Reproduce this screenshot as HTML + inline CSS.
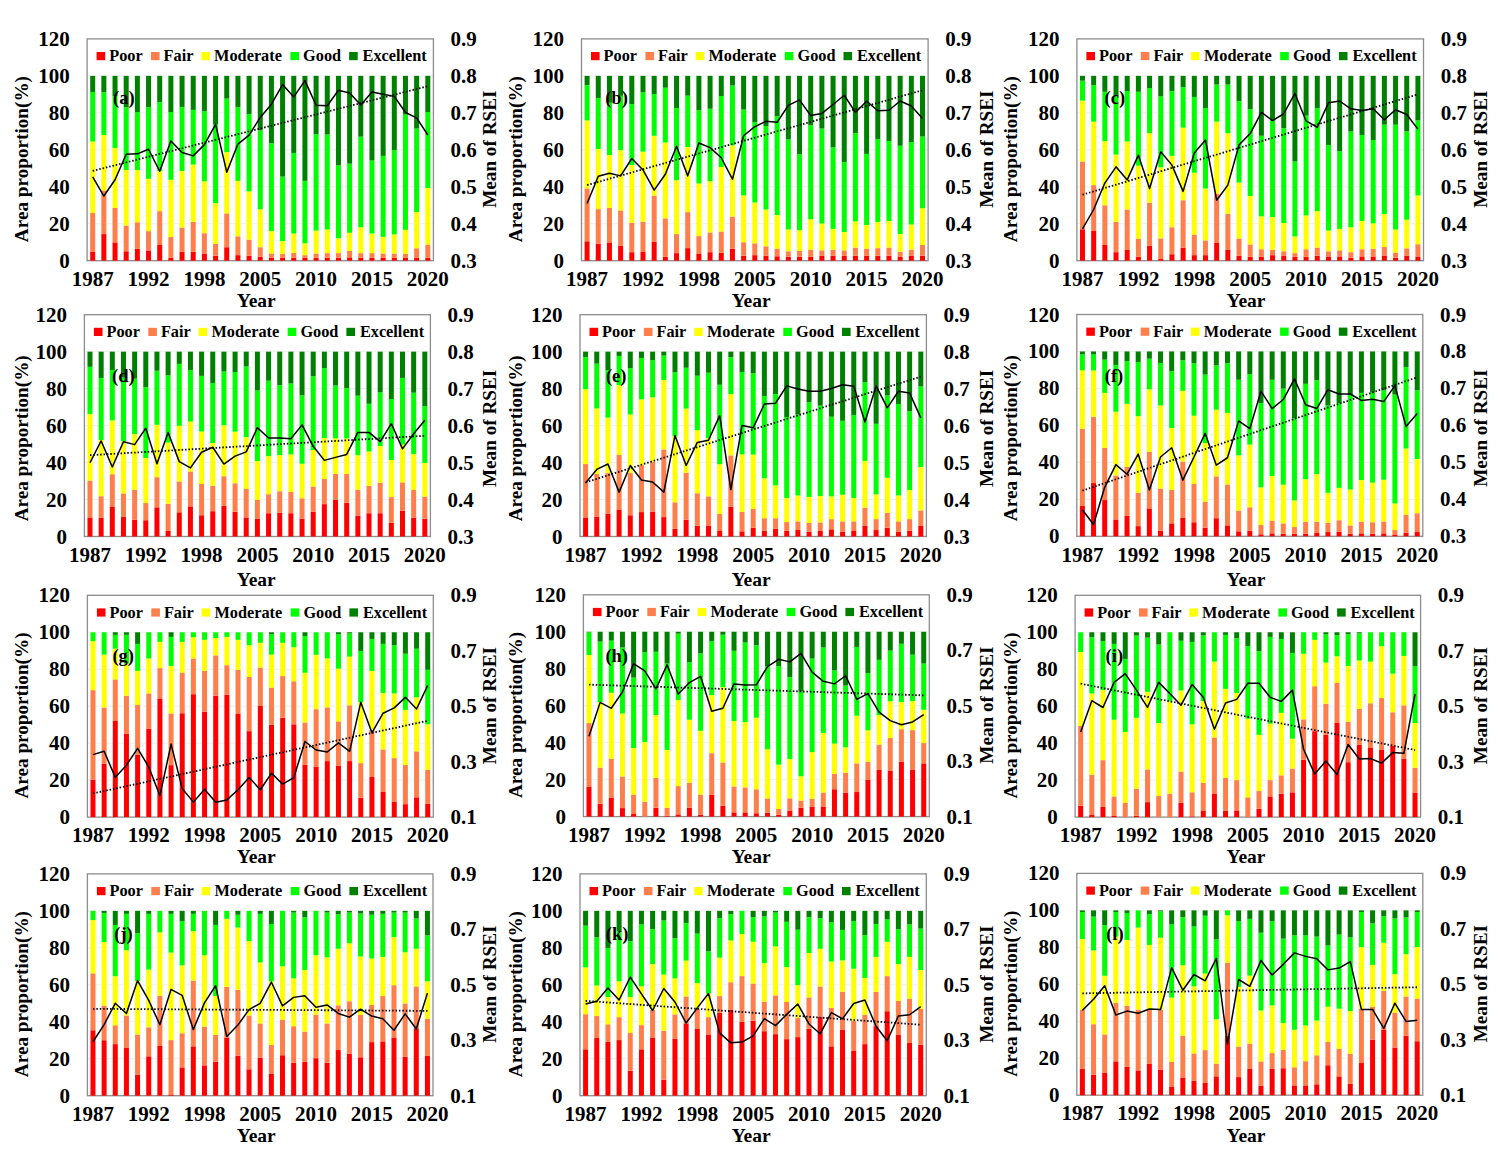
<!DOCTYPE html><html><head><meta charset="utf-8"><style>html,body{margin:0;padding:0;background:#fff;}svg{display:block}text{font-family:'Liberation Serif', serif;font-weight:bold;fill:#000}</style></head><body>
<svg width="1500" height="1154" viewBox="0 0 1500 1154">
<rect x="0" y="0" width="1500" height="1154" fill="#fff"/>
<g><line x1="87.1" y1="223.73" x2="433.4" y2="223.73" stroke="#efefef" stroke-width="1"/><line x1="87.1" y1="186.77" x2="433.4" y2="186.77" stroke="#efefef" stroke-width="1"/><line x1="87.1" y1="149.8" x2="433.4" y2="149.8" stroke="#efefef" stroke-width="1"/><line x1="87.1" y1="112.83" x2="433.4" y2="112.83" stroke="#efefef" stroke-width="1"/><line x1="87.1" y1="75.87" x2="433.4" y2="75.87" stroke="#efefef" stroke-width="1"/><rect x="87.1" y="38.9" width="346.3" height="221.8" fill="none" stroke="#8c8c8c" stroke-width="1.3"/><rect x="90.19" y="251.83" width="5" height="8.87" fill="#ff0000"/><rect x="90.19" y="213.01" width="5" height="38.81" fill="#ff7f4c"/><rect x="90.19" y="141.48" width="5" height="71.53" fill="#ffff00"/><rect x="90.19" y="91.95" width="5" height="49.54" fill="#00ff00"/><rect x="90.19" y="75.87" width="5" height="16.08" fill="#008000"/><rect x="101.36" y="234.08" width="5" height="26.62" fill="#ff0000"/><rect x="101.36" y="190.46" width="5" height="43.62" fill="#ff7f4c"/><rect x="101.36" y="135.01" width="5" height="55.45" fill="#ffff00"/><rect x="101.36" y="92.32" width="5" height="42.7" fill="#00ff00"/><rect x="101.36" y="75.87" width="5" height="16.45" fill="#008000"/><rect x="112.53" y="242.4" width="5" height="18.3" fill="#ff0000"/><rect x="112.53" y="207.84" width="5" height="34.56" fill="#ff7f4c"/><rect x="112.53" y="147.95" width="5" height="59.89" fill="#ffff00"/><rect x="112.53" y="96.01" width="5" height="51.94" fill="#00ff00"/><rect x="112.53" y="75.87" width="5" height="20.15" fill="#008000"/><rect x="123.7" y="251.27" width="5" height="9.43" fill="#ff0000"/><rect x="123.7" y="225.58" width="5" height="25.69" fill="#ff7f4c"/><rect x="123.7" y="169.95" width="5" height="55.63" fill="#ffff00"/><rect x="123.7" y="107.29" width="5" height="62.66" fill="#00ff00"/><rect x="123.7" y="75.87" width="5" height="31.42" fill="#008000"/><rect x="134.87" y="248.87" width="5" height="11.83" fill="#ff0000"/><rect x="134.87" y="222.25" width="5" height="26.62" fill="#ff7f4c"/><rect x="134.87" y="170.13" width="5" height="52.12" fill="#ffff00"/><rect x="134.87" y="112.09" width="5" height="58.04" fill="#00ff00"/><rect x="134.87" y="75.87" width="5" height="36.23" fill="#008000"/><rect x="146.04" y="250.53" width="5" height="10.17" fill="#ff0000"/><rect x="146.04" y="231.13" width="5" height="19.41" fill="#ff7f4c"/><rect x="146.04" y="178.82" width="5" height="52.31" fill="#ffff00"/><rect x="146.04" y="107.1" width="5" height="71.72" fill="#00ff00"/><rect x="146.04" y="75.87" width="5" height="31.24" fill="#008000"/><rect x="157.21" y="244.99" width="5" height="15.71" fill="#ff0000"/><rect x="157.21" y="211.16" width="5" height="33.82" fill="#ff7f4c"/><rect x="157.21" y="171.06" width="5" height="40.11" fill="#ffff00"/><rect x="157.21" y="102.11" width="5" height="68.94" fill="#00ff00"/><rect x="157.21" y="75.87" width="5" height="26.25" fill="#008000"/><rect x="168.38" y="257.74" width="5" height="2.96" fill="#ff0000"/><rect x="168.38" y="237.04" width="5" height="20.7" fill="#ff7f4c"/><rect x="168.38" y="179.74" width="5" height="57.3" fill="#ffff00"/><rect x="168.38" y="112.09" width="5" height="67.65" fill="#00ff00"/><rect x="168.38" y="75.87" width="5" height="36.23" fill="#008000"/><rect x="179.55" y="251.83" width="5" height="8.87" fill="#ff0000"/><rect x="179.55" y="227.61" width="5" height="24.21" fill="#ff7f4c"/><rect x="179.55" y="171.06" width="5" height="56.56" fill="#ffff00"/><rect x="179.55" y="107.1" width="5" height="63.95" fill="#00ff00"/><rect x="179.55" y="75.87" width="5" height="31.24" fill="#008000"/><rect x="190.72" y="251.83" width="5" height="8.87" fill="#ff0000"/><rect x="190.72" y="221.88" width="5" height="29.94" fill="#ff7f4c"/><rect x="190.72" y="164.59" width="5" height="57.3" fill="#ffff00"/><rect x="190.72" y="109.88" width="5" height="54.71" fill="#00ff00"/><rect x="190.72" y="75.87" width="5" height="34.01" fill="#008000"/><rect x="201.9" y="253.49" width="5" height="7.21" fill="#ff0000"/><rect x="201.9" y="233.16" width="5" height="20.33" fill="#ff7f4c"/><rect x="201.9" y="181.22" width="5" height="51.94" fill="#ffff00"/><rect x="201.9" y="111.17" width="5" height="70.05" fill="#00ff00"/><rect x="201.9" y="75.87" width="5" height="35.3" fill="#008000"/><rect x="213.07" y="255.71" width="5" height="4.99" fill="#ff0000"/><rect x="213.07" y="243.88" width="5" height="11.83" fill="#ff7f4c"/><rect x="213.07" y="203.22" width="5" height="40.66" fill="#ffff00"/><rect x="213.07" y="124.29" width="5" height="78.92" fill="#00ff00"/><rect x="213.07" y="75.87" width="5" height="48.43" fill="#008000"/><rect x="224.24" y="247.21" width="5" height="13.49" fill="#ff0000"/><rect x="224.24" y="213.38" width="5" height="33.82" fill="#ff7f4c"/><rect x="224.24" y="152.2" width="5" height="61.18" fill="#ffff00"/><rect x="224.24" y="98.6" width="5" height="53.6" fill="#00ff00"/><rect x="224.24" y="75.87" width="5" height="22.73" fill="#008000"/><rect x="235.41" y="255.16" width="5" height="5.54" fill="#ff0000"/><rect x="235.41" y="236.3" width="5" height="18.85" fill="#ff7f4c"/><rect x="235.41" y="180.85" width="5" height="55.45" fill="#ffff00"/><rect x="235.41" y="107.1" width="5" height="73.75" fill="#00ff00"/><rect x="235.41" y="75.87" width="5" height="31.24" fill="#008000"/><rect x="246.58" y="255.89" width="5" height="4.81" fill="#ff0000"/><rect x="246.58" y="239.63" width="5" height="16.27" fill="#ff7f4c"/><rect x="246.58" y="191.39" width="5" height="48.24" fill="#ffff00"/><rect x="246.58" y="114.13" width="5" height="77.26" fill="#00ff00"/><rect x="246.58" y="75.87" width="5" height="38.26" fill="#008000"/><rect x="257.75" y="256.82" width="5" height="3.88" fill="#ff0000"/><rect x="257.75" y="247.21" width="5" height="9.61" fill="#ff7f4c"/><rect x="257.75" y="209.32" width="5" height="37.89" fill="#ffff00"/><rect x="257.75" y="130.39" width="5" height="78.92" fill="#00ff00"/><rect x="257.75" y="75.87" width="5" height="54.53" fill="#008000"/><rect x="268.92" y="257.74" width="5" height="2.96" fill="#ff0000"/><rect x="268.92" y="253.49" width="5" height="4.25" fill="#ff7f4c"/><rect x="268.92" y="231.13" width="5" height="22.36" fill="#ffff00"/><rect x="268.92" y="143.15" width="5" height="87.98" fill="#00ff00"/><rect x="268.92" y="75.87" width="5" height="67.28" fill="#008000"/><rect x="280.09" y="257.74" width="5" height="2.96" fill="#ff0000"/><rect x="280.09" y="253.86" width="5" height="3.88" fill="#ff7f4c"/><rect x="280.09" y="241.11" width="5" height="12.75" fill="#ffff00"/><rect x="280.09" y="176.6" width="5" height="64.51" fill="#00ff00"/><rect x="280.09" y="75.87" width="5" height="100.73" fill="#008000"/><rect x="291.26" y="257.74" width="5" height="2.96" fill="#ff0000"/><rect x="291.26" y="252.94" width="5" height="4.81" fill="#ff7f4c"/><rect x="291.26" y="233.53" width="5" height="19.41" fill="#ffff00"/><rect x="291.26" y="152.94" width="5" height="80.59" fill="#00ff00"/><rect x="291.26" y="75.87" width="5" height="77.08" fill="#008000"/><rect x="302.43" y="257.93" width="5" height="2.77" fill="#ff0000"/><rect x="302.43" y="255.16" width="5" height="2.77" fill="#ff7f4c"/><rect x="302.43" y="243.33" width="5" height="11.83" fill="#ffff00"/><rect x="302.43" y="180.85" width="5" height="62.47" fill="#00ff00"/><rect x="302.43" y="75.87" width="5" height="104.99" fill="#008000"/><rect x="313.6" y="257.74" width="5" height="2.96" fill="#ff0000"/><rect x="313.6" y="253.49" width="5" height="4.25" fill="#ff7f4c"/><rect x="313.6" y="230.57" width="5" height="22.92" fill="#ffff00"/><rect x="313.6" y="134.09" width="5" height="96.48" fill="#00ff00"/><rect x="313.6" y="75.87" width="5" height="58.22" fill="#008000"/><rect x="324.78" y="257.74" width="5" height="2.96" fill="#ff0000"/><rect x="324.78" y="253.12" width="5" height="4.62" fill="#ff7f4c"/><rect x="324.78" y="229.46" width="5" height="23.66" fill="#ffff00"/><rect x="324.78" y="134.46" width="5" height="95" fill="#00ff00"/><rect x="324.78" y="75.87" width="5" height="58.59" fill="#008000"/><rect x="335.95" y="257.74" width="5" height="2.96" fill="#ff0000"/><rect x="335.95" y="253.12" width="5" height="4.62" fill="#ff7f4c"/><rect x="335.95" y="238.34" width="5" height="14.79" fill="#ffff00"/><rect x="335.95" y="165.33" width="5" height="73.01" fill="#00ff00"/><rect x="335.95" y="75.87" width="5" height="89.46" fill="#008000"/><rect x="347.12" y="257.37" width="5" height="3.33" fill="#ff0000"/><rect x="347.12" y="250.9" width="5" height="6.47" fill="#ff7f4c"/><rect x="347.12" y="232.79" width="5" height="18.11" fill="#ffff00"/><rect x="347.12" y="163.66" width="5" height="69.13" fill="#00ff00"/><rect x="347.12" y="75.87" width="5" height="87.8" fill="#008000"/><rect x="358.29" y="257.74" width="5" height="2.96" fill="#ff0000"/><rect x="358.29" y="253.12" width="5" height="4.62" fill="#ff7f4c"/><rect x="358.29" y="227.25" width="5" height="25.88" fill="#ffff00"/><rect x="358.29" y="136.68" width="5" height="90.57" fill="#00ff00"/><rect x="358.29" y="75.87" width="5" height="60.81" fill="#008000"/><rect x="369.46" y="257.74" width="5" height="2.96" fill="#ff0000"/><rect x="369.46" y="253.12" width="5" height="4.62" fill="#ff7f4c"/><rect x="369.46" y="233.53" width="5" height="19.59" fill="#ffff00"/><rect x="369.46" y="160.52" width="5" height="73.01" fill="#00ff00"/><rect x="369.46" y="75.87" width="5" height="84.65" fill="#008000"/><rect x="380.63" y="257.93" width="5" height="2.77" fill="#ff0000"/><rect x="380.63" y="253.49" width="5" height="4.44" fill="#ff7f4c"/><rect x="380.63" y="236.86" width="5" height="16.64" fill="#ffff00"/><rect x="380.63" y="155.9" width="5" height="80.96" fill="#00ff00"/><rect x="380.63" y="75.87" width="5" height="80.03" fill="#008000"/><rect x="391.8" y="257.93" width="5" height="2.77" fill="#ff0000"/><rect x="391.8" y="253.49" width="5" height="4.44" fill="#ff7f4c"/><rect x="391.8" y="234.45" width="5" height="19.04" fill="#ffff00"/><rect x="391.8" y="150.17" width="5" height="84.28" fill="#00ff00"/><rect x="391.8" y="75.87" width="5" height="74.3" fill="#008000"/><rect x="402.97" y="257.93" width="5" height="2.77" fill="#ff0000"/><rect x="402.97" y="253.86" width="5" height="4.07" fill="#ff7f4c"/><rect x="402.97" y="229.83" width="5" height="24.03" fill="#ffff00"/><rect x="402.97" y="114.5" width="5" height="115.34" fill="#00ff00"/><rect x="402.97" y="75.87" width="5" height="38.63" fill="#008000"/><rect x="414.14" y="257.93" width="5" height="2.77" fill="#ff0000"/><rect x="414.14" y="248.32" width="5" height="9.61" fill="#ff7f4c"/><rect x="414.14" y="212.09" width="5" height="36.23" fill="#ffff00"/><rect x="414.14" y="128.54" width="5" height="83.54" fill="#00ff00"/><rect x="414.14" y="75.87" width="5" height="52.68" fill="#008000"/><rect x="425.31" y="257.74" width="5" height="2.96" fill="#ff0000"/><rect x="425.31" y="244.62" width="5" height="13.12" fill="#ff7f4c"/><rect x="425.31" y="188.06" width="5" height="56.56" fill="#ffff00"/><rect x="425.31" y="112.09" width="5" height="75.97" fill="#00ff00"/><rect x="425.31" y="75.87" width="5" height="36.23" fill="#008000"/><line x1="92.69" y1="170.87" x2="427.81" y2="86.22" stroke="#000" stroke-width="1.8" stroke-dasharray="1.5 1.9"/><polyline points="92.69,176.97 103.86,196.01 115.03,179.74 126.2,154.24 137.37,153.87 148.54,149.25 159.71,171.24 170.88,140.93 182.05,152.57 193.22,155.9 204.4,144.62 215.57,124.29 226.74,172.16 237.91,144.07 249.08,135.2 260.25,117.45 271.42,104.15 282.59,84.55 293.76,96.94 304.93,80.67 316.1,105.26 327.28,105.81 338.45,90.28 349.62,93.06 360.79,104.89 371.96,91.95 383.13,94.35 394.3,96.38 405.47,112.46 416.64,117.82 427.81,135.01" fill="none" stroke="#000" stroke-width="1.5" stroke-linejoin="round"/><rect x="96.6" y="52" width="8.6" height="8.2" fill="#ff0000"/><text x="109.2" y="61.4" font-size="16.3">Poor</text><rect x="151" y="52" width="8.6" height="8.2" fill="#ff7f4c"/><text x="163.6" y="61.4" font-size="16.3">Fair</text><rect x="201.3" y="52" width="8.6" height="8.2" fill="#ffff00"/><text x="214.1" y="61.4" font-size="16.3">Moderate</text><rect x="290.4" y="52" width="8.6" height="8.2" fill="#00ff00"/><text x="303.1" y="61.4" font-size="16.3">Good</text><rect x="349.1" y="52" width="8.6" height="8.2" fill="#008000"/><text x="362.6" y="61.4" font-size="16.3">Excellent</text><text x="113.1" y="104.2" font-size="18.5">(a)</text><text x="69.7" y="267.7" font-size="21" text-anchor="end">0</text><text x="69.7" y="230.73" font-size="21" text-anchor="end">20</text><text x="69.7" y="193.77" font-size="21" text-anchor="end">40</text><text x="69.7" y="156.8" font-size="21" text-anchor="end">60</text><text x="69.7" y="119.83" font-size="21" text-anchor="end">80</text><text x="69.7" y="82.87" font-size="21" text-anchor="end">100</text><text x="69.7" y="45.9" font-size="21" text-anchor="end">120</text><text x="450.6" y="267.7" font-size="21">0.3</text><text x="450.6" y="230.73" font-size="21">0.4</text><text x="450.6" y="193.77" font-size="21">0.5</text><text x="450.6" y="156.8" font-size="21">0.6</text><text x="450.6" y="119.83" font-size="21">0.7</text><text x="450.6" y="82.87" font-size="21">0.8</text><text x="450.6" y="45.9" font-size="21">0.9</text><text x="92.69" y="285.9" font-size="21" text-anchor="middle">1987</text><text x="148.54" y="285.9" font-size="21" text-anchor="middle">1992</text><text x="204.4" y="285.9" font-size="21" text-anchor="middle">1998</text><text x="260.25" y="285.9" font-size="21" text-anchor="middle">2005</text><text x="316.1" y="285.9" font-size="21" text-anchor="middle">2010</text><text x="371.96" y="285.9" font-size="21" text-anchor="middle">2015</text><text x="427.81" y="285.9" font-size="21" text-anchor="middle">2020</text><text x="256.3" y="307" font-size="19.5" text-anchor="middle">Year</text><text transform="translate(21.6,159.1) rotate(-90)" x="0" y="0" font-size="19.2" text-anchor="middle" dy="6.5">Area proportion(%)</text><text transform="translate(489,149.2) rotate(-90)" x="0" y="0" font-size="19.2" text-anchor="middle" dy="6.5">Mean of RSEI</text></g>
<g><line x1="581.5" y1="223.73" x2="928.1" y2="223.73" stroke="#efefef" stroke-width="1"/><line x1="581.5" y1="186.77" x2="928.1" y2="186.77" stroke="#efefef" stroke-width="1"/><line x1="581.5" y1="149.8" x2="928.1" y2="149.8" stroke="#efefef" stroke-width="1"/><line x1="581.5" y1="112.83" x2="928.1" y2="112.83" stroke="#efefef" stroke-width="1"/><line x1="581.5" y1="75.87" x2="928.1" y2="75.87" stroke="#efefef" stroke-width="1"/><rect x="581.5" y="38.9" width="346.6" height="221.8" fill="none" stroke="#8c8c8c" stroke-width="1.3"/><rect x="584.59" y="241.29" width="5" height="19.41" fill="#ff0000"/><rect x="584.59" y="188.43" width="5" height="52.86" fill="#ff7f4c"/><rect x="584.59" y="120.41" width="5" height="68.02" fill="#ffff00"/><rect x="584.59" y="85.11" width="5" height="35.3" fill="#00ff00"/><rect x="584.59" y="75.87" width="5" height="9.24" fill="#008000"/><rect x="595.77" y="243.88" width="5" height="16.82" fill="#ff0000"/><rect x="595.77" y="209.13" width="5" height="34.75" fill="#ff7f4c"/><rect x="595.77" y="149.06" width="5" height="60.07" fill="#ffff00"/><rect x="595.77" y="98.05" width="5" height="51.01" fill="#00ff00"/><rect x="595.77" y="75.87" width="5" height="22.18" fill="#008000"/><rect x="606.95" y="242.4" width="5" height="18.3" fill="#ff0000"/><rect x="606.95" y="207.84" width="5" height="34.56" fill="#ff7f4c"/><rect x="606.95" y="154.98" width="5" height="52.86" fill="#ffff00"/><rect x="606.95" y="102.67" width="5" height="52.31" fill="#00ff00"/><rect x="606.95" y="75.87" width="5" height="26.8" fill="#008000"/><rect x="618.13" y="245.91" width="5" height="14.79" fill="#ff0000"/><rect x="618.13" y="210.43" width="5" height="35.49" fill="#ff7f4c"/><rect x="618.13" y="150.17" width="5" height="60.26" fill="#ffff00"/><rect x="618.13" y="95.83" width="5" height="54.34" fill="#00ff00"/><rect x="618.13" y="75.87" width="5" height="19.96" fill="#008000"/><rect x="629.31" y="252.2" width="5" height="8.5" fill="#ff0000"/><rect x="629.31" y="222.81" width="5" height="29.39" fill="#ff7f4c"/><rect x="629.31" y="165.14" width="5" height="57.67" fill="#ffff00"/><rect x="629.31" y="104.15" width="5" height="61" fill="#00ff00"/><rect x="629.31" y="75.87" width="5" height="28.28" fill="#008000"/><rect x="640.49" y="252.01" width="5" height="8.69" fill="#ff0000"/><rect x="640.49" y="221.7" width="5" height="30.31" fill="#ff7f4c"/><rect x="640.49" y="151.65" width="5" height="70.05" fill="#ffff00"/><rect x="640.49" y="92.32" width="5" height="59.33" fill="#00ff00"/><rect x="640.49" y="75.87" width="5" height="16.45" fill="#008000"/><rect x="651.67" y="241.66" width="5" height="19.04" fill="#ff0000"/><rect x="651.67" y="195.64" width="5" height="46.02" fill="#ff7f4c"/><rect x="651.67" y="135.75" width="5" height="59.89" fill="#ffff00"/><rect x="651.67" y="93.98" width="5" height="41.77" fill="#00ff00"/><rect x="651.67" y="75.87" width="5" height="18.11" fill="#008000"/><rect x="662.85" y="256.82" width="5" height="3.88" fill="#ff0000"/><rect x="662.85" y="218.37" width="5" height="38.45" fill="#ff7f4c"/><rect x="662.85" y="142.41" width="5" height="75.97" fill="#ffff00"/><rect x="662.85" y="87.7" width="5" height="54.71" fill="#00ff00"/><rect x="662.85" y="75.87" width="5" height="11.83" fill="#008000"/><rect x="674.04" y="253.12" width="5" height="7.58" fill="#ff0000"/><rect x="674.04" y="234.08" width="5" height="19.04" fill="#ff7f4c"/><rect x="674.04" y="180.3" width="5" height="53.79" fill="#ffff00"/><rect x="674.04" y="108.03" width="5" height="72.27" fill="#00ff00"/><rect x="674.04" y="75.87" width="5" height="32.16" fill="#008000"/><rect x="685.22" y="248.13" width="5" height="12.57" fill="#ff0000"/><rect x="685.22" y="212.09" width="5" height="36.04" fill="#ff7f4c"/><rect x="685.22" y="147.03" width="5" height="65.06" fill="#ffff00"/><rect x="685.22" y="95.64" width="5" height="51.38" fill="#00ff00"/><rect x="685.22" y="75.87" width="5" height="19.78" fill="#008000"/><rect x="696.4" y="253.49" width="5" height="7.21" fill="#ff0000"/><rect x="696.4" y="236.12" width="5" height="17.37" fill="#ff7f4c"/><rect x="696.4" y="183.44" width="5" height="52.68" fill="#ffff00"/><rect x="696.4" y="110.25" width="5" height="73.19" fill="#00ff00"/><rect x="696.4" y="75.87" width="5" height="34.38" fill="#008000"/><rect x="707.58" y="252.2" width="5" height="8.5" fill="#ff0000"/><rect x="707.58" y="232.42" width="5" height="19.78" fill="#ff7f4c"/><rect x="707.58" y="181.22" width="5" height="51.2" fill="#ffff00"/><rect x="707.58" y="108.77" width="5" height="72.45" fill="#00ff00"/><rect x="707.58" y="75.87" width="5" height="32.9" fill="#008000"/><rect x="718.76" y="252.94" width="5" height="7.76" fill="#ff0000"/><rect x="718.76" y="231.5" width="5" height="21.44" fill="#ff7f4c"/><rect x="718.76" y="166.99" width="5" height="64.51" fill="#ffff00"/><rect x="718.76" y="96.01" width="5" height="70.98" fill="#00ff00"/><rect x="718.76" y="75.87" width="5" height="20.15" fill="#008000"/><rect x="729.94" y="248.87" width="5" height="11.83" fill="#ff0000"/><rect x="729.94" y="216.71" width="5" height="32.16" fill="#ff7f4c"/><rect x="729.94" y="145.36" width="5" height="71.35" fill="#ffff00"/><rect x="729.94" y="85.48" width="5" height="59.89" fill="#00ff00"/><rect x="729.94" y="75.87" width="5" height="9.61" fill="#008000"/><rect x="741.12" y="255.71" width="5" height="4.99" fill="#ff0000"/><rect x="741.12" y="242.22" width="5" height="13.49" fill="#ff7f4c"/><rect x="741.12" y="195.45" width="5" height="46.76" fill="#ffff00"/><rect x="741.12" y="109.51" width="5" height="85.95" fill="#00ff00"/><rect x="741.12" y="75.87" width="5" height="33.64" fill="#008000"/><rect x="752.3" y="255.16" width="5" height="5.54" fill="#ff0000"/><rect x="752.3" y="243.33" width="5" height="11.83" fill="#ff7f4c"/><rect x="752.3" y="202.48" width="5" height="40.85" fill="#ffff00"/><rect x="752.3" y="122.26" width="5" height="80.22" fill="#00ff00"/><rect x="752.3" y="75.87" width="5" height="46.39" fill="#008000"/><rect x="763.48" y="255.89" width="5" height="4.81" fill="#ff0000"/><rect x="763.48" y="246.28" width="5" height="9.61" fill="#ff7f4c"/><rect x="763.48" y="209.5" width="5" height="36.78" fill="#ffff00"/><rect x="763.48" y="125.96" width="5" height="83.54" fill="#00ff00"/><rect x="763.48" y="75.87" width="5" height="50.09" fill="#008000"/><rect x="774.66" y="256.26" width="5" height="4.44" fill="#ff0000"/><rect x="774.66" y="248.69" width="5" height="7.58" fill="#ff7f4c"/><rect x="774.66" y="215.05" width="5" height="33.64" fill="#ffff00"/><rect x="774.66" y="116.16" width="5" height="98.89" fill="#00ff00"/><rect x="774.66" y="75.87" width="5" height="40.29" fill="#008000"/><rect x="785.84" y="256.82" width="5" height="3.88" fill="#ff0000"/><rect x="785.84" y="251.27" width="5" height="5.54" fill="#ff7f4c"/><rect x="785.84" y="229.46" width="5" height="21.81" fill="#ffff00"/><rect x="785.84" y="139.45" width="5" height="90.01" fill="#00ff00"/><rect x="785.84" y="75.87" width="5" height="63.58" fill="#008000"/><rect x="797.02" y="256.82" width="5" height="3.88" fill="#ff0000"/><rect x="797.02" y="250.9" width="5" height="5.91" fill="#ff7f4c"/><rect x="797.02" y="230.2" width="5" height="20.7" fill="#ffff00"/><rect x="797.02" y="154.24" width="5" height="75.97" fill="#00ff00"/><rect x="797.02" y="75.87" width="5" height="78.37" fill="#008000"/><rect x="808.2" y="256.82" width="5" height="3.88" fill="#ff0000"/><rect x="808.2" y="249.79" width="5" height="7.02" fill="#ff7f4c"/><rect x="808.2" y="219.3" width="5" height="30.5" fill="#ffff00"/><rect x="808.2" y="125.22" width="5" height="94.08" fill="#00ff00"/><rect x="808.2" y="75.87" width="5" height="49.35" fill="#008000"/><rect x="819.38" y="255.89" width="5" height="4.81" fill="#ff0000"/><rect x="819.38" y="250.35" width="5" height="5.54" fill="#ff7f4c"/><rect x="819.38" y="223.55" width="5" height="26.8" fill="#ffff00"/><rect x="819.38" y="128.54" width="5" height="95" fill="#00ff00"/><rect x="819.38" y="75.87" width="5" height="52.68" fill="#008000"/><rect x="830.56" y="255.89" width="5" height="4.81" fill="#ff0000"/><rect x="830.56" y="249.79" width="5" height="6.1" fill="#ff7f4c"/><rect x="830.56" y="228.91" width="5" height="20.89" fill="#ffff00"/><rect x="830.56" y="147.4" width="5" height="81.51" fill="#00ff00"/><rect x="830.56" y="75.87" width="5" height="71.53" fill="#008000"/><rect x="841.75" y="255.89" width="5" height="4.81" fill="#ff0000"/><rect x="841.75" y="250.35" width="5" height="5.54" fill="#ff7f4c"/><rect x="841.75" y="232.05" width="5" height="18.3" fill="#ffff00"/><rect x="841.75" y="162" width="5" height="70.05" fill="#00ff00"/><rect x="841.75" y="75.87" width="5" height="86.13" fill="#008000"/><rect x="852.93" y="255.71" width="5" height="4.99" fill="#ff0000"/><rect x="852.93" y="247.58" width="5" height="8.13" fill="#ff7f4c"/><rect x="852.93" y="221.33" width="5" height="26.25" fill="#ffff00"/><rect x="852.93" y="133.16" width="5" height="88.17" fill="#00ff00"/><rect x="852.93" y="75.87" width="5" height="57.3" fill="#008000"/><rect x="864.11" y="255.89" width="5" height="4.81" fill="#ff0000"/><rect x="864.11" y="248.69" width="5" height="7.21" fill="#ff7f4c"/><rect x="864.11" y="225.03" width="5" height="23.66" fill="#ffff00"/><rect x="864.11" y="153.87" width="5" height="71.16" fill="#00ff00"/><rect x="864.11" y="75.87" width="5" height="78" fill="#008000"/><rect x="875.29" y="255.71" width="5" height="4.99" fill="#ff0000"/><rect x="875.29" y="248.13" width="5" height="7.58" fill="#ff7f4c"/><rect x="875.29" y="221.88" width="5" height="26.25" fill="#ffff00"/><rect x="875.29" y="139.08" width="5" height="82.81" fill="#00ff00"/><rect x="875.29" y="75.87" width="5" height="63.21" fill="#008000"/><rect x="886.47" y="255.71" width="5" height="4.99" fill="#ff0000"/><rect x="886.47" y="247.58" width="5" height="8.13" fill="#ff7f4c"/><rect x="886.47" y="220.96" width="5" height="26.62" fill="#ffff00"/><rect x="886.47" y="140.93" width="5" height="80.03" fill="#00ff00"/><rect x="886.47" y="75.87" width="5" height="65.06" fill="#008000"/><rect x="897.65" y="256.82" width="5" height="3.88" fill="#ff0000"/><rect x="897.65" y="251.83" width="5" height="4.99" fill="#ff7f4c"/><rect x="897.65" y="234.08" width="5" height="17.74" fill="#ffff00"/><rect x="897.65" y="145.73" width="5" height="88.35" fill="#00ff00"/><rect x="897.65" y="75.87" width="5" height="69.87" fill="#008000"/><rect x="908.83" y="255.89" width="5" height="4.81" fill="#ff0000"/><rect x="908.83" y="249.61" width="5" height="6.28" fill="#ff7f4c"/><rect x="908.83" y="224.47" width="5" height="25.14" fill="#ffff00"/><rect x="908.83" y="142.04" width="5" height="82.44" fill="#00ff00"/><rect x="908.83" y="75.87" width="5" height="66.17" fill="#008000"/><rect x="920.01" y="255.71" width="5" height="4.99" fill="#ff0000"/><rect x="920.01" y="244.99" width="5" height="10.72" fill="#ff7f4c"/><rect x="920.01" y="208.21" width="5" height="36.78" fill="#ffff00"/><rect x="920.01" y="136.49" width="5" height="71.72" fill="#00ff00"/><rect x="920.01" y="75.87" width="5" height="60.63" fill="#008000"/><line x1="587.09" y1="185.1" x2="922.51" y2="90.28" stroke="#000" stroke-width="1.8" stroke-dasharray="1.5 1.9"/><polyline points="587.09,203.59 598.27,176.23 609.45,173.27 620.63,175.86 631.81,158.49 642.99,169.95 654.17,190.09 665.35,174.2 676.54,146.29 687.72,175.86 698.9,142.96 710.08,147.58 721.26,157.75 732.44,179.19 743.62,135.75 754.8,126.7 765.98,121.34 777.16,122.26 788.34,105.44 799.52,99.89 810.7,115.61 821.88,113.39 833.06,104.52 844.25,95.27 855.43,112.46 866.61,101.19 877.79,110.8 888.97,110.25 900.15,101 911.33,105.99 922.51,118.38" fill="none" stroke="#000" stroke-width="1.5" stroke-linejoin="round"/><rect x="591" y="52" width="8.6" height="8.2" fill="#ff0000"/><text x="603.6" y="61.4" font-size="16.3">Poor</text><rect x="645.4" y="52" width="8.6" height="8.2" fill="#ff7f4c"/><text x="658" y="61.4" font-size="16.3">Fair</text><rect x="695.7" y="52" width="8.6" height="8.2" fill="#ffff00"/><text x="708.5" y="61.4" font-size="16.3">Moderate</text><rect x="784.8" y="52" width="8.6" height="8.2" fill="#00ff00"/><text x="797.5" y="61.4" font-size="16.3">Good</text><rect x="843.5" y="52" width="8.6" height="8.2" fill="#008000"/><text x="857" y="61.4" font-size="16.3">Excellent</text><text x="605.2" y="104.1" font-size="18.5">(b)</text><text x="564.1" y="267.7" font-size="21" text-anchor="end">0</text><text x="564.1" y="230.73" font-size="21" text-anchor="end">20</text><text x="564.1" y="193.77" font-size="21" text-anchor="end">40</text><text x="564.1" y="156.8" font-size="21" text-anchor="end">60</text><text x="564.1" y="119.83" font-size="21" text-anchor="end">80</text><text x="564.1" y="82.87" font-size="21" text-anchor="end">100</text><text x="564.1" y="45.9" font-size="21" text-anchor="end">120</text><text x="945.3" y="267.7" font-size="21">0.3</text><text x="945.3" y="230.73" font-size="21">0.4</text><text x="945.3" y="193.77" font-size="21">0.5</text><text x="945.3" y="156.8" font-size="21">0.6</text><text x="945.3" y="119.83" font-size="21">0.7</text><text x="945.3" y="82.87" font-size="21">0.8</text><text x="945.3" y="45.9" font-size="21">0.9</text><text x="587.09" y="285.9" font-size="21" text-anchor="middle">1987</text><text x="642.99" y="285.9" font-size="21" text-anchor="middle">1992</text><text x="698.9" y="285.9" font-size="21" text-anchor="middle">1998</text><text x="754.8" y="285.9" font-size="21" text-anchor="middle">2005</text><text x="810.7" y="285.9" font-size="21" text-anchor="middle">2010</text><text x="866.61" y="285.9" font-size="21" text-anchor="middle">2015</text><text x="922.51" y="285.9" font-size="21" text-anchor="middle">2020</text><text x="751.2" y="307" font-size="19.5" text-anchor="middle">Year</text><text transform="translate(515.6,159.1) rotate(-90)" x="0" y="0" font-size="19.2" text-anchor="middle" dy="6.5">Area proportion(%)</text><text transform="translate(986.7,149.2) rotate(-90)" x="0" y="0" font-size="19.2" text-anchor="middle" dy="6.5">Mean of RSEI</text></g>
<g><line x1="1076.9" y1="223.73" x2="1423.5" y2="223.73" stroke="#efefef" stroke-width="1"/><line x1="1076.9" y1="186.77" x2="1423.5" y2="186.77" stroke="#efefef" stroke-width="1"/><line x1="1076.9" y1="149.8" x2="1423.5" y2="149.8" stroke="#efefef" stroke-width="1"/><line x1="1076.9" y1="112.83" x2="1423.5" y2="112.83" stroke="#efefef" stroke-width="1"/><line x1="1076.9" y1="75.87" x2="1423.5" y2="75.87" stroke="#efefef" stroke-width="1"/><rect x="1076.9" y="38.9" width="346.6" height="221.8" fill="none" stroke="#8c8c8c" stroke-width="1.3"/><rect x="1079.99" y="229.28" width="5" height="31.42" fill="#ff0000"/><rect x="1079.99" y="161.44" width="5" height="67.83" fill="#ff7f4c"/><rect x="1079.99" y="100.63" width="5" height="60.81" fill="#ffff00"/><rect x="1079.99" y="80.67" width="5" height="19.96" fill="#00ff00"/><rect x="1079.99" y="75.87" width="5" height="4.81" fill="#008000"/><rect x="1091.17" y="230.94" width="5" height="29.76" fill="#ff0000"/><rect x="1091.17" y="185.1" width="5" height="45.84" fill="#ff7f4c"/><rect x="1091.17" y="121.71" width="5" height="63.4" fill="#ffff00"/><rect x="1091.17" y="85.11" width="5" height="36.6" fill="#00ff00"/><rect x="1091.17" y="75.87" width="5" height="9.24" fill="#008000"/><rect x="1102.35" y="244.99" width="5" height="15.71" fill="#ff0000"/><rect x="1102.35" y="205.25" width="5" height="39.74" fill="#ff7f4c"/><rect x="1102.35" y="141.11" width="5" height="64.14" fill="#ffff00"/><rect x="1102.35" y="91.76" width="5" height="49.35" fill="#00ff00"/><rect x="1102.35" y="75.87" width="5" height="15.9" fill="#008000"/><rect x="1113.53" y="252.2" width="5" height="8.5" fill="#ff0000"/><rect x="1113.53" y="221.88" width="5" height="30.31" fill="#ff7f4c"/><rect x="1113.53" y="154.61" width="5" height="67.28" fill="#ffff00"/><rect x="1113.53" y="95.46" width="5" height="59.15" fill="#00ff00"/><rect x="1113.53" y="75.87" width="5" height="19.59" fill="#008000"/><rect x="1124.71" y="249.98" width="5" height="10.72" fill="#ff0000"/><rect x="1124.71" y="209.5" width="5" height="40.48" fill="#ff7f4c"/><rect x="1124.71" y="141.48" width="5" height="68.02" fill="#ffff00"/><rect x="1124.71" y="91.02" width="5" height="50.46" fill="#00ff00"/><rect x="1124.71" y="75.87" width="5" height="15.16" fill="#008000"/><rect x="1135.89" y="256.82" width="5" height="3.88" fill="#ff0000"/><rect x="1135.89" y="238.7" width="5" height="18.11" fill="#ff7f4c"/><rect x="1135.89" y="165.7" width="5" height="73.01" fill="#ffff00"/><rect x="1135.89" y="91.76" width="5" height="73.93" fill="#00ff00"/><rect x="1135.89" y="75.87" width="5" height="15.9" fill="#008000"/><rect x="1147.07" y="245.91" width="5" height="14.79" fill="#ff0000"/><rect x="1147.07" y="202.85" width="5" height="43.07" fill="#ff7f4c"/><rect x="1147.07" y="133.16" width="5" height="69.68" fill="#ffff00"/><rect x="1147.07" y="88.07" width="5" height="45.1" fill="#00ff00"/><rect x="1147.07" y="75.87" width="5" height="12.2" fill="#008000"/><rect x="1158.25" y="259.04" width="5" height="1.66" fill="#ff0000"/><rect x="1158.25" y="238.34" width="5" height="20.7" fill="#ff7f4c"/><rect x="1158.25" y="167.36" width="5" height="70.98" fill="#ffff00"/><rect x="1158.25" y="96.38" width="5" height="70.98" fill="#00ff00"/><rect x="1158.25" y="75.87" width="5" height="20.52" fill="#008000"/><rect x="1169.44" y="254.23" width="5" height="6.47" fill="#ff0000"/><rect x="1169.44" y="227.25" width="5" height="26.99" fill="#ff7f4c"/><rect x="1169.44" y="155.9" width="5" height="71.35" fill="#ffff00"/><rect x="1169.44" y="91.02" width="5" height="64.88" fill="#00ff00"/><rect x="1169.44" y="75.87" width="5" height="15.16" fill="#008000"/><rect x="1180.62" y="247.58" width="5" height="13.12" fill="#ff0000"/><rect x="1180.62" y="200.26" width="5" height="47.32" fill="#ff7f4c"/><rect x="1180.62" y="127.62" width="5" height="72.64" fill="#ffff00"/><rect x="1180.62" y="87.14" width="5" height="40.48" fill="#00ff00"/><rect x="1180.62" y="75.87" width="5" height="11.27" fill="#008000"/><rect x="1191.8" y="255.16" width="5" height="5.54" fill="#ff0000"/><rect x="1191.8" y="234.82" width="5" height="20.33" fill="#ff7f4c"/><rect x="1191.8" y="172.72" width="5" height="62.1" fill="#ffff00"/><rect x="1191.8" y="96.94" width="5" height="75.78" fill="#00ff00"/><rect x="1191.8" y="75.87" width="5" height="21.07" fill="#008000"/><rect x="1202.98" y="255.16" width="5" height="5.54" fill="#ff0000"/><rect x="1202.98" y="240.37" width="5" height="14.79" fill="#ff7f4c"/><rect x="1202.98" y="188.43" width="5" height="51.94" fill="#ffff00"/><rect x="1202.98" y="108.03" width="5" height="80.4" fill="#00ff00"/><rect x="1202.98" y="75.87" width="5" height="32.16" fill="#008000"/><rect x="1214.16" y="242.96" width="5" height="17.74" fill="#ff0000"/><rect x="1214.16" y="193.61" width="5" height="49.35" fill="#ff7f4c"/><rect x="1214.16" y="121.71" width="5" height="71.9" fill="#ffff00"/><rect x="1214.16" y="84.55" width="5" height="37.15" fill="#00ff00"/><rect x="1214.16" y="75.87" width="5" height="8.69" fill="#008000"/><rect x="1225.34" y="249.61" width="5" height="11.09" fill="#ff0000"/><rect x="1225.34" y="213.75" width="5" height="35.86" fill="#ff7f4c"/><rect x="1225.34" y="133.16" width="5" height="80.59" fill="#ffff00"/><rect x="1225.34" y="84.55" width="5" height="48.61" fill="#00ff00"/><rect x="1225.34" y="75.87" width="5" height="8.69" fill="#008000"/><rect x="1236.52" y="255.89" width="5" height="4.81" fill="#ff0000"/><rect x="1236.52" y="238.52" width="5" height="17.37" fill="#ff7f4c"/><rect x="1236.52" y="182.52" width="5" height="56" fill="#ffff00"/><rect x="1236.52" y="101.19" width="5" height="81.33" fill="#00ff00"/><rect x="1236.52" y="75.87" width="5" height="25.32" fill="#008000"/><rect x="1247.7" y="256.82" width="5" height="3.88" fill="#ff0000"/><rect x="1247.7" y="244.43" width="5" height="12.38" fill="#ff7f4c"/><rect x="1247.7" y="196.01" width="5" height="48.43" fill="#ffff00"/><rect x="1247.7" y="109.14" width="5" height="86.87" fill="#00ff00"/><rect x="1247.7" y="75.87" width="5" height="33.27" fill="#008000"/><rect x="1258.88" y="256.82" width="5" height="3.88" fill="#ff0000"/><rect x="1258.88" y="249.24" width="5" height="7.58" fill="#ff7f4c"/><rect x="1258.88" y="216.34" width="5" height="32.9" fill="#ffff00"/><rect x="1258.88" y="135.75" width="5" height="80.59" fill="#00ff00"/><rect x="1258.88" y="75.87" width="5" height="59.89" fill="#008000"/><rect x="1270.06" y="255.16" width="5" height="5.54" fill="#ff0000"/><rect x="1270.06" y="249.79" width="5" height="5.36" fill="#ff7f4c"/><rect x="1270.06" y="217.08" width="5" height="32.72" fill="#ffff00"/><rect x="1270.06" y="120.6" width="5" height="96.48" fill="#00ff00"/><rect x="1270.06" y="75.87" width="5" height="44.73" fill="#008000"/><rect x="1281.24" y="255.89" width="5" height="4.81" fill="#ff0000"/><rect x="1281.24" y="251.27" width="5" height="4.62" fill="#ff7f4c"/><rect x="1281.24" y="222.99" width="5" height="28.28" fill="#ffff00"/><rect x="1281.24" y="128.17" width="5" height="94.82" fill="#00ff00"/><rect x="1281.24" y="75.87" width="5" height="52.31" fill="#008000"/><rect x="1292.42" y="256.82" width="5" height="3.88" fill="#ff0000"/><rect x="1292.42" y="253.12" width="5" height="3.7" fill="#ff7f4c"/><rect x="1292.42" y="236.49" width="5" height="16.64" fill="#ffff00"/><rect x="1292.42" y="161.44" width="5" height="75.04" fill="#00ff00"/><rect x="1292.42" y="75.87" width="5" height="85.58" fill="#008000"/><rect x="1303.6" y="256.82" width="5" height="3.88" fill="#ff0000"/><rect x="1303.6" y="249.24" width="5" height="7.58" fill="#ff7f4c"/><rect x="1303.6" y="215.42" width="5" height="33.82" fill="#ffff00"/><rect x="1303.6" y="115.61" width="5" height="99.81" fill="#00ff00"/><rect x="1303.6" y="75.87" width="5" height="39.74" fill="#008000"/><rect x="1314.78" y="255.71" width="5" height="4.99" fill="#ff0000"/><rect x="1314.78" y="247.58" width="5" height="8.13" fill="#ff7f4c"/><rect x="1314.78" y="211.16" width="5" height="36.41" fill="#ffff00"/><rect x="1314.78" y="108.21" width="5" height="102.95" fill="#00ff00"/><rect x="1314.78" y="75.87" width="5" height="32.35" fill="#008000"/><rect x="1325.96" y="256.45" width="5" height="4.25" fill="#ff0000"/><rect x="1325.96" y="251.27" width="5" height="5.18" fill="#ff7f4c"/><rect x="1325.96" y="230.57" width="5" height="20.7" fill="#ffff00"/><rect x="1325.96" y="144.99" width="5" height="85.58" fill="#00ff00"/><rect x="1325.96" y="75.87" width="5" height="69.13" fill="#008000"/><rect x="1337.15" y="256.45" width="5" height="4.25" fill="#ff0000"/><rect x="1337.15" y="250.35" width="5" height="6.1" fill="#ff7f4c"/><rect x="1337.15" y="228.91" width="5" height="21.44" fill="#ffff00"/><rect x="1337.15" y="151.28" width="5" height="77.63" fill="#00ff00"/><rect x="1337.15" y="75.87" width="5" height="75.41" fill="#008000"/><rect x="1348.33" y="257.74" width="5" height="2.96" fill="#ff0000"/><rect x="1348.33" y="252.2" width="5" height="5.54" fill="#ff7f4c"/><rect x="1348.33" y="227.25" width="5" height="24.95" fill="#ffff00"/><rect x="1348.33" y="131.5" width="5" height="95.74" fill="#00ff00"/><rect x="1348.33" y="75.87" width="5" height="55.63" fill="#008000"/><rect x="1359.51" y="256.45" width="5" height="4.25" fill="#ff0000"/><rect x="1359.51" y="249.24" width="5" height="7.21" fill="#ff7f4c"/><rect x="1359.51" y="220.96" width="5" height="28.28" fill="#ffff00"/><rect x="1359.51" y="135.01" width="5" height="85.95" fill="#00ff00"/><rect x="1359.51" y="75.87" width="5" height="59.15" fill="#008000"/><rect x="1370.69" y="256.45" width="5" height="4.25" fill="#ff0000"/><rect x="1370.69" y="248.87" width="5" height="7.58" fill="#ff7f4c"/><rect x="1370.69" y="223.36" width="5" height="25.51" fill="#ffff00"/><rect x="1370.69" y="140" width="5" height="83.36" fill="#00ff00"/><rect x="1370.69" y="75.87" width="5" height="64.14" fill="#008000"/><rect x="1381.87" y="255.52" width="5" height="5.18" fill="#ff0000"/><rect x="1381.87" y="247.02" width="5" height="8.5" fill="#ff7f4c"/><rect x="1381.87" y="214.12" width="5" height="32.9" fill="#ffff00"/><rect x="1381.87" y="124.66" width="5" height="89.46" fill="#00ff00"/><rect x="1381.87" y="75.87" width="5" height="48.8" fill="#008000"/><rect x="1393.05" y="257.74" width="5" height="2.96" fill="#ff0000"/><rect x="1393.05" y="252.57" width="5" height="5.18" fill="#ff7f4c"/><rect x="1393.05" y="229.46" width="5" height="23.1" fill="#ffff00"/><rect x="1393.05" y="124.66" width="5" height="104.8" fill="#00ff00"/><rect x="1393.05" y="75.87" width="5" height="48.8" fill="#008000"/><rect x="1404.23" y="255.89" width="5" height="4.81" fill="#ff0000"/><rect x="1404.23" y="248.32" width="5" height="7.58" fill="#ff7f4c"/><rect x="1404.23" y="219.67" width="5" height="28.65" fill="#ffff00"/><rect x="1404.23" y="131.32" width="5" height="88.35" fill="#00ff00"/><rect x="1404.23" y="75.87" width="5" height="55.45" fill="#008000"/><rect x="1415.41" y="256.45" width="5" height="4.25" fill="#ff0000"/><rect x="1415.41" y="244.25" width="5" height="12.2" fill="#ff7f4c"/><rect x="1415.41" y="195.45" width="5" height="48.8" fill="#ffff00"/><rect x="1415.41" y="120.41" width="5" height="75.04" fill="#00ff00"/><rect x="1415.41" y="75.87" width="5" height="44.54" fill="#008000"/><line x1="1082.49" y1="194.71" x2="1417.91" y2="94.35" stroke="#000" stroke-width="1.8" stroke-dasharray="1.5 1.9"/><polyline points="1082.49,228.91 1093.67,209.5 1104.85,183.07 1116.03,166.8 1127.21,179.93 1138.39,155.16 1149.57,188.43 1160.75,151.83 1171.94,165.14 1183.12,191.39 1194.3,152.94 1205.48,140 1216.66,200.26 1227.84,185.1 1239.02,144.99 1250.2,133.53 1261.38,112.46 1272.56,120.6 1283.74,113.76 1294.92,93.43 1306.1,120.97 1317.28,127.25 1328.46,102.85 1339.65,101 1350.83,108.77 1362.01,110.43 1373.19,108.77 1384.37,119.67 1395.55,109.69 1406.73,114.5 1417.91,129.1" fill="none" stroke="#000" stroke-width="1.5" stroke-linejoin="round"/><rect x="1086.4" y="52" width="8.6" height="8.2" fill="#ff0000"/><text x="1099" y="61.4" font-size="16.3">Poor</text><rect x="1140.8" y="52" width="8.6" height="8.2" fill="#ff7f4c"/><text x="1153.4" y="61.4" font-size="16.3">Fair</text><rect x="1191.1" y="52" width="8.6" height="8.2" fill="#ffff00"/><text x="1203.9" y="61.4" font-size="16.3">Moderate</text><rect x="1280.2" y="52" width="8.6" height="8.2" fill="#00ff00"/><text x="1292.9" y="61.4" font-size="16.3">Good</text><rect x="1338.9" y="52" width="8.6" height="8.2" fill="#008000"/><text x="1352.4" y="61.4" font-size="16.3">Excellent</text><text x="1104.6" y="104.3" font-size="18.5">(c)</text><text x="1059.5" y="267.7" font-size="21" text-anchor="end">0</text><text x="1059.5" y="230.73" font-size="21" text-anchor="end">20</text><text x="1059.5" y="193.77" font-size="21" text-anchor="end">40</text><text x="1059.5" y="156.8" font-size="21" text-anchor="end">60</text><text x="1059.5" y="119.83" font-size="21" text-anchor="end">80</text><text x="1059.5" y="82.87" font-size="21" text-anchor="end">100</text><text x="1059.5" y="45.9" font-size="21" text-anchor="end">120</text><text x="1440.7" y="267.7" font-size="21">0.3</text><text x="1440.7" y="230.73" font-size="21">0.4</text><text x="1440.7" y="193.77" font-size="21">0.5</text><text x="1440.7" y="156.8" font-size="21">0.6</text><text x="1440.7" y="119.83" font-size="21">0.7</text><text x="1440.7" y="82.87" font-size="21">0.8</text><text x="1440.7" y="45.9" font-size="21">0.9</text><text x="1082.49" y="285.9" font-size="21" text-anchor="middle">1987</text><text x="1138.39" y="285.9" font-size="21" text-anchor="middle">1992</text><text x="1194.3" y="285.9" font-size="21" text-anchor="middle">1998</text><text x="1250.2" y="285.9" font-size="21" text-anchor="middle">2005</text><text x="1306.1" y="285.9" font-size="21" text-anchor="middle">2010</text><text x="1362.01" y="285.9" font-size="21" text-anchor="middle">2015</text><text x="1417.91" y="285.9" font-size="21" text-anchor="middle">2020</text><text x="1246" y="307" font-size="19.5" text-anchor="middle">Year</text><text transform="translate(1010.8,159.1) rotate(-90)" x="0" y="0" font-size="19.2" text-anchor="middle" dy="6.5">Area proportion(%)</text><text transform="translate(1480.5,149.2) rotate(-90)" x="0" y="0" font-size="19.2" text-anchor="middle" dy="6.5">Mean of RSEI</text></g>
<g><line x1="84.4" y1="499.53" x2="430.4" y2="499.53" stroke="#efefef" stroke-width="1"/><line x1="84.4" y1="462.57" x2="430.4" y2="462.57" stroke="#efefef" stroke-width="1"/><line x1="84.4" y1="425.6" x2="430.4" y2="425.6" stroke="#efefef" stroke-width="1"/><line x1="84.4" y1="388.63" x2="430.4" y2="388.63" stroke="#efefef" stroke-width="1"/><line x1="84.4" y1="351.67" x2="430.4" y2="351.67" stroke="#efefef" stroke-width="1"/><rect x="84.4" y="314.7" width="346" height="221.8" fill="none" stroke="#8c8c8c" stroke-width="1.3"/><rect x="87.48" y="517.46" width="5" height="19.04" fill="#ff0000"/><rect x="87.48" y="480.68" width="5" height="36.78" fill="#ff7f4c"/><rect x="87.48" y="413.96" width="5" height="66.72" fill="#ffff00"/><rect x="87.48" y="366.82" width="5" height="47.13" fill="#00ff00"/><rect x="87.48" y="351.67" width="5" height="15.16" fill="#008000"/><rect x="98.64" y="517.83" width="5" height="18.67" fill="#ff0000"/><rect x="98.64" y="496.21" width="5" height="21.63" fill="#ff7f4c"/><rect x="98.64" y="440.02" width="5" height="56.19" fill="#ffff00"/><rect x="98.64" y="377.91" width="5" height="62.1" fill="#00ff00"/><rect x="98.64" y="351.67" width="5" height="26.25" fill="#008000"/><rect x="109.8" y="506.93" width="5" height="29.57" fill="#ff0000"/><rect x="109.8" y="474.21" width="5" height="32.72" fill="#ff7f4c"/><rect x="109.8" y="420.42" width="5" height="53.79" fill="#ffff00"/><rect x="109.8" y="369.97" width="5" height="50.46" fill="#00ff00"/><rect x="109.8" y="351.67" width="5" height="18.3" fill="#008000"/><rect x="120.96" y="516.54" width="5" height="19.96" fill="#ff0000"/><rect x="120.96" y="493.43" width="5" height="23.1" fill="#ff7f4c"/><rect x="120.96" y="441.31" width="5" height="52.12" fill="#ffff00"/><rect x="120.96" y="377.54" width="5" height="63.77" fill="#00ff00"/><rect x="120.96" y="351.67" width="5" height="25.88" fill="#008000"/><rect x="132.13" y="519.87" width="5" height="16.64" fill="#ff0000"/><rect x="132.13" y="489.92" width="5" height="29.94" fill="#ff7f4c"/><rect x="132.13" y="434.1" width="5" height="55.82" fill="#ffff00"/><rect x="132.13" y="378.65" width="5" height="55.45" fill="#00ff00"/><rect x="132.13" y="351.67" width="5" height="26.99" fill="#008000"/><rect x="143.29" y="520.23" width="5" height="16.27" fill="#ff0000"/><rect x="143.29" y="503.05" width="5" height="17.19" fill="#ff7f4c"/><rect x="143.29" y="457.95" width="5" height="45.1" fill="#ffff00"/><rect x="143.29" y="387.15" width="5" height="70.79" fill="#00ff00"/><rect x="143.29" y="351.67" width="5" height="35.49" fill="#008000"/><rect x="154.45" y="507.3" width="5" height="29.2" fill="#ff0000"/><rect x="154.45" y="477.17" width="5" height="30.13" fill="#ff7f4c"/><rect x="154.45" y="424.86" width="5" height="52.31" fill="#ffff00"/><rect x="154.45" y="370.7" width="5" height="54.16" fill="#00ff00"/><rect x="154.45" y="351.67" width="5" height="19.04" fill="#008000"/><rect x="165.61" y="530.96" width="5" height="5.54" fill="#ff0000"/><rect x="165.61" y="503.78" width="5" height="27.17" fill="#ff7f4c"/><rect x="165.61" y="442.6" width="5" height="61.18" fill="#ffff00"/><rect x="165.61" y="375.33" width="5" height="67.28" fill="#00ff00"/><rect x="165.61" y="351.67" width="5" height="23.66" fill="#008000"/><rect x="176.77" y="512.29" width="5" height="24.21" fill="#ff0000"/><rect x="176.77" y="481.42" width="5" height="30.87" fill="#ff7f4c"/><rect x="176.77" y="425.78" width="5" height="55.63" fill="#ffff00"/><rect x="176.77" y="363.87" width="5" height="61.92" fill="#00ff00"/><rect x="176.77" y="351.67" width="5" height="12.2" fill="#008000"/><rect x="187.93" y="506.37" width="5" height="30.13" fill="#ff0000"/><rect x="187.93" y="471.44" width="5" height="34.93" fill="#ff7f4c"/><rect x="187.93" y="421.53" width="5" height="49.91" fill="#ffff00"/><rect x="187.93" y="369.97" width="5" height="51.57" fill="#00ff00"/><rect x="187.93" y="351.67" width="5" height="18.3" fill="#008000"/><rect x="199.09" y="515.24" width="5" height="21.26" fill="#ff0000"/><rect x="199.09" y="484.01" width="5" height="31.24" fill="#ff7f4c"/><rect x="199.09" y="431.51" width="5" height="52.49" fill="#ffff00"/><rect x="199.09" y="375.88" width="5" height="55.63" fill="#00ff00"/><rect x="199.09" y="351.67" width="5" height="24.21" fill="#008000"/><rect x="210.25" y="511.18" width="5" height="25.32" fill="#ff0000"/><rect x="210.25" y="485.86" width="5" height="25.32" fill="#ff7f4c"/><rect x="210.25" y="442.97" width="5" height="42.88" fill="#ffff00"/><rect x="210.25" y="382.9" width="5" height="60.07" fill="#00ff00"/><rect x="210.25" y="351.67" width="5" height="31.24" fill="#008000"/><rect x="221.42" y="505.82" width="5" height="30.68" fill="#ff0000"/><rect x="221.42" y="476.24" width="5" height="29.57" fill="#ff7f4c"/><rect x="221.42" y="425.23" width="5" height="51.01" fill="#ffff00"/><rect x="221.42" y="371.44" width="5" height="53.79" fill="#00ff00"/><rect x="221.42" y="351.67" width="5" height="19.78" fill="#008000"/><rect x="232.58" y="511.73" width="5" height="24.77" fill="#ff0000"/><rect x="232.58" y="483.27" width="5" height="28.46" fill="#ff7f4c"/><rect x="232.58" y="431.7" width="5" height="51.57" fill="#ffff00"/><rect x="232.58" y="372" width="5" height="59.7" fill="#00ff00"/><rect x="232.58" y="351.67" width="5" height="20.33" fill="#008000"/><rect x="243.74" y="517.46" width="5" height="19.04" fill="#ff0000"/><rect x="243.74" y="489" width="5" height="28.46" fill="#ff7f4c"/><rect x="243.74" y="437.06" width="5" height="51.94" fill="#ffff00"/><rect x="243.74" y="366.45" width="5" height="70.61" fill="#00ff00"/><rect x="243.74" y="351.67" width="5" height="14.79" fill="#008000"/><rect x="254.9" y="518.57" width="5" height="17.93" fill="#ff0000"/><rect x="254.9" y="499.9" width="5" height="18.67" fill="#ff7f4c"/><rect x="254.9" y="461.09" width="5" height="38.81" fill="#ffff00"/><rect x="254.9" y="390.48" width="5" height="70.61" fill="#00ff00"/><rect x="254.9" y="351.67" width="5" height="38.81" fill="#008000"/><rect x="266.06" y="513.21" width="5" height="23.29" fill="#ff0000"/><rect x="266.06" y="494.17" width="5" height="19.04" fill="#ff7f4c"/><rect x="266.06" y="456.1" width="5" height="38.08" fill="#ffff00"/><rect x="266.06" y="380.69" width="5" height="75.41" fill="#00ff00"/><rect x="266.06" y="351.67" width="5" height="29.02" fill="#008000"/><rect x="277.22" y="512.84" width="5" height="23.66" fill="#ff0000"/><rect x="277.22" y="491.22" width="5" height="21.63" fill="#ff7f4c"/><rect x="277.22" y="455.17" width="5" height="36.04" fill="#ffff00"/><rect x="277.22" y="385.12" width="5" height="70.05" fill="#00ff00"/><rect x="277.22" y="351.67" width="5" height="33.45" fill="#008000"/><rect x="288.38" y="513.21" width="5" height="23.29" fill="#ff0000"/><rect x="288.38" y="491.96" width="5" height="21.26" fill="#ff7f4c"/><rect x="288.38" y="454.43" width="5" height="37.52" fill="#ffff00"/><rect x="288.38" y="383.46" width="5" height="70.98" fill="#00ff00"/><rect x="288.38" y="351.67" width="5" height="31.79" fill="#008000"/><rect x="299.55" y="518.57" width="5" height="17.93" fill="#ff0000"/><rect x="299.55" y="498.24" width="5" height="20.33" fill="#ff7f4c"/><rect x="299.55" y="463.68" width="5" height="34.56" fill="#ffff00"/><rect x="299.55" y="395.29" width="5" height="68.39" fill="#00ff00"/><rect x="299.55" y="351.67" width="5" height="43.62" fill="#008000"/><rect x="310.71" y="511.73" width="5" height="24.77" fill="#ff0000"/><rect x="310.71" y="486.6" width="5" height="25.14" fill="#ff7f4c"/><rect x="310.71" y="450" width="5" height="36.6" fill="#ffff00"/><rect x="310.71" y="376.25" width="5" height="73.75" fill="#00ff00"/><rect x="310.71" y="351.67" width="5" height="24.58" fill="#008000"/><rect x="321.87" y="504.15" width="5" height="32.35" fill="#ff0000"/><rect x="321.87" y="479.02" width="5" height="25.14" fill="#ff7f4c"/><rect x="321.87" y="437.98" width="5" height="41.03" fill="#ffff00"/><rect x="321.87" y="368.12" width="5" height="69.87" fill="#00ff00"/><rect x="321.87" y="351.67" width="5" height="16.45" fill="#008000"/><rect x="333.03" y="499.72" width="5" height="36.78" fill="#ff0000"/><rect x="333.03" y="473.84" width="5" height="25.88" fill="#ff7f4c"/><rect x="333.03" y="438.35" width="5" height="35.49" fill="#ffff00"/><rect x="333.03" y="385.49" width="5" height="52.86" fill="#00ff00"/><rect x="333.03" y="351.67" width="5" height="33.82" fill="#008000"/><rect x="344.19" y="502.68" width="5" height="33.82" fill="#ff0000"/><rect x="344.19" y="473.84" width="5" height="28.83" fill="#ff7f4c"/><rect x="344.19" y="438.35" width="5" height="35.49" fill="#ffff00"/><rect x="344.19" y="388.08" width="5" height="50.27" fill="#00ff00"/><rect x="344.19" y="351.67" width="5" height="36.41" fill="#008000"/><rect x="355.35" y="515.61" width="5" height="20.89" fill="#ff0000"/><rect x="355.35" y="489.74" width="5" height="25.88" fill="#ff7f4c"/><rect x="355.35" y="455.17" width="5" height="34.56" fill="#ffff00"/><rect x="355.35" y="395.66" width="5" height="59.52" fill="#00ff00"/><rect x="355.35" y="351.67" width="5" height="43.99" fill="#008000"/><rect x="366.51" y="513.21" width="5" height="23.29" fill="#ff0000"/><rect x="366.51" y="485.86" width="5" height="27.36" fill="#ff7f4c"/><rect x="366.51" y="451.48" width="5" height="34.38" fill="#ffff00"/><rect x="366.51" y="403.79" width="5" height="47.69" fill="#00ff00"/><rect x="366.51" y="351.67" width="5" height="52.12" fill="#008000"/><rect x="377.67" y="513.21" width="5" height="23.29" fill="#ff0000"/><rect x="377.67" y="482.71" width="5" height="30.5" fill="#ff7f4c"/><rect x="377.67" y="446.12" width="5" height="36.6" fill="#ffff00"/><rect x="377.67" y="392.33" width="5" height="53.79" fill="#00ff00"/><rect x="377.67" y="351.67" width="5" height="40.66" fill="#008000"/><rect x="388.84" y="522.82" width="5" height="13.68" fill="#ff0000"/><rect x="388.84" y="497.13" width="5" height="25.69" fill="#ff7f4c"/><rect x="388.84" y="459.98" width="5" height="37.15" fill="#ffff00"/><rect x="388.84" y="398.98" width="5" height="61" fill="#00ff00"/><rect x="388.84" y="351.67" width="5" height="47.32" fill="#008000"/><rect x="400" y="510.62" width="5" height="25.88" fill="#ff0000"/><rect x="400" y="482.34" width="5" height="28.28" fill="#ff7f4c"/><rect x="400" y="444.64" width="5" height="37.71" fill="#ffff00"/><rect x="400" y="377.91" width="5" height="66.72" fill="#00ff00"/><rect x="400" y="351.67" width="5" height="26.25" fill="#008000"/><rect x="411.16" y="517.83" width="5" height="18.67" fill="#ff0000"/><rect x="411.16" y="489.92" width="5" height="27.91" fill="#ff7f4c"/><rect x="411.16" y="454.06" width="5" height="35.86" fill="#ffff00"/><rect x="411.16" y="392.7" width="5" height="61.36" fill="#00ff00"/><rect x="411.16" y="351.67" width="5" height="41.03" fill="#008000"/><rect x="422.32" y="518.76" width="5" height="17.74" fill="#ff0000"/><rect x="422.32" y="496.58" width="5" height="22.18" fill="#ff7f4c"/><rect x="422.32" y="462.94" width="5" height="33.64" fill="#ffff00"/><rect x="422.32" y="406.19" width="5" height="56.74" fill="#00ff00"/><rect x="422.32" y="351.67" width="5" height="54.53" fill="#008000"/><line x1="89.98" y1="455.17" x2="424.82" y2="435.77" stroke="#000" stroke-width="1.8" stroke-dasharray="1.5 1.9"/><polyline points="89.98,462.75 101.14,440.94 112.3,467 123.46,441.68 134.63,444.64 145.79,428.19 156.95,463.68 168.11,432.44 179.27,461.64 190.43,467.93 201.59,452.22 212.75,447.23 223.92,464.05 235.08,456.1 246.24,451.85 257.4,427.63 268.56,437.98 279.72,437.98 290.88,438.72 302.05,424.86 313.21,446.3 324.37,460.35 335.53,457.39 346.69,454.43 357.85,432.44 369.01,432.44 380.17,441.68 391.34,423.57 402.5,448.89 413.66,433.73 424.82,420.24" fill="none" stroke="#000" stroke-width="1.5" stroke-linejoin="round"/><rect x="93.9" y="327.8" width="8.6" height="8.2" fill="#ff0000"/><text x="106.5" y="337.2" font-size="16.3">Poor</text><rect x="148.3" y="327.8" width="8.6" height="8.2" fill="#ff7f4c"/><text x="160.9" y="337.2" font-size="16.3">Fair</text><rect x="198.6" y="327.8" width="8.6" height="8.2" fill="#ffff00"/><text x="211.4" y="337.2" font-size="16.3">Moderate</text><rect x="287.7" y="327.8" width="8.6" height="8.2" fill="#00ff00"/><text x="300.4" y="337.2" font-size="16.3">Good</text><rect x="346.4" y="327.8" width="8.6" height="8.2" fill="#008000"/><text x="359.9" y="337.2" font-size="16.3">Excellent</text><text x="112.1" y="382.1" font-size="18.5">(d)</text><text x="67" y="543.5" font-size="21" text-anchor="end">0</text><text x="67" y="506.53" font-size="21" text-anchor="end">20</text><text x="67" y="469.57" font-size="21" text-anchor="end">40</text><text x="67" y="432.6" font-size="21" text-anchor="end">60</text><text x="67" y="395.63" font-size="21" text-anchor="end">80</text><text x="67" y="358.67" font-size="21" text-anchor="end">100</text><text x="67" y="321.7" font-size="21" text-anchor="end">120</text><text x="447.6" y="543.5" font-size="21">0.3</text><text x="447.6" y="506.53" font-size="21">0.4</text><text x="447.6" y="469.57" font-size="21">0.5</text><text x="447.6" y="432.6" font-size="21">0.6</text><text x="447.6" y="395.63" font-size="21">0.7</text><text x="447.6" y="358.67" font-size="21">0.8</text><text x="447.6" y="321.7" font-size="21">0.9</text><text x="89.98" y="561.7" font-size="21" text-anchor="middle">1987</text><text x="145.79" y="561.7" font-size="21" text-anchor="middle">1992</text><text x="201.59" y="561.7" font-size="21" text-anchor="middle">1998</text><text x="257.4" y="561.7" font-size="21" text-anchor="middle">2005</text><text x="313.21" y="561.7" font-size="21" text-anchor="middle">2010</text><text x="369.01" y="561.7" font-size="21" text-anchor="middle">2015</text><text x="424.82" y="561.7" font-size="21" text-anchor="middle">2020</text><text x="256.3" y="586.2" font-size="19.5" text-anchor="middle">Year</text><text transform="translate(21.6,438.3) rotate(-90)" x="0" y="0" font-size="19.2" text-anchor="middle" dy="6.5">Area proportion(%)</text><text transform="translate(489,428.4) rotate(-90)" x="0" y="0" font-size="19.2" text-anchor="middle" dy="6.5">Mean of RSEI</text></g>
<g><line x1="580" y1="499.53" x2="926.4" y2="499.53" stroke="#efefef" stroke-width="1"/><line x1="580" y1="462.57" x2="926.4" y2="462.57" stroke="#efefef" stroke-width="1"/><line x1="580" y1="425.6" x2="926.4" y2="425.6" stroke="#efefef" stroke-width="1"/><line x1="580" y1="388.63" x2="926.4" y2="388.63" stroke="#efefef" stroke-width="1"/><line x1="580" y1="351.67" x2="926.4" y2="351.67" stroke="#efefef" stroke-width="1"/><rect x="580" y="314.7" width="346.4" height="221.8" fill="none" stroke="#8c8c8c" stroke-width="1.3"/><rect x="583.09" y="517.46" width="5" height="19.04" fill="#ff0000"/><rect x="583.09" y="464.05" width="5" height="53.42" fill="#ff7f4c"/><rect x="583.09" y="389.19" width="5" height="74.86" fill="#ffff00"/><rect x="583.09" y="357.21" width="5" height="31.98" fill="#00ff00"/><rect x="583.09" y="351.67" width="5" height="5.54" fill="#008000"/><rect x="594.26" y="516.54" width="5" height="19.96" fill="#ff0000"/><rect x="594.26" y="474.03" width="5" height="42.51" fill="#ff7f4c"/><rect x="594.26" y="408.41" width="5" height="65.62" fill="#ffff00"/><rect x="594.26" y="363.68" width="5" height="44.73" fill="#00ff00"/><rect x="594.26" y="351.67" width="5" height="12.01" fill="#008000"/><rect x="605.44" y="513.58" width="5" height="22.92" fill="#ff0000"/><rect x="605.44" y="473.1" width="5" height="40.48" fill="#ff7f4c"/><rect x="605.44" y="417.65" width="5" height="55.45" fill="#ffff00"/><rect x="605.44" y="370.33" width="5" height="47.32" fill="#00ff00"/><rect x="605.44" y="351.67" width="5" height="18.67" fill="#008000"/><rect x="616.61" y="509.51" width="5" height="26.99" fill="#ff0000"/><rect x="616.61" y="454.99" width="5" height="54.53" fill="#ff7f4c"/><rect x="616.61" y="385.12" width="5" height="69.87" fill="#ffff00"/><rect x="616.61" y="355.92" width="5" height="29.2" fill="#00ff00"/><rect x="616.61" y="351.67" width="5" height="4.25" fill="#008000"/><rect x="627.78" y="515.24" width="5" height="21.26" fill="#ff0000"/><rect x="627.78" y="473.1" width="5" height="42.14" fill="#ff7f4c"/><rect x="627.78" y="414.51" width="5" height="58.59" fill="#ffff00"/><rect x="627.78" y="368.12" width="5" height="46.39" fill="#00ff00"/><rect x="627.78" y="351.67" width="5" height="16.45" fill="#008000"/><rect x="638.96" y="512.1" width="5" height="24.4" fill="#ff0000"/><rect x="638.96" y="465.15" width="5" height="46.95" fill="#ff7f4c"/><rect x="638.96" y="399.35" width="5" height="65.8" fill="#ffff00"/><rect x="638.96" y="357.95" width="5" height="41.4" fill="#00ff00"/><rect x="638.96" y="351.67" width="5" height="6.28" fill="#008000"/><rect x="650.13" y="511.55" width="5" height="24.95" fill="#ff0000"/><rect x="650.13" y="461.83" width="5" height="49.72" fill="#ff7f4c"/><rect x="650.13" y="397.32" width="5" height="64.51" fill="#ffff00"/><rect x="650.13" y="360.17" width="5" height="37.15" fill="#00ff00"/><rect x="650.13" y="351.67" width="5" height="8.5" fill="#008000"/><rect x="661.31" y="517.09" width="5" height="19.41" fill="#ff0000"/><rect x="661.31" y="449.44" width="5" height="67.65" fill="#ff7f4c"/><rect x="661.31" y="379.95" width="5" height="69.5" fill="#ffff00"/><rect x="661.31" y="355.55" width="5" height="24.4" fill="#00ff00"/><rect x="661.31" y="351.67" width="5" height="3.88" fill="#008000"/><rect x="672.48" y="528.74" width="5" height="7.76" fill="#ff0000"/><rect x="672.48" y="502.31" width="5" height="26.43" fill="#ff7f4c"/><rect x="672.48" y="436.32" width="5" height="65.99" fill="#ffff00"/><rect x="672.48" y="372.37" width="5" height="63.95" fill="#00ff00"/><rect x="672.48" y="351.67" width="5" height="20.7" fill="#008000"/><rect x="683.65" y="519.68" width="5" height="16.82" fill="#ff0000"/><rect x="683.65" y="472.73" width="5" height="46.95" fill="#ff7f4c"/><rect x="683.65" y="408.6" width="5" height="64.14" fill="#ffff00"/><rect x="683.65" y="367.75" width="5" height="40.85" fill="#00ff00"/><rect x="683.65" y="351.67" width="5" height="16.08" fill="#008000"/><rect x="694.83" y="525.78" width="5" height="10.72" fill="#ff0000"/><rect x="694.83" y="493.25" width="5" height="32.53" fill="#ff7f4c"/><rect x="694.83" y="430.22" width="5" height="63.03" fill="#ffff00"/><rect x="694.83" y="375.69" width="5" height="54.53" fill="#00ff00"/><rect x="694.83" y="351.67" width="5" height="24.03" fill="#008000"/><rect x="706" y="525.59" width="5" height="10.91" fill="#ff0000"/><rect x="706" y="496.39" width="5" height="29.2" fill="#ff7f4c"/><rect x="706" y="438.17" width="5" height="58.22" fill="#ffff00"/><rect x="706" y="372.74" width="5" height="65.43" fill="#00ff00"/><rect x="706" y="351.67" width="5" height="21.07" fill="#008000"/><rect x="717.18" y="530.96" width="5" height="5.54" fill="#ff0000"/><rect x="717.18" y="513.77" width="5" height="17.19" fill="#ff7f4c"/><rect x="717.18" y="464.23" width="5" height="49.54" fill="#ffff00"/><rect x="717.18" y="384.75" width="5" height="79.48" fill="#00ff00"/><rect x="717.18" y="351.67" width="5" height="33.09" fill="#008000"/><rect x="728.35" y="506.74" width="5" height="29.76" fill="#ff0000"/><rect x="728.35" y="455.36" width="5" height="51.38" fill="#ff7f4c"/><rect x="728.35" y="394.18" width="5" height="61.18" fill="#ffff00"/><rect x="728.35" y="357.21" width="5" height="36.97" fill="#00ff00"/><rect x="728.35" y="351.67" width="5" height="5.54" fill="#008000"/><rect x="739.53" y="531.32" width="5" height="5.18" fill="#ff0000"/><rect x="739.53" y="511.92" width="5" height="19.41" fill="#ff7f4c"/><rect x="739.53" y="454.25" width="5" height="57.67" fill="#ffff00"/><rect x="739.53" y="372" width="5" height="82.25" fill="#00ff00"/><rect x="739.53" y="351.67" width="5" height="20.33" fill="#008000"/><rect x="750.7" y="527.81" width="5" height="8.69" fill="#ff0000"/><rect x="750.7" y="508.96" width="5" height="18.85" fill="#ff7f4c"/><rect x="750.7" y="454.62" width="5" height="54.34" fill="#ffff00"/><rect x="750.7" y="373.29" width="5" height="81.33" fill="#00ff00"/><rect x="750.7" y="351.67" width="5" height="21.63" fill="#008000"/><rect x="761.87" y="530.59" width="5" height="5.91" fill="#ff0000"/><rect x="761.87" y="518.2" width="5" height="12.38" fill="#ff7f4c"/><rect x="761.87" y="478.28" width="5" height="39.92" fill="#ffff00"/><rect x="761.87" y="396.03" width="5" height="82.25" fill="#00ff00"/><rect x="761.87" y="351.67" width="5" height="44.36" fill="#008000"/><rect x="773.05" y="528.92" width="5" height="7.58" fill="#ff0000"/><rect x="773.05" y="518.2" width="5" height="10.72" fill="#ff7f4c"/><rect x="773.05" y="485.3" width="5" height="32.9" fill="#ffff00"/><rect x="773.05" y="393.99" width="5" height="91.31" fill="#00ff00"/><rect x="773.05" y="351.67" width="5" height="42.33" fill="#008000"/><rect x="784.22" y="530.96" width="5" height="5.54" fill="#ff0000"/><rect x="784.22" y="522.08" width="5" height="8.87" fill="#ff7f4c"/><rect x="784.22" y="498.05" width="5" height="24.03" fill="#ffff00"/><rect x="784.22" y="417.1" width="5" height="80.96" fill="#00ff00"/><rect x="784.22" y="351.67" width="5" height="65.43" fill="#008000"/><rect x="795.4" y="530.03" width="5" height="6.47" fill="#ff0000"/><rect x="795.4" y="521.34" width="5" height="8.69" fill="#ff7f4c"/><rect x="795.4" y="495.47" width="5" height="25.88" fill="#ffff00"/><rect x="795.4" y="414.51" width="5" height="80.96" fill="#00ff00"/><rect x="795.4" y="351.67" width="5" height="62.84" fill="#008000"/><rect x="806.57" y="531.69" width="5" height="4.81" fill="#ff0000"/><rect x="806.57" y="523.01" width="5" height="8.69" fill="#ff7f4c"/><rect x="806.57" y="496.95" width="5" height="26.06" fill="#ffff00"/><rect x="806.57" y="402.31" width="5" height="94.63" fill="#00ff00"/><rect x="806.57" y="351.67" width="5" height="50.64" fill="#008000"/><rect x="817.75" y="530.96" width="5" height="5.54" fill="#ff0000"/><rect x="817.75" y="522.45" width="5" height="8.5" fill="#ff7f4c"/><rect x="817.75" y="496.02" width="5" height="26.43" fill="#ffff00"/><rect x="817.75" y="405.64" width="5" height="90.38" fill="#00ff00"/><rect x="817.75" y="351.67" width="5" height="53.97" fill="#008000"/><rect x="828.92" y="529.29" width="5" height="7.21" fill="#ff0000"/><rect x="828.92" y="519.13" width="5" height="10.17" fill="#ff7f4c"/><rect x="828.92" y="496.39" width="5" height="22.73" fill="#ffff00"/><rect x="828.92" y="416.73" width="5" height="79.66" fill="#00ff00"/><rect x="828.92" y="351.67" width="5" height="65.06" fill="#008000"/><rect x="840.09" y="531.69" width="5" height="4.81" fill="#ff0000"/><rect x="840.09" y="521.34" width="5" height="10.35" fill="#ff7f4c"/><rect x="840.09" y="494.73" width="5" height="26.62" fill="#ffff00"/><rect x="840.09" y="420.79" width="5" height="73.93" fill="#00ff00"/><rect x="840.09" y="351.67" width="5" height="69.13" fill="#008000"/><rect x="851.27" y="530.96" width="5" height="5.54" fill="#ff0000"/><rect x="851.27" y="521.34" width="5" height="9.61" fill="#ff7f4c"/><rect x="851.27" y="498.05" width="5" height="23.29" fill="#ffff00"/><rect x="851.27" y="415.06" width="5" height="82.99" fill="#00ff00"/><rect x="851.27" y="351.67" width="5" height="63.4" fill="#008000"/><rect x="862.44" y="525.59" width="5" height="10.91" fill="#ff0000"/><rect x="862.44" y="507.67" width="5" height="17.93" fill="#ff7f4c"/><rect x="862.44" y="460.9" width="5" height="46.76" fill="#ffff00"/><rect x="862.44" y="382.16" width="5" height="78.74" fill="#00ff00"/><rect x="862.44" y="351.67" width="5" height="30.5" fill="#008000"/><rect x="873.62" y="530.03" width="5" height="6.47" fill="#ff0000"/><rect x="873.62" y="519.13" width="5" height="10.91" fill="#ff7f4c"/><rect x="873.62" y="494.36" width="5" height="24.77" fill="#ffff00"/><rect x="873.62" y="423.75" width="5" height="70.61" fill="#00ff00"/><rect x="873.62" y="351.67" width="5" height="72.09" fill="#008000"/><rect x="884.79" y="527.63" width="5" height="8.87" fill="#ff0000"/><rect x="884.79" y="512.84" width="5" height="14.79" fill="#ff7f4c"/><rect x="884.79" y="477.72" width="5" height="35.12" fill="#ffff00"/><rect x="884.79" y="395.47" width="5" height="82.25" fill="#00ff00"/><rect x="884.79" y="351.67" width="5" height="43.81" fill="#008000"/><rect x="895.96" y="531.69" width="5" height="4.81" fill="#ff0000"/><rect x="895.96" y="521.34" width="5" height="10.35" fill="#ff7f4c"/><rect x="895.96" y="495.47" width="5" height="25.88" fill="#ffff00"/><rect x="895.96" y="403.97" width="5" height="91.49" fill="#00ff00"/><rect x="895.96" y="351.67" width="5" height="52.31" fill="#008000"/><rect x="907.14" y="530.59" width="5" height="5.91" fill="#ff0000"/><rect x="907.14" y="519.13" width="5" height="11.46" fill="#ff7f4c"/><rect x="907.14" y="490.11" width="5" height="29.02" fill="#ffff00"/><rect x="907.14" y="411.18" width="5" height="78.92" fill="#00ff00"/><rect x="907.14" y="351.67" width="5" height="59.52" fill="#008000"/><rect x="918.31" y="525.96" width="5" height="10.54" fill="#ff0000"/><rect x="918.31" y="510.44" width="5" height="15.53" fill="#ff7f4c"/><rect x="918.31" y="467.19" width="5" height="43.25" fill="#ffff00"/><rect x="918.31" y="386.42" width="5" height="80.77" fill="#00ff00"/><rect x="918.31" y="351.67" width="5" height="34.75" fill="#008000"/><line x1="585.59" y1="482.34" x2="920.81" y2="376.62" stroke="#000" stroke-width="1.8" stroke-dasharray="1.5 1.9"/><polyline points="585.59,482.9 596.76,469.41 607.94,464.05 619.11,492.14 630.28,465.52 641.46,479.94 652.63,481.97 663.81,492.14 674.98,435.58 686.15,465.52 697.33,442.42 708.5,440.2 719.68,415.62 730.85,489.55 742.03,425.42 753.2,427.82 764.37,403.97 775.55,403.24 786.72,385.86 797.9,389 809.07,391.22 820.25,391.22 831.42,388.45 842.59,384.75 853.77,386.23 864.94,422.09 876.12,385.86 887.29,407.86 898.46,391.22 909.64,393.07 920.81,417.84" fill="none" stroke="#000" stroke-width="1.5" stroke-linejoin="round"/><rect x="589.5" y="327.8" width="8.6" height="8.2" fill="#ff0000"/><text x="602.1" y="337.2" font-size="16.3">Poor</text><rect x="643.9" y="327.8" width="8.6" height="8.2" fill="#ff7f4c"/><text x="656.5" y="337.2" font-size="16.3">Fair</text><rect x="694.2" y="327.8" width="8.6" height="8.2" fill="#ffff00"/><text x="707" y="337.2" font-size="16.3">Moderate</text><rect x="783.3" y="327.8" width="8.6" height="8.2" fill="#00ff00"/><text x="796" y="337.2" font-size="16.3">Good</text><rect x="842" y="327.8" width="8.6" height="8.2" fill="#008000"/><text x="855.5" y="337.2" font-size="16.3">Excellent</text><text x="605.9" y="381.9" font-size="18.5">(e)</text><text x="562.6" y="543.5" font-size="21" text-anchor="end">0</text><text x="562.6" y="506.53" font-size="21" text-anchor="end">20</text><text x="562.6" y="469.57" font-size="21" text-anchor="end">40</text><text x="562.6" y="432.6" font-size="21" text-anchor="end">60</text><text x="562.6" y="395.63" font-size="21" text-anchor="end">80</text><text x="562.6" y="358.67" font-size="21" text-anchor="end">100</text><text x="562.6" y="321.7" font-size="21" text-anchor="end">120</text><text x="943.6" y="543.5" font-size="21">0.3</text><text x="943.6" y="506.53" font-size="21">0.4</text><text x="943.6" y="469.57" font-size="21">0.5</text><text x="943.6" y="432.6" font-size="21">0.6</text><text x="943.6" y="395.63" font-size="21">0.7</text><text x="943.6" y="358.67" font-size="21">0.8</text><text x="943.6" y="321.7" font-size="21">0.9</text><text x="585.59" y="561.7" font-size="21" text-anchor="middle">1987</text><text x="641.46" y="561.7" font-size="21" text-anchor="middle">1992</text><text x="697.33" y="561.7" font-size="21" text-anchor="middle">1998</text><text x="753.2" y="561.7" font-size="21" text-anchor="middle">2005</text><text x="809.07" y="561.7" font-size="21" text-anchor="middle">2010</text><text x="864.94" y="561.7" font-size="21" text-anchor="middle">2015</text><text x="920.81" y="561.7" font-size="21" text-anchor="middle">2020</text><text x="751.2" y="586.2" font-size="19.5" text-anchor="middle">Year</text><text transform="translate(515.6,438.3) rotate(-90)" x="0" y="0" font-size="19.2" text-anchor="middle" dy="6.5">Area proportion(%)</text><text transform="translate(986.7,428.4) rotate(-90)" x="0" y="0" font-size="19.2" text-anchor="middle" dy="6.5">Mean of RSEI</text></g>
<g><line x1="1076.8" y1="499.33" x2="1422.8" y2="499.33" stroke="#efefef" stroke-width="1"/><line x1="1076.8" y1="462.37" x2="1422.8" y2="462.37" stroke="#efefef" stroke-width="1"/><line x1="1076.8" y1="425.4" x2="1422.8" y2="425.4" stroke="#efefef" stroke-width="1"/><line x1="1076.8" y1="388.43" x2="1422.8" y2="388.43" stroke="#efefef" stroke-width="1"/><line x1="1076.8" y1="351.47" x2="1422.8" y2="351.47" stroke="#efefef" stroke-width="1"/><rect x="1076.8" y="314.5" width="346" height="221.8" fill="none" stroke="#8c8c8c" stroke-width="1.3"/><rect x="1079.88" y="505.99" width="5" height="30.31" fill="#ff0000"/><rect x="1079.88" y="428.73" width="5" height="77.26" fill="#ff7f4c"/><rect x="1079.88" y="370.32" width="5" height="58.41" fill="#ffff00"/><rect x="1079.88" y="354.42" width="5" height="15.9" fill="#00ff00"/><rect x="1079.88" y="351.47" width="5" height="2.96" fill="#008000"/><rect x="1091.04" y="483.07" width="5" height="53.23" fill="#ff0000"/><rect x="1091.04" y="416.71" width="5" height="66.36" fill="#ff7f4c"/><rect x="1091.04" y="370.5" width="5" height="46.21" fill="#ffff00"/><rect x="1091.04" y="354.42" width="5" height="16.08" fill="#00ff00"/><rect x="1091.04" y="351.47" width="5" height="2.96" fill="#008000"/><rect x="1102.2" y="500.07" width="5" height="36.23" fill="#ff0000"/><rect x="1102.2" y="447.76" width="5" height="52.31" fill="#ff7f4c"/><rect x="1102.2" y="392.87" width="5" height="54.9" fill="#ffff00"/><rect x="1102.2" y="359.6" width="5" height="33.27" fill="#00ff00"/><rect x="1102.2" y="351.47" width="5" height="8.13" fill="#008000"/><rect x="1113.36" y="519.48" width="5" height="16.82" fill="#ff0000"/><rect x="1113.36" y="475.49" width="5" height="43.99" fill="#ff7f4c"/><rect x="1113.36" y="411.72" width="5" height="63.77" fill="#ffff00"/><rect x="1113.36" y="364.96" width="5" height="46.76" fill="#00ff00"/><rect x="1113.36" y="351.47" width="5" height="13.49" fill="#008000"/><rect x="1124.53" y="515.97" width="5" height="20.33" fill="#ff0000"/><rect x="1124.53" y="466.8" width="5" height="49.17" fill="#ff7f4c"/><rect x="1124.53" y="403.77" width="5" height="63.03" fill="#ffff00"/><rect x="1124.53" y="361.26" width="5" height="42.51" fill="#00ff00"/><rect x="1124.53" y="351.47" width="5" height="9.8" fill="#008000"/><rect x="1135.69" y="526.13" width="5" height="10.17" fill="#ff0000"/><rect x="1135.69" y="492.68" width="5" height="33.45" fill="#ff7f4c"/><rect x="1135.69" y="416.16" width="5" height="76.52" fill="#ffff00"/><rect x="1135.69" y="362" width="5" height="54.16" fill="#00ff00"/><rect x="1135.69" y="351.47" width="5" height="10.54" fill="#008000"/><rect x="1146.85" y="508.39" width="5" height="27.91" fill="#ff0000"/><rect x="1146.85" y="451.83" width="5" height="56.56" fill="#ff7f4c"/><rect x="1146.85" y="389.36" width="5" height="62.47" fill="#ffff00"/><rect x="1146.85" y="358.68" width="5" height="30.68" fill="#00ff00"/><rect x="1146.85" y="351.47" width="5" height="7.21" fill="#008000"/><rect x="1158.01" y="530.75" width="5" height="5.54" fill="#ff0000"/><rect x="1158.01" y="488.61" width="5" height="42.14" fill="#ff7f4c"/><rect x="1158.01" y="405.44" width="5" height="83.17" fill="#ffff00"/><rect x="1158.01" y="362.93" width="5" height="42.51" fill="#00ff00"/><rect x="1158.01" y="351.47" width="5" height="11.46" fill="#008000"/><rect x="1169.17" y="523.36" width="5" height="12.94" fill="#ff0000"/><rect x="1169.17" y="489.91" width="5" height="33.45" fill="#ff7f4c"/><rect x="1169.17" y="427.99" width="5" height="61.92" fill="#ffff00"/><rect x="1169.17" y="371.24" width="5" height="56.74" fill="#00ff00"/><rect x="1169.17" y="351.47" width="5" height="19.78" fill="#008000"/><rect x="1180.33" y="518" width="5" height="18.3" fill="#ff0000"/><rect x="1180.33" y="461.63" width="5" height="56.37" fill="#ff7f4c"/><rect x="1180.33" y="390.84" width="5" height="70.79" fill="#ffff00"/><rect x="1180.33" y="360.34" width="5" height="30.5" fill="#00ff00"/><rect x="1180.33" y="351.47" width="5" height="8.87" fill="#008000"/><rect x="1191.49" y="522.25" width="5" height="14.05" fill="#ff0000"/><rect x="1191.49" y="483.99" width="5" height="38.26" fill="#ff7f4c"/><rect x="1191.49" y="415.6" width="5" height="68.39" fill="#ffff00"/><rect x="1191.49" y="363.3" width="5" height="52.31" fill="#00ff00"/><rect x="1191.49" y="351.47" width="5" height="11.83" fill="#008000"/><rect x="1202.65" y="527.61" width="5" height="8.69" fill="#ff0000"/><rect x="1202.65" y="501.74" width="5" height="25.88" fill="#ff7f4c"/><rect x="1202.65" y="443.14" width="5" height="58.59" fill="#ffff00"/><rect x="1202.65" y="374.57" width="5" height="68.57" fill="#00ff00"/><rect x="1202.65" y="351.47" width="5" height="23.1" fill="#008000"/><rect x="1213.82" y="518.19" width="5" height="18.11" fill="#ff0000"/><rect x="1213.82" y="476.41" width="5" height="41.77" fill="#ff7f4c"/><rect x="1213.82" y="409.69" width="5" height="66.72" fill="#ffff00"/><rect x="1213.82" y="365.33" width="5" height="44.36" fill="#00ff00"/><rect x="1213.82" y="351.47" width="5" height="13.86" fill="#008000"/><rect x="1224.98" y="525.39" width="5" height="10.91" fill="#ff0000"/><rect x="1224.98" y="484.55" width="5" height="40.85" fill="#ff7f4c"/><rect x="1224.98" y="412.83" width="5" height="71.72" fill="#ffff00"/><rect x="1224.98" y="363.3" width="5" height="49.54" fill="#00ff00"/><rect x="1224.98" y="351.47" width="5" height="11.83" fill="#008000"/><rect x="1236.14" y="531.31" width="5" height="4.99" fill="#ff0000"/><rect x="1236.14" y="510.61" width="5" height="20.7" fill="#ff7f4c"/><rect x="1236.14" y="455.34" width="5" height="55.27" fill="#ffff00"/><rect x="1236.14" y="379.75" width="5" height="75.6" fill="#00ff00"/><rect x="1236.14" y="351.47" width="5" height="28.28" fill="#008000"/><rect x="1247.3" y="530.75" width="5" height="5.54" fill="#ff0000"/><rect x="1247.3" y="507.28" width="5" height="23.47" fill="#ff7f4c"/><rect x="1247.3" y="444.62" width="5" height="62.66" fill="#ffff00"/><rect x="1247.3" y="374.2" width="5" height="70.42" fill="#00ff00"/><rect x="1247.3" y="351.47" width="5" height="22.73" fill="#008000"/><rect x="1258.46" y="534.27" width="5" height="2.03" fill="#ff0000"/><rect x="1258.46" y="525.03" width="5" height="9.24" fill="#ff7f4c"/><rect x="1258.46" y="487.32" width="5" height="37.71" fill="#ffff00"/><rect x="1258.46" y="403.04" width="5" height="84.28" fill="#00ff00"/><rect x="1258.46" y="351.47" width="5" height="51.57" fill="#008000"/><rect x="1269.62" y="533.34" width="5" height="2.96" fill="#ff0000"/><rect x="1269.62" y="520.77" width="5" height="12.57" fill="#ff7f4c"/><rect x="1269.62" y="476.04" width="5" height="44.73" fill="#ffff00"/><rect x="1269.62" y="379.75" width="5" height="96.3" fill="#00ff00"/><rect x="1269.62" y="351.47" width="5" height="28.28" fill="#008000"/><rect x="1280.78" y="533.71" width="5" height="2.59" fill="#ff0000"/><rect x="1280.78" y="523.36" width="5" height="10.35" fill="#ff7f4c"/><rect x="1280.78" y="484.73" width="5" height="38.63" fill="#ffff00"/><rect x="1280.78" y="388.62" width="5" height="96.11" fill="#00ff00"/><rect x="1280.78" y="351.47" width="5" height="37.15" fill="#008000"/><rect x="1291.95" y="533.71" width="5" height="2.59" fill="#ff0000"/><rect x="1291.95" y="527.06" width="5" height="6.65" fill="#ff7f4c"/><rect x="1291.95" y="500.44" width="5" height="26.62" fill="#ffff00"/><rect x="1291.95" y="418.19" width="5" height="82.25" fill="#00ff00"/><rect x="1291.95" y="351.47" width="5" height="66.72" fill="#008000"/><rect x="1303.11" y="533.71" width="5" height="2.59" fill="#ff0000"/><rect x="1303.11" y="521.7" width="5" height="12.01" fill="#ff7f4c"/><rect x="1303.11" y="479.19" width="5" height="42.51" fill="#ffff00"/><rect x="1303.11" y="383.81" width="5" height="95.37" fill="#00ff00"/><rect x="1303.11" y="351.47" width="5" height="32.35" fill="#008000"/><rect x="1314.27" y="532.97" width="5" height="3.33" fill="#ff0000"/><rect x="1314.27" y="521.7" width="5" height="11.27" fill="#ff7f4c"/><rect x="1314.27" y="474.2" width="5" height="47.5" fill="#ffff00"/><rect x="1314.27" y="380.12" width="5" height="94.08" fill="#00ff00"/><rect x="1314.27" y="351.47" width="5" height="28.65" fill="#008000"/><rect x="1325.43" y="532.05" width="5" height="4.25" fill="#ff0000"/><rect x="1325.43" y="522.81" width="5" height="9.24" fill="#ff7f4c"/><rect x="1325.43" y="492.86" width="5" height="29.94" fill="#ffff00"/><rect x="1325.43" y="405.44" width="5" height="87.43" fill="#00ff00"/><rect x="1325.43" y="351.47" width="5" height="53.97" fill="#008000"/><rect x="1336.59" y="531.68" width="5" height="4.62" fill="#ff0000"/><rect x="1336.59" y="520.22" width="5" height="11.46" fill="#ff7f4c"/><rect x="1336.59" y="487.87" width="5" height="32.35" fill="#ffff00"/><rect x="1336.59" y="403.04" width="5" height="84.84" fill="#00ff00"/><rect x="1336.59" y="351.47" width="5" height="51.57" fill="#008000"/><rect x="1347.75" y="533.71" width="5" height="2.59" fill="#ff0000"/><rect x="1347.75" y="525.39" width="5" height="8.32" fill="#ff7f4c"/><rect x="1347.75" y="489.54" width="5" height="35.86" fill="#ffff00"/><rect x="1347.75" y="395.09" width="5" height="94.45" fill="#00ff00"/><rect x="1347.75" y="351.47" width="5" height="43.62" fill="#008000"/><rect x="1358.91" y="533.34" width="5" height="2.96" fill="#ff0000"/><rect x="1358.91" y="521.7" width="5" height="11.64" fill="#ff7f4c"/><rect x="1358.91" y="480.11" width="5" height="41.59" fill="#ffff00"/><rect x="1358.91" y="392.87" width="5" height="87.24" fill="#00ff00"/><rect x="1358.91" y="351.47" width="5" height="41.4" fill="#008000"/><rect x="1370.07" y="533.71" width="5" height="2.59" fill="#ff0000"/><rect x="1370.07" y="522.25" width="5" height="11.46" fill="#ff7f4c"/><rect x="1370.07" y="482.7" width="5" height="39.55" fill="#ffff00"/><rect x="1370.07" y="392.31" width="5" height="90.38" fill="#00ff00"/><rect x="1370.07" y="351.47" width="5" height="40.85" fill="#008000"/><rect x="1381.24" y="533.34" width="5" height="2.96" fill="#ff0000"/><rect x="1381.24" y="521.51" width="5" height="11.83" fill="#ff7f4c"/><rect x="1381.24" y="479.74" width="5" height="41.77" fill="#ffff00"/><rect x="1381.24" y="390.28" width="5" height="89.46" fill="#00ff00"/><rect x="1381.24" y="351.47" width="5" height="38.81" fill="#008000"/><rect x="1392.4" y="535.01" width="5" height="1.29" fill="#ff0000"/><rect x="1392.4" y="530.02" width="5" height="4.99" fill="#ff7f4c"/><rect x="1392.4" y="503.4" width="5" height="26.62" fill="#ffff00"/><rect x="1392.4" y="394.53" width="5" height="108.87" fill="#00ff00"/><rect x="1392.4" y="351.47" width="5" height="43.07" fill="#008000"/><rect x="1403.56" y="532.6" width="5" height="3.7" fill="#ff0000"/><rect x="1403.56" y="514.86" width="5" height="17.74" fill="#ff7f4c"/><rect x="1403.56" y="448.5" width="5" height="66.36" fill="#ffff00"/><rect x="1403.56" y="366.99" width="5" height="81.51" fill="#00ff00"/><rect x="1403.56" y="351.47" width="5" height="15.53" fill="#008000"/><rect x="1414.72" y="532.05" width="5" height="4.25" fill="#ff0000"/><rect x="1414.72" y="513.2" width="5" height="18.85" fill="#ff7f4c"/><rect x="1414.72" y="459.04" width="5" height="54.16" fill="#ffff00"/><rect x="1414.72" y="390.28" width="5" height="68.76" fill="#00ff00"/><rect x="1414.72" y="351.47" width="5" height="38.81" fill="#008000"/><line x1="1082.38" y1="490.65" x2="1417.22" y2="377.34" stroke="#000" stroke-width="1.8" stroke-dasharray="1.5 1.9"/><polyline points="1082.38,509.68 1093.54,524.47 1104.7,487.32 1115.86,464.58 1127.03,474.2 1138.19,454.05 1149.35,489.91 1160.51,457.01 1171.67,447.76 1182.83,480.11 1193.99,457.01 1205.15,433.35 1216.32,465.14 1227.48,457.75 1238.64,420.96 1249.8,428.73 1260.96,391.21 1272.12,408.58 1283.28,399.52 1294.45,378.82 1305.61,404.7 1316.77,408.58 1327.93,389.73 1339.09,393.98 1350.25,393.98 1361.41,400.45 1372.57,399.15 1383.74,401.56 1394.9,385.66 1406.06,426.51 1417.22,413.57" fill="none" stroke="#000" stroke-width="1.5" stroke-linejoin="round"/><rect x="1086.3" y="327.6" width="8.6" height="8.2" fill="#ff0000"/><text x="1098.9" y="337" font-size="16.3">Poor</text><rect x="1140.7" y="327.6" width="8.6" height="8.2" fill="#ff7f4c"/><text x="1153.3" y="337" font-size="16.3">Fair</text><rect x="1191" y="327.6" width="8.6" height="8.2" fill="#ffff00"/><text x="1203.8" y="337" font-size="16.3">Moderate</text><rect x="1280.1" y="327.6" width="8.6" height="8.2" fill="#00ff00"/><text x="1292.8" y="337" font-size="16.3">Good</text><rect x="1338.8" y="327.6" width="8.6" height="8.2" fill="#008000"/><text x="1352.3" y="337" font-size="16.3">Excellent</text><text x="1104.8" y="381.9" font-size="18.5">(f)</text><text x="1059.4" y="543.3" font-size="21" text-anchor="end">0</text><text x="1059.4" y="506.33" font-size="21" text-anchor="end">20</text><text x="1059.4" y="469.37" font-size="21" text-anchor="end">40</text><text x="1059.4" y="432.4" font-size="21" text-anchor="end">60</text><text x="1059.4" y="395.43" font-size="21" text-anchor="end">80</text><text x="1059.4" y="358.47" font-size="21" text-anchor="end">100</text><text x="1059.4" y="321.5" font-size="21" text-anchor="end">120</text><text x="1440" y="543.3" font-size="21">0.3</text><text x="1440" y="506.33" font-size="21">0.4</text><text x="1440" y="469.37" font-size="21">0.5</text><text x="1440" y="432.4" font-size="21">0.6</text><text x="1440" y="395.43" font-size="21">0.7</text><text x="1440" y="358.47" font-size="21">0.8</text><text x="1440" y="321.5" font-size="21">0.9</text><text x="1082.38" y="561.5" font-size="21" text-anchor="middle">1987</text><text x="1138.19" y="561.5" font-size="21" text-anchor="middle">1992</text><text x="1193.99" y="561.5" font-size="21" text-anchor="middle">1998</text><text x="1249.8" y="561.5" font-size="21" text-anchor="middle">2005</text><text x="1305.61" y="561.5" font-size="21" text-anchor="middle">2010</text><text x="1361.41" y="561.5" font-size="21" text-anchor="middle">2015</text><text x="1417.22" y="561.5" font-size="21" text-anchor="middle">2020</text><text x="1246" y="586" font-size="19.5" text-anchor="middle">Year</text><text transform="translate(1010.8,438.1) rotate(-90)" x="0" y="0" font-size="19.2" text-anchor="middle" dy="6.5">Area proportion(%)</text><text transform="translate(1480.5,428.2) rotate(-90)" x="0" y="0" font-size="19.2" text-anchor="middle" dy="6.5">Mean of RSEI</text></g>
<g><line x1="87.4" y1="780.13" x2="433.3" y2="780.13" stroke="#efefef" stroke-width="1"/><line x1="87.4" y1="743.17" x2="433.3" y2="743.17" stroke="#efefef" stroke-width="1"/><line x1="87.4" y1="706.2" x2="433.3" y2="706.2" stroke="#efefef" stroke-width="1"/><line x1="87.4" y1="669.23" x2="433.3" y2="669.23" stroke="#efefef" stroke-width="1"/><line x1="87.4" y1="632.27" x2="433.3" y2="632.27" stroke="#efefef" stroke-width="1"/><rect x="87.4" y="595.3" width="345.9" height="221.8" fill="none" stroke="#8c8c8c" stroke-width="1.3"/><rect x="90.48" y="779.58" width="5" height="37.52" fill="#ff0000"/><rect x="90.48" y="690.12" width="5" height="89.46" fill="#ff7f4c"/><rect x="90.48" y="641.14" width="5" height="48.98" fill="#ffff00"/><rect x="90.48" y="632.27" width="5" height="8.87" fill="#00ff00"/><rect x="101.64" y="763.5" width="5" height="53.6" fill="#ff0000"/><rect x="101.64" y="707.49" width="5" height="56" fill="#ff7f4c"/><rect x="101.64" y="654.63" width="5" height="52.86" fill="#ffff00"/><rect x="101.64" y="632.27" width="5" height="22.36" fill="#00ff00"/><rect x="112.8" y="720.99" width="5" height="96.11" fill="#ff0000"/><rect x="112.8" y="679.4" width="5" height="41.59" fill="#ff7f4c"/><rect x="112.8" y="648.72" width="5" height="30.68" fill="#ffff00"/><rect x="112.8" y="634.85" width="5" height="13.86" fill="#00ff00"/><rect x="112.8" y="632.27" width="5" height="2.59" fill="#008000"/><rect x="123.95" y="733.93" width="5" height="83.17" fill="#ff0000"/><rect x="123.95" y="695.66" width="5" height="38.26" fill="#ff7f4c"/><rect x="123.95" y="663.69" width="5" height="31.98" fill="#ffff00"/><rect x="123.95" y="634.85" width="5" height="28.83" fill="#00ff00"/><rect x="123.95" y="632.27" width="5" height="2.59" fill="#008000"/><rect x="135.11" y="754.81" width="5" height="62.29" fill="#ff0000"/><rect x="135.11" y="704.91" width="5" height="49.91" fill="#ff7f4c"/><rect x="135.11" y="670.9" width="5" height="34.01" fill="#ffff00"/><rect x="135.11" y="643.91" width="5" height="26.99" fill="#00ff00"/><rect x="135.11" y="632.27" width="5" height="11.64" fill="#008000"/><rect x="146.27" y="728.93" width="5" height="88.17" fill="#ff0000"/><rect x="146.27" y="693.45" width="5" height="35.49" fill="#ff7f4c"/><rect x="146.27" y="658.51" width="5" height="34.93" fill="#ffff00"/><rect x="146.27" y="632.27" width="5" height="26.25" fill="#00ff00"/><rect x="157.43" y="698.99" width="5" height="118.11" fill="#ff0000"/><rect x="157.43" y="668.12" width="5" height="30.87" fill="#ff7f4c"/><rect x="157.43" y="641.88" width="5" height="26.25" fill="#ffff00"/><rect x="157.43" y="632.27" width="5" height="9.61" fill="#00ff00"/><rect x="168.59" y="765.16" width="5" height="51.94" fill="#ff0000"/><rect x="168.59" y="713.41" width="5" height="51.75" fill="#ff7f4c"/><rect x="168.59" y="665.91" width="5" height="47.5" fill="#ffff00"/><rect x="168.59" y="636.89" width="5" height="29.02" fill="#00ff00"/><rect x="168.59" y="632.27" width="5" height="4.62" fill="#008000"/><rect x="179.74" y="713.22" width="5" height="103.88" fill="#ff0000"/><rect x="179.74" y="672.75" width="5" height="40.48" fill="#ff7f4c"/><rect x="179.74" y="641.88" width="5" height="30.87" fill="#ffff00"/><rect x="179.74" y="632.27" width="5" height="9.61" fill="#00ff00"/><rect x="190.9" y="694.19" width="5" height="122.91" fill="#ff0000"/><rect x="190.9" y="658.51" width="5" height="35.67" fill="#ff7f4c"/><rect x="190.9" y="637.26" width="5" height="21.26" fill="#ffff00"/><rect x="190.9" y="632.27" width="5" height="4.99" fill="#00ff00"/><rect x="202.06" y="711.75" width="5" height="105.36" fill="#ff0000"/><rect x="202.06" y="670.9" width="5" height="40.85" fill="#ff7f4c"/><rect x="202.06" y="639.84" width="5" height="31.05" fill="#ffff00"/><rect x="202.06" y="632.27" width="5" height="7.58" fill="#00ff00"/><rect x="213.22" y="695.66" width="5" height="121.44" fill="#ff0000"/><rect x="213.22" y="655.37" width="5" height="40.29" fill="#ff7f4c"/><rect x="213.22" y="638" width="5" height="17.37" fill="#ffff00"/><rect x="213.22" y="632.27" width="5" height="5.73" fill="#00ff00"/><rect x="224.38" y="694.74" width="5" height="122.36" fill="#ff0000"/><rect x="224.38" y="665.17" width="5" height="29.57" fill="#ff7f4c"/><rect x="224.38" y="636.89" width="5" height="28.28" fill="#ffff00"/><rect x="224.38" y="632.27" width="5" height="4.62" fill="#00ff00"/><rect x="235.53" y="713.96" width="5" height="103.14" fill="#ff0000"/><rect x="235.53" y="669.79" width="5" height="44.18" fill="#ff7f4c"/><rect x="235.53" y="639.84" width="5" height="29.94" fill="#ffff00"/><rect x="235.53" y="632.27" width="5" height="7.58" fill="#00ff00"/><rect x="246.69" y="731.15" width="5" height="85.95" fill="#ff0000"/><rect x="246.69" y="677" width="5" height="54.16" fill="#ff7f4c"/><rect x="246.69" y="645.21" width="5" height="31.79" fill="#ffff00"/><rect x="246.69" y="632.27" width="5" height="12.94" fill="#00ff00"/><rect x="257.85" y="706.02" width="5" height="111.08" fill="#ff0000"/><rect x="257.85" y="667.57" width="5" height="38.45" fill="#ff7f4c"/><rect x="257.85" y="642.8" width="5" height="24.77" fill="#ffff00"/><rect x="257.85" y="632.27" width="5" height="10.54" fill="#00ff00"/><rect x="269.01" y="724.68" width="5" height="92.42" fill="#ff0000"/><rect x="269.01" y="687.53" width="5" height="37.15" fill="#ff7f4c"/><rect x="269.01" y="654.63" width="5" height="32.9" fill="#ffff00"/><rect x="269.01" y="634.3" width="5" height="20.33" fill="#00ff00"/><rect x="269.01" y="632.27" width="5" height="2.03" fill="#008000"/><rect x="280.17" y="717.84" width="5" height="99.26" fill="#ff0000"/><rect x="280.17" y="676.07" width="5" height="41.77" fill="#ff7f4c"/><rect x="280.17" y="642.8" width="5" height="33.27" fill="#ffff00"/><rect x="280.17" y="632.27" width="5" height="10.54" fill="#00ff00"/><rect x="291.32" y="724.31" width="5" height="92.79" fill="#ff0000"/><rect x="291.32" y="681.25" width="5" height="43.07" fill="#ff7f4c"/><rect x="291.32" y="647.24" width="5" height="34.01" fill="#ffff00"/><rect x="291.32" y="632.27" width="5" height="14.97" fill="#00ff00"/><rect x="302.48" y="764.98" width="5" height="52.12" fill="#ff0000"/><rect x="302.48" y="722.47" width="5" height="42.51" fill="#ff7f4c"/><rect x="302.48" y="672.75" width="5" height="49.72" fill="#ffff00"/><rect x="302.48" y="635.96" width="5" height="36.78" fill="#00ff00"/><rect x="302.48" y="632.27" width="5" height="3.7" fill="#008000"/><rect x="313.64" y="767.01" width="5" height="50.09" fill="#ff0000"/><rect x="313.64" y="709.16" width="5" height="57.85" fill="#ff7f4c"/><rect x="313.64" y="654.82" width="5" height="54.34" fill="#ffff00"/><rect x="313.64" y="632.27" width="5" height="22.55" fill="#00ff00"/><rect x="324.8" y="761.1" width="5" height="56" fill="#ff0000"/><rect x="324.8" y="707.31" width="5" height="53.79" fill="#ff7f4c"/><rect x="324.8" y="658.33" width="5" height="48.98" fill="#ffff00"/><rect x="324.8" y="632.27" width="5" height="26.06" fill="#00ff00"/><rect x="335.96" y="765.53" width="5" height="51.57" fill="#ff0000"/><rect x="335.96" y="721.36" width="5" height="44.18" fill="#ff7f4c"/><rect x="335.96" y="668.68" width="5" height="52.68" fill="#ffff00"/><rect x="335.96" y="634.3" width="5" height="34.38" fill="#00ff00"/><rect x="335.96" y="632.27" width="5" height="2.03" fill="#008000"/><rect x="347.11" y="761.1" width="5" height="56" fill="#ff0000"/><rect x="347.11" y="705.28" width="5" height="55.82" fill="#ff7f4c"/><rect x="347.11" y="656.66" width="5" height="48.61" fill="#ffff00"/><rect x="347.11" y="633.38" width="5" height="23.29" fill="#00ff00"/><rect x="347.11" y="632.27" width="5" height="1.11" fill="#008000"/><rect x="358.27" y="797.69" width="5" height="19.41" fill="#ff0000"/><rect x="358.27" y="763.13" width="5" height="34.56" fill="#ff7f4c"/><rect x="358.27" y="702.32" width="5" height="60.81" fill="#ffff00"/><rect x="358.27" y="650.93" width="5" height="51.38" fill="#00ff00"/><rect x="358.27" y="632.27" width="5" height="18.67" fill="#008000"/><rect x="369.43" y="776.99" width="5" height="40.11" fill="#ff0000"/><rect x="369.43" y="729.67" width="5" height="47.32" fill="#ff7f4c"/><rect x="369.43" y="670.9" width="5" height="58.78" fill="#ffff00"/><rect x="369.43" y="638.92" width="5" height="31.98" fill="#00ff00"/><rect x="369.43" y="632.27" width="5" height="6.65" fill="#008000"/><rect x="380.59" y="791.96" width="5" height="25.14" fill="#ff0000"/><rect x="380.59" y="749.45" width="5" height="42.51" fill="#ff7f4c"/><rect x="380.59" y="692.89" width="5" height="56.56" fill="#ffff00"/><rect x="380.59" y="643.91" width="5" height="48.98" fill="#00ff00"/><rect x="380.59" y="632.27" width="5" height="11.64" fill="#008000"/><rect x="391.75" y="801.57" width="5" height="15.53" fill="#ff0000"/><rect x="391.75" y="758.14" width="5" height="43.44" fill="#ff7f4c"/><rect x="391.75" y="693.45" width="5" height="64.69" fill="#ffff00"/><rect x="391.75" y="645.21" width="5" height="48.24" fill="#00ff00"/><rect x="391.75" y="632.27" width="5" height="12.94" fill="#008000"/><rect x="402.9" y="804.16" width="5" height="12.94" fill="#ff0000"/><rect x="402.9" y="764.98" width="5" height="39.18" fill="#ff7f4c"/><rect x="402.9" y="709.9" width="5" height="55.08" fill="#ffff00"/><rect x="402.9" y="653.71" width="5" height="56.19" fill="#00ff00"/><rect x="402.9" y="632.27" width="5" height="21.44" fill="#008000"/><rect x="414.06" y="797.32" width="5" height="19.78" fill="#ff0000"/><rect x="414.06" y="751.3" width="5" height="46.02" fill="#ff7f4c"/><rect x="414.06" y="697.33" width="5" height="53.97" fill="#ffff00"/><rect x="414.06" y="648.72" width="5" height="48.61" fill="#00ff00"/><rect x="414.06" y="632.27" width="5" height="16.45" fill="#008000"/><rect x="425.22" y="803.79" width="5" height="13.31" fill="#ff0000"/><rect x="425.22" y="769.97" width="5" height="33.82" fill="#ff7f4c"/><rect x="425.22" y="724.31" width="5" height="45.65" fill="#ffff00"/><rect x="425.22" y="669.79" width="5" height="54.53" fill="#00ff00"/><rect x="425.22" y="632.27" width="5" height="37.52" fill="#008000"/><line x1="92.98" y1="793.44" x2="427.72" y2="720.8" stroke="#000" stroke-width="1.8" stroke-dasharray="1.5 1.9"/><polyline points="92.98,754.63 104.14,751.3 115.3,777.36 126.45,765.16 137.61,748.34 148.77,767.01 159.93,795.66 171.09,744.09 182.24,788.64 193.4,802.13 204.56,789.19 215.72,802.31 226.88,799.91 238.03,789.74 249.19,777.55 260.35,789.74 271.51,773.11 282.67,784.2 293.82,777.55 304.98,741.5 316.14,750.01 327.3,752.04 338.46,742.8 349.61,751.3 360.77,702.32 371.93,732.82 383.09,713.22 394.25,707.86 405.4,697.33 416.56,708.97 427.72,685.31" fill="none" stroke="#000" stroke-width="1.5" stroke-linejoin="round"/><rect x="96.9" y="608.4" width="8.6" height="8.2" fill="#ff0000"/><text x="109.5" y="617.8" font-size="16.3">Poor</text><rect x="151.3" y="608.4" width="8.6" height="8.2" fill="#ff7f4c"/><text x="163.9" y="617.8" font-size="16.3">Fair</text><rect x="201.6" y="608.4" width="8.6" height="8.2" fill="#ffff00"/><text x="214.4" y="617.8" font-size="16.3">Moderate</text><rect x="290.7" y="608.4" width="8.6" height="8.2" fill="#00ff00"/><text x="303.4" y="617.8" font-size="16.3">Good</text><rect x="349.4" y="608.4" width="8.6" height="8.2" fill="#008000"/><text x="362.9" y="617.8" font-size="16.3">Excellent</text><text x="112.4" y="662.1" font-size="18.5">(g)</text><text x="70" y="824.1" font-size="21" text-anchor="end">0</text><text x="70" y="787.13" font-size="21" text-anchor="end">20</text><text x="70" y="750.17" font-size="21" text-anchor="end">40</text><text x="70" y="713.2" font-size="21" text-anchor="end">60</text><text x="70" y="676.23" font-size="21" text-anchor="end">80</text><text x="70" y="639.27" font-size="21" text-anchor="end">100</text><text x="70" y="602.3" font-size="21" text-anchor="end">120</text><text x="450.5" y="824.1" font-size="21">0.1</text><text x="450.5" y="768.65" font-size="21">0.3</text><text x="450.5" y="713.2" font-size="21">0.5</text><text x="450.5" y="657.75" font-size="21">0.7</text><text x="450.5" y="602.3" font-size="21">0.9</text><text x="92.98" y="842.3" font-size="21" text-anchor="middle">1987</text><text x="148.77" y="842.3" font-size="21" text-anchor="middle">1992</text><text x="204.56" y="842.3" font-size="21" text-anchor="middle">1998</text><text x="260.35" y="842.3" font-size="21" text-anchor="middle">2005</text><text x="316.14" y="842.3" font-size="21" text-anchor="middle">2010</text><text x="371.93" y="842.3" font-size="21" text-anchor="middle">2015</text><text x="427.72" y="842.3" font-size="21" text-anchor="middle">2020</text><text x="256.3" y="863.1" font-size="19.5" text-anchor="middle">Year</text><text transform="translate(21.6,715.5) rotate(-90)" x="0" y="0" font-size="19.2" text-anchor="middle" dy="6.5">Area proportion(%)</text><text transform="translate(489,705.6) rotate(-90)" x="0" y="0" font-size="19.2" text-anchor="middle" dy="6.5">Mean of RSEI</text></g>
<g><line x1="583.4" y1="779.63" x2="929.3" y2="779.63" stroke="#efefef" stroke-width="1"/><line x1="583.4" y1="742.67" x2="929.3" y2="742.67" stroke="#efefef" stroke-width="1"/><line x1="583.4" y1="705.7" x2="929.3" y2="705.7" stroke="#efefef" stroke-width="1"/><line x1="583.4" y1="668.73" x2="929.3" y2="668.73" stroke="#efefef" stroke-width="1"/><line x1="583.4" y1="631.77" x2="929.3" y2="631.77" stroke="#efefef" stroke-width="1"/><rect x="583.4" y="594.8" width="345.9" height="221.8" fill="none" stroke="#8c8c8c" stroke-width="1.3"/><rect x="586.48" y="786.47" width="5" height="30.13" fill="#ff0000"/><rect x="586.48" y="723.07" width="5" height="63.4" fill="#ff7f4c"/><rect x="586.48" y="655.06" width="5" height="68.02" fill="#ffff00"/><rect x="586.48" y="632.32" width="5" height="22.73" fill="#00ff00"/><rect x="586.48" y="631.77" width="5" height="0.55" fill="#008000"/><rect x="597.64" y="803.66" width="5" height="12.94" fill="#ff0000"/><rect x="597.64" y="767.62" width="5" height="36.04" fill="#ff7f4c"/><rect x="597.64" y="702" width="5" height="65.62" fill="#ffff00"/><rect x="597.64" y="641.56" width="5" height="60.44" fill="#00ff00"/><rect x="597.64" y="631.77" width="5" height="9.8" fill="#008000"/><rect x="608.8" y="797.93" width="5" height="18.67" fill="#ff0000"/><rect x="608.8" y="758.75" width="5" height="39.18" fill="#ff7f4c"/><rect x="608.8" y="692.76" width="5" height="65.99" fill="#ffff00"/><rect x="608.8" y="640.64" width="5" height="52.12" fill="#00ff00"/><rect x="608.8" y="631.77" width="5" height="8.87" fill="#008000"/><rect x="619.95" y="808.1" width="5" height="8.5" fill="#ff0000"/><rect x="619.95" y="776.49" width="5" height="31.61" fill="#ff7f4c"/><rect x="619.95" y="713.46" width="5" height="63.03" fill="#ffff00"/><rect x="619.95" y="647.48" width="5" height="65.99" fill="#00ff00"/><rect x="619.95" y="631.77" width="5" height="15.71" fill="#008000"/><rect x="631.11" y="814.01" width="5" height="2.59" fill="#ff0000"/><rect x="631.11" y="794.6" width="5" height="19.41" fill="#ff7f4c"/><rect x="631.11" y="748.03" width="5" height="46.58" fill="#ffff00"/><rect x="631.11" y="677.61" width="5" height="70.42" fill="#00ff00"/><rect x="631.11" y="631.77" width="5" height="45.84" fill="#008000"/><rect x="642.27" y="801.81" width="5" height="14.79" fill="#ff7f4c"/><rect x="642.27" y="742.11" width="5" height="59.7" fill="#ffff00"/><rect x="642.27" y="652.28" width="5" height="89.83" fill="#00ff00"/><rect x="642.27" y="631.77" width="5" height="20.52" fill="#008000"/><rect x="653.43" y="807.73" width="5" height="8.87" fill="#ff0000"/><rect x="653.43" y="777.79" width="5" height="29.94" fill="#ff7f4c"/><rect x="653.43" y="715.13" width="5" height="62.66" fill="#ffff00"/><rect x="653.43" y="651.73" width="5" height="63.4" fill="#00ff00"/><rect x="653.43" y="631.77" width="5" height="19.96" fill="#008000"/><rect x="664.59" y="815.68" width="5" height="0.92" fill="#ff0000"/><rect x="664.59" y="807.73" width="5" height="7.95" fill="#ff7f4c"/><rect x="664.59" y="749.88" width="5" height="57.85" fill="#ffff00"/><rect x="664.59" y="663.56" width="5" height="86.32" fill="#00ff00"/><rect x="664.59" y="631.77" width="5" height="31.79" fill="#008000"/><rect x="675.74" y="814.38" width="5" height="2.22" fill="#ff0000"/><rect x="675.74" y="786.1" width="5" height="28.28" fill="#ff7f4c"/><rect x="675.74" y="699.97" width="5" height="86.13" fill="#ffff00"/><rect x="675.74" y="633.62" width="5" height="66.36" fill="#00ff00"/><rect x="675.74" y="631.77" width="5" height="1.85" fill="#008000"/><rect x="686.9" y="807.73" width="5" height="8.87" fill="#ff0000"/><rect x="686.9" y="782.78" width="5" height="24.95" fill="#ff7f4c"/><rect x="686.9" y="719.75" width="5" height="63.03" fill="#ffff00"/><rect x="686.9" y="662.26" width="5" height="57.48" fill="#00ff00"/><rect x="686.9" y="631.77" width="5" height="30.5" fill="#008000"/><rect x="698.06" y="814.57" width="5" height="2.03" fill="#ff0000"/><rect x="698.06" y="794.6" width="5" height="19.96" fill="#ff7f4c"/><rect x="698.06" y="730.84" width="5" height="63.77" fill="#ffff00"/><rect x="698.06" y="653.39" width="5" height="77.45" fill="#00ff00"/><rect x="698.06" y="631.77" width="5" height="21.63" fill="#008000"/><rect x="709.22" y="794.6" width="5" height="22" fill="#ff0000"/><rect x="709.22" y="753.2" width="5" height="41.4" fill="#ff7f4c"/><rect x="709.22" y="695.16" width="5" height="58.04" fill="#ffff00"/><rect x="709.22" y="641.19" width="5" height="53.97" fill="#00ff00"/><rect x="709.22" y="631.77" width="5" height="9.43" fill="#008000"/><rect x="720.38" y="805.69" width="5" height="10.91" fill="#ff0000"/><rect x="720.38" y="762.44" width="5" height="43.25" fill="#ff7f4c"/><rect x="720.38" y="687.22" width="5" height="75.23" fill="#ffff00"/><rect x="720.38" y="634.72" width="5" height="52.49" fill="#00ff00"/><rect x="720.38" y="631.77" width="5" height="2.96" fill="#008000"/><rect x="731.53" y="812.35" width="5" height="4.25" fill="#ff0000"/><rect x="731.53" y="786.47" width="5" height="25.88" fill="#ff7f4c"/><rect x="731.53" y="721.04" width="5" height="65.43" fill="#ffff00"/><rect x="731.53" y="650.8" width="5" height="70.24" fill="#00ff00"/><rect x="731.53" y="631.77" width="5" height="19.04" fill="#008000"/><rect x="742.69" y="812.35" width="5" height="4.25" fill="#ff0000"/><rect x="742.69" y="787.4" width="5" height="24.95" fill="#ff7f4c"/><rect x="742.69" y="722.15" width="5" height="65.25" fill="#ffff00"/><rect x="742.69" y="642.49" width="5" height="79.66" fill="#00ff00"/><rect x="742.69" y="631.77" width="5" height="10.72" fill="#008000"/><rect x="753.85" y="813.27" width="5" height="3.33" fill="#ff0000"/><rect x="753.85" y="789.24" width="5" height="24.03" fill="#ff7f4c"/><rect x="753.85" y="717.71" width="5" height="71.53" fill="#ffff00"/><rect x="753.85" y="645.26" width="5" height="72.45" fill="#00ff00"/><rect x="753.85" y="631.77" width="5" height="13.49" fill="#008000"/><rect x="765.01" y="812.72" width="5" height="3.88" fill="#ff0000"/><rect x="765.01" y="798.49" width="5" height="14.23" fill="#ff7f4c"/><rect x="765.01" y="749.32" width="5" height="49.17" fill="#ffff00"/><rect x="765.01" y="666.15" width="5" height="83.18" fill="#00ff00"/><rect x="765.01" y="631.77" width="5" height="34.38" fill="#008000"/><rect x="776.17" y="814.94" width="5" height="1.66" fill="#ff0000"/><rect x="776.17" y="809.02" width="5" height="5.91" fill="#ff7f4c"/><rect x="776.17" y="764.66" width="5" height="44.36" fill="#ffff00"/><rect x="776.17" y="666.15" width="5" height="98.52" fill="#00ff00"/><rect x="776.17" y="631.77" width="5" height="34.38" fill="#008000"/><rect x="787.32" y="810.69" width="5" height="5.91" fill="#ff0000"/><rect x="787.32" y="798.3" width="5" height="12.38" fill="#ff7f4c"/><rect x="787.32" y="759.12" width="5" height="39.18" fill="#ffff00"/><rect x="787.32" y="677.05" width="5" height="82.07" fill="#00ff00"/><rect x="787.32" y="631.77" width="5" height="45.28" fill="#008000"/><rect x="798.48" y="807.73" width="5" height="8.87" fill="#ff0000"/><rect x="798.48" y="800.52" width="5" height="7.21" fill="#ff7f4c"/><rect x="798.48" y="776.31" width="5" height="24.21" fill="#ffff00"/><rect x="798.48" y="691.47" width="5" height="84.84" fill="#00ff00"/><rect x="798.48" y="631.77" width="5" height="59.7" fill="#008000"/><rect x="809.64" y="806.99" width="5" height="9.61" fill="#ff0000"/><rect x="809.64" y="798.86" width="5" height="8.13" fill="#ff7f4c"/><rect x="809.64" y="752.09" width="5" height="46.76" fill="#ffff00"/><rect x="809.64" y="658.57" width="5" height="93.53" fill="#00ff00"/><rect x="809.64" y="631.77" width="5" height="26.8" fill="#008000"/><rect x="820.8" y="806.43" width="5" height="10.17" fill="#ff0000"/><rect x="820.8" y="792.57" width="5" height="13.86" fill="#ff7f4c"/><rect x="820.8" y="732.87" width="5" height="59.7" fill="#ffff00"/><rect x="820.8" y="647.48" width="5" height="85.39" fill="#00ff00"/><rect x="820.8" y="631.77" width="5" height="15.71" fill="#008000"/><rect x="831.96" y="789.24" width="5" height="27.36" fill="#ff0000"/><rect x="831.96" y="773.9" width="5" height="15.34" fill="#ff7f4c"/><rect x="831.96" y="743.59" width="5" height="30.31" fill="#ffff00"/><rect x="831.96" y="670.4" width="5" height="73.19" fill="#00ff00"/><rect x="831.96" y="631.77" width="5" height="38.63" fill="#008000"/><rect x="843.11" y="792.57" width="5" height="24.03" fill="#ff0000"/><rect x="843.11" y="772.61" width="5" height="19.96" fill="#ff7f4c"/><rect x="843.11" y="747.29" width="5" height="25.32" fill="#ffff00"/><rect x="843.11" y="685.55" width="5" height="61.73" fill="#00ff00"/><rect x="843.11" y="631.77" width="5" height="53.79" fill="#008000"/><rect x="854.27" y="792.02" width="5" height="24.58" fill="#ff0000"/><rect x="854.27" y="763.37" width="5" height="28.65" fill="#ff7f4c"/><rect x="854.27" y="715.68" width="5" height="47.69" fill="#ffff00"/><rect x="854.27" y="646.92" width="5" height="68.76" fill="#00ff00"/><rect x="854.27" y="631.77" width="5" height="15.16" fill="#008000"/><rect x="865.43" y="779.82" width="5" height="36.78" fill="#ff0000"/><rect x="865.43" y="761.89" width="5" height="17.93" fill="#ff7f4c"/><rect x="865.43" y="730.28" width="5" height="31.61" fill="#ffff00"/><rect x="865.43" y="673.17" width="5" height="57.11" fill="#00ff00"/><rect x="865.43" y="631.77" width="5" height="41.4" fill="#008000"/><rect x="876.59" y="769.65" width="5" height="46.95" fill="#ff0000"/><rect x="876.59" y="744.7" width="5" height="24.95" fill="#ff7f4c"/><rect x="876.59" y="715.13" width="5" height="29.57" fill="#ffff00"/><rect x="876.59" y="659.86" width="5" height="55.27" fill="#00ff00"/><rect x="876.59" y="631.77" width="5" height="28.09" fill="#008000"/><rect x="887.75" y="770.58" width="5" height="46.02" fill="#ff0000"/><rect x="887.75" y="738.05" width="5" height="32.53" fill="#ff7f4c"/><rect x="887.75" y="701.26" width="5" height="36.78" fill="#ffff00"/><rect x="887.75" y="650.62" width="5" height="50.64" fill="#00ff00"/><rect x="887.75" y="631.77" width="5" height="18.85" fill="#008000"/><rect x="898.9" y="761.7" width="5" height="54.9" fill="#ff0000"/><rect x="898.9" y="729.17" width="5" height="32.53" fill="#ff7f4c"/><rect x="898.9" y="702" width="5" height="27.17" fill="#ffff00"/><rect x="898.9" y="643.78" width="5" height="58.22" fill="#00ff00"/><rect x="898.9" y="631.77" width="5" height="12.01" fill="#008000"/><rect x="910.06" y="770.02" width="5" height="46.58" fill="#ff0000"/><rect x="910.06" y="730.1" width="5" height="39.92" fill="#ff7f4c"/><rect x="910.06" y="701.08" width="5" height="29.02" fill="#ffff00"/><rect x="910.06" y="654.69" width="5" height="46.39" fill="#00ff00"/><rect x="910.06" y="631.77" width="5" height="22.92" fill="#008000"/><rect x="921.22" y="763.37" width="5" height="53.23" fill="#ff0000"/><rect x="921.22" y="743.04" width="5" height="20.33" fill="#ff7f4c"/><rect x="921.22" y="709.77" width="5" height="33.27" fill="#ffff00"/><rect x="921.22" y="663.56" width="5" height="46.21" fill="#00ff00"/><rect x="921.22" y="631.77" width="5" height="31.79" fill="#008000"/><line x1="588.98" y1="684.63" x2="923.72" y2="695.35" stroke="#000" stroke-width="1.8" stroke-dasharray="1.5 1.9"/><polyline points="588.98,736.2 600.14,702.37 611.3,708.29 622.45,692.02 633.61,663.56 644.77,670.77 655.93,688.88 667.09,664.85 678.24,694.06 689.4,682.6 700.56,676.31 711.72,711.25 722.88,708.29 734.03,683.89 745.19,685 756.35,684.81 767.51,666.52 778.67,659.31 789.82,661.89 800.98,653.39 812.14,672.06 823.3,681.3 834.46,683.89 845.61,675.76 856.77,699.42 867.93,693.69 879.09,712.17 890.25,720.67 901.4,724.74 912.56,721.97 923.72,714.57" fill="none" stroke="#000" stroke-width="1.5" stroke-linejoin="round"/><rect x="592.9" y="607.9" width="8.6" height="8.2" fill="#ff0000"/><text x="605.5" y="617.3" font-size="16.3">Poor</text><rect x="647.3" y="607.9" width="8.6" height="8.2" fill="#ff7f4c"/><text x="659.9" y="617.3" font-size="16.3">Fair</text><rect x="697.6" y="607.9" width="8.6" height="8.2" fill="#ffff00"/><text x="710.4" y="617.3" font-size="16.3">Moderate</text><rect x="786.7" y="607.9" width="8.6" height="8.2" fill="#00ff00"/><text x="799.4" y="617.3" font-size="16.3">Good</text><rect x="845.4" y="607.9" width="8.6" height="8.2" fill="#008000"/><text x="858.9" y="617.3" font-size="16.3">Excellent</text><text x="605.4" y="661.9" font-size="18.5">(h)</text><text x="566" y="823.6" font-size="21" text-anchor="end">0</text><text x="566" y="786.63" font-size="21" text-anchor="end">20</text><text x="566" y="749.67" font-size="21" text-anchor="end">40</text><text x="566" y="712.7" font-size="21" text-anchor="end">60</text><text x="566" y="675.73" font-size="21" text-anchor="end">80</text><text x="566" y="638.77" font-size="21" text-anchor="end">100</text><text x="566" y="601.8" font-size="21" text-anchor="end">120</text><text x="946.5" y="823.6" font-size="21">0.1</text><text x="946.5" y="768.15" font-size="21">0.3</text><text x="946.5" y="712.7" font-size="21">0.5</text><text x="946.5" y="657.25" font-size="21">0.7</text><text x="946.5" y="601.8" font-size="21">0.9</text><text x="588.98" y="841.8" font-size="21" text-anchor="middle">1987</text><text x="644.77" y="841.8" font-size="21" text-anchor="middle">1992</text><text x="700.56" y="841.8" font-size="21" text-anchor="middle">1998</text><text x="756.35" y="841.8" font-size="21" text-anchor="middle">2005</text><text x="812.14" y="841.8" font-size="21" text-anchor="middle">2010</text><text x="867.93" y="841.8" font-size="21" text-anchor="middle">2015</text><text x="923.72" y="841.8" font-size="21" text-anchor="middle">2020</text><text x="751.2" y="862.6" font-size="19.5" text-anchor="middle">Year</text><text transform="translate(515.6,715) rotate(-90)" x="0" y="0" font-size="19.2" text-anchor="middle" dy="6.5">Area proportion(%)</text><text transform="translate(986.7,705.1) rotate(-90)" x="0" y="0" font-size="19.2" text-anchor="middle" dy="6.5">Mean of RSEI</text></g>
<g><line x1="1075.1" y1="780.13" x2="1420.6" y2="780.13" stroke="#efefef" stroke-width="1"/><line x1="1075.1" y1="743.17" x2="1420.6" y2="743.17" stroke="#efefef" stroke-width="1"/><line x1="1075.1" y1="706.2" x2="1420.6" y2="706.2" stroke="#efefef" stroke-width="1"/><line x1="1075.1" y1="669.23" x2="1420.6" y2="669.23" stroke="#efefef" stroke-width="1"/><line x1="1075.1" y1="632.27" x2="1420.6" y2="632.27" stroke="#efefef" stroke-width="1"/><rect x="1075.1" y="595.3" width="345.5" height="221.8" fill="none" stroke="#8c8c8c" stroke-width="1.3"/><rect x="1078.17" y="805.83" width="5" height="11.27" fill="#ff0000"/><rect x="1078.17" y="725.98" width="5" height="79.85" fill="#ff7f4c"/><rect x="1078.17" y="652.04" width="5" height="73.93" fill="#ffff00"/><rect x="1078.17" y="632.27" width="5" height="19.78" fill="#00ff00"/><rect x="1089.32" y="814.51" width="5" height="2.59" fill="#ff0000"/><rect x="1089.32" y="774.77" width="5" height="39.74" fill="#ff7f4c"/><rect x="1089.32" y="693.45" width="5" height="81.33" fill="#ffff00"/><rect x="1089.32" y="637.26" width="5" height="56.19" fill="#00ff00"/><rect x="1089.32" y="632.27" width="5" height="4.99" fill="#008000"/><rect x="1100.46" y="806.93" width="5" height="10.17" fill="#ff0000"/><rect x="1100.46" y="760.17" width="5" height="46.76" fill="#ff7f4c"/><rect x="1100.46" y="690.12" width="5" height="70.05" fill="#ffff00"/><rect x="1100.46" y="641.14" width="5" height="48.98" fill="#00ff00"/><rect x="1100.46" y="632.27" width="5" height="8.87" fill="#008000"/><rect x="1111.61" y="815.99" width="5" height="1.11" fill="#ff0000"/><rect x="1111.61" y="796.4" width="5" height="19.59" fill="#ff7f4c"/><rect x="1111.61" y="719.69" width="5" height="76.71" fill="#ffff00"/><rect x="1111.61" y="643.91" width="5" height="75.78" fill="#00ff00"/><rect x="1111.61" y="632.27" width="5" height="11.64" fill="#008000"/><rect x="1122.75" y="802.87" width="5" height="14.23" fill="#ff7f4c"/><rect x="1122.75" y="731.89" width="5" height="70.98" fill="#ffff00"/><rect x="1122.75" y="658.88" width="5" height="73.01" fill="#00ff00"/><rect x="1122.75" y="632.27" width="5" height="26.62" fill="#008000"/><rect x="1133.9" y="815.62" width="5" height="1.48" fill="#ff0000"/><rect x="1133.9" y="788.64" width="5" height="26.99" fill="#ff7f4c"/><rect x="1133.9" y="717.84" width="5" height="70.79" fill="#ffff00"/><rect x="1133.9" y="635.59" width="5" height="82.25" fill="#00ff00"/><rect x="1133.9" y="632.27" width="5" height="3.33" fill="#008000"/><rect x="1145.04" y="802.13" width="5" height="14.97" fill="#ff0000"/><rect x="1145.04" y="769.41" width="5" height="32.72" fill="#ff7f4c"/><rect x="1145.04" y="691.78" width="5" height="77.63" fill="#ffff00"/><rect x="1145.04" y="637.63" width="5" height="54.16" fill="#00ff00"/><rect x="1145.04" y="632.27" width="5" height="5.36" fill="#008000"/><rect x="1156.19" y="796.03" width="5" height="21.07" fill="#ff7f4c"/><rect x="1156.19" y="723.02" width="5" height="73.01" fill="#ffff00"/><rect x="1156.19" y="644.47" width="5" height="78.55" fill="#00ff00"/><rect x="1156.19" y="632.27" width="5" height="12.2" fill="#008000"/><rect x="1167.33" y="793.63" width="5" height="23.47" fill="#ff7f4c"/><rect x="1167.33" y="701.39" width="5" height="92.23" fill="#ffff00"/><rect x="1167.33" y="632.27" width="5" height="69.13" fill="#00ff00"/><rect x="1178.48" y="802.87" width="5" height="14.23" fill="#ff0000"/><rect x="1178.48" y="771.63" width="5" height="31.24" fill="#ff7f4c"/><rect x="1178.48" y="690.49" width="5" height="81.14" fill="#ffff00"/><rect x="1178.48" y="640.77" width="5" height="49.72" fill="#00ff00"/><rect x="1178.48" y="632.27" width="5" height="8.5" fill="#008000"/><rect x="1189.62" y="816.36" width="5" height="0.74" fill="#ff0000"/><rect x="1189.62" y="792.33" width="5" height="24.03" fill="#ff7f4c"/><rect x="1189.62" y="724.31" width="5" height="68.02" fill="#ffff00"/><rect x="1189.62" y="641.88" width="5" height="82.44" fill="#00ff00"/><rect x="1189.62" y="632.27" width="5" height="9.61" fill="#008000"/><rect x="1200.77" y="810.45" width="5" height="6.65" fill="#ff0000"/><rect x="1200.77" y="782.91" width="5" height="27.54" fill="#ff7f4c"/><rect x="1200.77" y="701.02" width="5" height="81.88" fill="#ffff00"/><rect x="1200.77" y="635.41" width="5" height="65.62" fill="#00ff00"/><rect x="1200.77" y="632.27" width="5" height="3.14" fill="#008000"/><rect x="1211.91" y="794" width="5" height="23.1" fill="#ff0000"/><rect x="1211.91" y="737.44" width="5" height="56.56" fill="#ff7f4c"/><rect x="1211.91" y="661.66" width="5" height="75.78" fill="#ffff00"/><rect x="1211.91" y="632.27" width="5" height="29.39" fill="#00ff00"/><rect x="1223.06" y="810.82" width="5" height="6.28" fill="#ff0000"/><rect x="1223.06" y="777.92" width="5" height="32.9" fill="#ff7f4c"/><rect x="1223.06" y="688.83" width="5" height="89.09" fill="#ffff00"/><rect x="1223.06" y="634.85" width="5" height="53.97" fill="#00ff00"/><rect x="1223.06" y="632.27" width="5" height="2.59" fill="#008000"/><rect x="1234.2" y="810.45" width="5" height="6.65" fill="#ff0000"/><rect x="1234.2" y="780.13" width="5" height="30.31" fill="#ff7f4c"/><rect x="1234.2" y="692.89" width="5" height="87.24" fill="#ffff00"/><rect x="1234.2" y="638.18" width="5" height="54.71" fill="#00ff00"/><rect x="1234.2" y="632.27" width="5" height="5.91" fill="#008000"/><rect x="1245.35" y="816.73" width="5" height="0.37" fill="#ff0000"/><rect x="1245.35" y="797.32" width="5" height="19.41" fill="#ff7f4c"/><rect x="1245.35" y="718.77" width="5" height="78.55" fill="#ffff00"/><rect x="1245.35" y="646.13" width="5" height="72.64" fill="#00ff00"/><rect x="1245.35" y="632.27" width="5" height="13.86" fill="#008000"/><rect x="1256.5" y="808.78" width="5" height="8.32" fill="#ff0000"/><rect x="1256.5" y="791.04" width="5" height="17.74" fill="#ff7f4c"/><rect x="1256.5" y="734.85" width="5" height="56.19" fill="#ffff00"/><rect x="1256.5" y="651.12" width="5" height="83.73" fill="#00ff00"/><rect x="1256.5" y="632.27" width="5" height="18.85" fill="#008000"/><rect x="1267.64" y="796.4" width="5" height="20.7" fill="#ff0000"/><rect x="1267.64" y="780.13" width="5" height="16.27" fill="#ff7f4c"/><rect x="1267.64" y="723.76" width="5" height="56.37" fill="#ffff00"/><rect x="1267.64" y="636.89" width="5" height="86.87" fill="#00ff00"/><rect x="1267.64" y="632.27" width="5" height="4.62" fill="#008000"/><rect x="1278.79" y="793.63" width="5" height="23.47" fill="#ff0000"/><rect x="1278.79" y="775.33" width="5" height="18.3" fill="#ff7f4c"/><rect x="1278.79" y="712.85" width="5" height="62.47" fill="#ffff00"/><rect x="1278.79" y="638.92" width="5" height="73.93" fill="#00ff00"/><rect x="1278.79" y="632.27" width="5" height="6.65" fill="#008000"/><rect x="1289.93" y="792.33" width="5" height="24.77" fill="#ff0000"/><rect x="1289.93" y="768.67" width="5" height="23.66" fill="#ff7f4c"/><rect x="1289.93" y="738.73" width="5" height="29.94" fill="#ffff00"/><rect x="1289.93" y="652.97" width="5" height="85.76" fill="#00ff00"/><rect x="1289.93" y="632.27" width="5" height="20.7" fill="#008000"/><rect x="1301.08" y="759.8" width="5" height="57.3" fill="#ff0000"/><rect x="1301.08" y="719.32" width="5" height="40.48" fill="#ff7f4c"/><rect x="1301.08" y="653.71" width="5" height="65.62" fill="#ffff00"/><rect x="1301.08" y="632.27" width="5" height="21.44" fill="#00ff00"/><rect x="1312.22" y="731.15" width="5" height="85.95" fill="#ff0000"/><rect x="1312.22" y="686.24" width="5" height="44.91" fill="#ff7f4c"/><rect x="1312.22" y="639.84" width="5" height="46.39" fill="#ffff00"/><rect x="1312.22" y="632.27" width="5" height="7.58" fill="#00ff00"/><rect x="1323.37" y="734.85" width="5" height="82.25" fill="#ff0000"/><rect x="1323.37" y="703.61" width="5" height="31.24" fill="#ff7f4c"/><rect x="1323.37" y="662.58" width="5" height="41.03" fill="#ffff00"/><rect x="1323.37" y="634.3" width="5" height="28.28" fill="#00ff00"/><rect x="1323.37" y="632.27" width="5" height="2.03" fill="#008000"/><rect x="1334.51" y="723.02" width="5" height="94.08" fill="#ff0000"/><rect x="1334.51" y="682.91" width="5" height="40.11" fill="#ff7f4c"/><rect x="1334.51" y="656.3" width="5" height="26.62" fill="#ffff00"/><rect x="1334.51" y="635.22" width="5" height="21.07" fill="#00ff00"/><rect x="1334.51" y="632.27" width="5" height="2.96" fill="#008000"/><rect x="1345.66" y="762.2" width="5" height="54.9" fill="#ff0000"/><rect x="1345.66" y="721.73" width="5" height="40.48" fill="#ff7f4c"/><rect x="1345.66" y="665.91" width="5" height="55.82" fill="#ffff00"/><rect x="1345.66" y="634.3" width="5" height="31.61" fill="#00ff00"/><rect x="1345.66" y="632.27" width="5" height="2.03" fill="#008000"/><rect x="1356.8" y="744.65" width="5" height="72.45" fill="#ff0000"/><rect x="1356.8" y="708.97" width="5" height="35.67" fill="#ff7f4c"/><rect x="1356.8" y="660.55" width="5" height="48.43" fill="#ffff00"/><rect x="1356.8" y="633.38" width="5" height="27.17" fill="#00ff00"/><rect x="1356.8" y="632.27" width="5" height="1.11" fill="#008000"/><rect x="1367.95" y="747.42" width="5" height="69.68" fill="#ff0000"/><rect x="1367.95" y="703.24" width="5" height="44.18" fill="#ff7f4c"/><rect x="1367.95" y="661.66" width="5" height="41.59" fill="#ffff00"/><rect x="1367.95" y="632.27" width="5" height="29.39" fill="#00ff00"/><rect x="1379.09" y="750.01" width="5" height="67.09" fill="#ff0000"/><rect x="1379.09" y="698.07" width="5" height="51.94" fill="#ff7f4c"/><rect x="1379.09" y="646.13" width="5" height="51.94" fill="#ffff00"/><rect x="1379.09" y="632.27" width="5" height="13.86" fill="#00ff00"/><rect x="1390.24" y="745.75" width="5" height="71.35" fill="#ff0000"/><rect x="1390.24" y="712.3" width="5" height="33.45" fill="#ff7f4c"/><rect x="1390.24" y="673.67" width="5" height="38.63" fill="#ffff00"/><rect x="1390.24" y="632.27" width="5" height="41.4" fill="#00ff00"/><rect x="1401.38" y="758.88" width="5" height="58.22" fill="#ff0000"/><rect x="1401.38" y="705.28" width="5" height="53.6" fill="#ff7f4c"/><rect x="1401.38" y="655.93" width="5" height="49.35" fill="#ffff00"/><rect x="1401.38" y="632.27" width="5" height="23.66" fill="#00ff00"/><rect x="1412.53" y="792.52" width="5" height="24.58" fill="#ff0000"/><rect x="1412.53" y="767.75" width="5" height="24.77" fill="#ff7f4c"/><rect x="1412.53" y="723.02" width="5" height="44.73" fill="#ffff00"/><rect x="1412.53" y="666.09" width="5" height="56.93" fill="#00ff00"/><rect x="1412.53" y="632.27" width="5" height="33.82" fill="#008000"/><line x1="1080.67" y1="683.65" x2="1415.03" y2="750.01" stroke="#000" stroke-width="1.8" stroke-dasharray="1.5 1.9"/><polyline points="1080.67,731.89 1091.82,700.65 1102.96,707.49 1114.11,682.36 1125.25,673.67 1136.4,690.12 1147.54,707.31 1158.69,682.36 1169.83,693.45 1180.98,705.28 1192.12,684.39 1203.27,697.33 1214.41,729.3 1225.56,703.06 1236.7,699.36 1247.85,683.28 1259,683.28 1270.14,697.33 1281.29,701.39 1292.43,690.12 1303.58,749.27 1314.72,774.03 1325.87,761.1 1337.01,774.59 1348.16,744.46 1359.3,759.06 1370.45,758.51 1381.59,763.13 1392.74,752.59 1403.88,753.33 1415.03,694" fill="none" stroke="#000" stroke-width="1.5" stroke-linejoin="round"/><rect x="1084.6" y="608.4" width="8.6" height="8.2" fill="#ff0000"/><text x="1097.2" y="617.8" font-size="16.3">Poor</text><rect x="1139" y="608.4" width="8.6" height="8.2" fill="#ff7f4c"/><text x="1151.6" y="617.8" font-size="16.3">Fair</text><rect x="1189.3" y="608.4" width="8.6" height="8.2" fill="#ffff00"/><text x="1202.1" y="617.8" font-size="16.3">Moderate</text><rect x="1278.4" y="608.4" width="8.6" height="8.2" fill="#00ff00"/><text x="1291.1" y="617.8" font-size="16.3">Good</text><rect x="1337.1" y="608.4" width="8.6" height="8.2" fill="#008000"/><text x="1350.6" y="617.8" font-size="16.3">Excellent</text><text x="1105.6" y="661.9" font-size="18.5">(i)</text><text x="1057.7" y="824.1" font-size="21" text-anchor="end">0</text><text x="1057.7" y="787.13" font-size="21" text-anchor="end">20</text><text x="1057.7" y="750.17" font-size="21" text-anchor="end">40</text><text x="1057.7" y="713.2" font-size="21" text-anchor="end">60</text><text x="1057.7" y="676.23" font-size="21" text-anchor="end">80</text><text x="1057.7" y="639.27" font-size="21" text-anchor="end">100</text><text x="1057.7" y="602.3" font-size="21" text-anchor="end">120</text><text x="1437.8" y="824.1" font-size="21">0.1</text><text x="1437.8" y="768.65" font-size="21">0.3</text><text x="1437.8" y="713.2" font-size="21">0.5</text><text x="1437.8" y="657.75" font-size="21">0.7</text><text x="1437.8" y="602.3" font-size="21">0.9</text><text x="1080.67" y="842.3" font-size="21" text-anchor="middle">1987</text><text x="1136.4" y="842.3" font-size="21" text-anchor="middle">1992</text><text x="1192.12" y="842.3" font-size="21" text-anchor="middle">1998</text><text x="1247.85" y="842.3" font-size="21" text-anchor="middle">2005</text><text x="1303.58" y="842.3" font-size="21" text-anchor="middle">2010</text><text x="1359.3" y="842.3" font-size="21" text-anchor="middle">2015</text><text x="1415.03" y="842.3" font-size="21" text-anchor="middle">2020</text><text x="1246" y="863.1" font-size="19.5" text-anchor="middle">Year</text><text transform="translate(1010.8,715.5) rotate(-90)" x="0" y="0" font-size="19.2" text-anchor="middle" dy="6.5">Area proportion(%)</text><text transform="translate(1480.5,705.6) rotate(-90)" x="0" y="0" font-size="19.2" text-anchor="middle" dy="6.5">Mean of RSEI</text></g>
<g><line x1="87.4" y1="1058.73" x2="433" y2="1058.73" stroke="#efefef" stroke-width="1"/><line x1="87.4" y1="1021.77" x2="433" y2="1021.77" stroke="#efefef" stroke-width="1"/><line x1="87.4" y1="984.8" x2="433" y2="984.8" stroke="#efefef" stroke-width="1"/><line x1="87.4" y1="947.83" x2="433" y2="947.83" stroke="#efefef" stroke-width="1"/><line x1="87.4" y1="910.87" x2="433" y2="910.87" stroke="#efefef" stroke-width="1"/><rect x="87.4" y="873.9" width="345.6" height="221.8" fill="none" stroke="#8c8c8c" stroke-width="1.3"/><rect x="90.47" y="1030.27" width="5" height="65.43" fill="#ff0000"/><rect x="90.47" y="973.34" width="5" height="56.93" fill="#ff7f4c"/><rect x="90.47" y="920.11" width="5" height="53.23" fill="#ffff00"/><rect x="90.47" y="910.87" width="5" height="9.24" fill="#00ff00"/><rect x="101.62" y="1040.25" width="5" height="55.45" fill="#ff0000"/><rect x="101.62" y="1005.69" width="5" height="34.56" fill="#ff7f4c"/><rect x="101.62" y="942.1" width="5" height="63.58" fill="#ffff00"/><rect x="101.62" y="913.08" width="5" height="29.02" fill="#00ff00"/><rect x="101.62" y="910.87" width="5" height="2.22" fill="#008000"/><rect x="112.77" y="1044.13" width="5" height="51.57" fill="#ff0000"/><rect x="112.77" y="1025.28" width="5" height="18.85" fill="#ff7f4c"/><rect x="112.77" y="976.3" width="5" height="48.98" fill="#ffff00"/><rect x="112.77" y="924.91" width="5" height="51.38" fill="#00ff00"/><rect x="112.77" y="910.87" width="5" height="14.05" fill="#008000"/><rect x="123.92" y="1048.01" width="5" height="47.69" fill="#ff0000"/><rect x="123.92" y="1015.48" width="5" height="32.53" fill="#ff7f4c"/><rect x="123.92" y="950.24" width="5" height="65.25" fill="#ffff00"/><rect x="123.92" y="913.82" width="5" height="36.41" fill="#00ff00"/><rect x="123.92" y="910.87" width="5" height="2.96" fill="#008000"/><rect x="135.07" y="1074.63" width="5" height="21.07" fill="#ff0000"/><rect x="135.07" y="1034.52" width="5" height="40.11" fill="#ff7f4c"/><rect x="135.07" y="980.92" width="5" height="53.6" fill="#ffff00"/><rect x="135.07" y="933.23" width="5" height="47.69" fill="#00ff00"/><rect x="135.07" y="910.87" width="5" height="22.36" fill="#008000"/><rect x="146.22" y="1056.33" width="5" height="39.37" fill="#ff0000"/><rect x="146.22" y="1027.31" width="5" height="29.02" fill="#ff7f4c"/><rect x="146.22" y="969.64" width="5" height="57.67" fill="#ffff00"/><rect x="146.22" y="913.82" width="5" height="55.82" fill="#00ff00"/><rect x="146.22" y="910.87" width="5" height="2.96" fill="#008000"/><rect x="157.36" y="1045.98" width="5" height="49.72" fill="#ff0000"/><rect x="157.36" y="995.71" width="5" height="50.27" fill="#ff7f4c"/><rect x="157.36" y="932.31" width="5" height="63.4" fill="#ffff00"/><rect x="157.36" y="910.87" width="5" height="21.44" fill="#00ff00"/><rect x="168.51" y="1094.41" width="5" height="1.29" fill="#ff0000"/><rect x="168.51" y="1040.07" width="5" height="54.34" fill="#ff7f4c"/><rect x="168.51" y="952.64" width="5" height="87.43" fill="#ffff00"/><rect x="168.51" y="913.82" width="5" height="38.81" fill="#00ff00"/><rect x="168.51" y="910.87" width="5" height="2.96" fill="#008000"/><rect x="179.66" y="1067.42" width="5" height="28.28" fill="#ff0000"/><rect x="179.66" y="1033.23" width="5" height="34.19" fill="#ff7f4c"/><rect x="179.66" y="965.39" width="5" height="67.83" fill="#ffff00"/><rect x="179.66" y="921.03" width="5" height="44.36" fill="#00ff00"/><rect x="179.66" y="910.87" width="5" height="10.17" fill="#008000"/><rect x="190.81" y="1046.35" width="5" height="49.35" fill="#ff0000"/><rect x="190.81" y="980.55" width="5" height="65.8" fill="#ff7f4c"/><rect x="190.81" y="931.2" width="5" height="49.35" fill="#ffff00"/><rect x="190.81" y="913.82" width="5" height="17.37" fill="#00ff00"/><rect x="190.81" y="910.87" width="5" height="2.96" fill="#008000"/><rect x="201.96" y="1065.39" width="5" height="30.31" fill="#ff0000"/><rect x="201.96" y="1026.57" width="5" height="38.81" fill="#ff7f4c"/><rect x="201.96" y="955.23" width="5" height="71.35" fill="#ffff00"/><rect x="201.96" y="910.87" width="5" height="44.36" fill="#00ff00"/><rect x="213.11" y="1061.69" width="5" height="34.01" fill="#ff0000"/><rect x="213.11" y="1034.89" width="5" height="26.8" fill="#ff7f4c"/><rect x="213.11" y="996.07" width="5" height="38.81" fill="#ffff00"/><rect x="213.11" y="924.91" width="5" height="71.16" fill="#00ff00"/><rect x="213.11" y="910.87" width="5" height="14.05" fill="#008000"/><rect x="224.25" y="1037.85" width="5" height="57.85" fill="#ff0000"/><rect x="224.25" y="986.83" width="5" height="51.01" fill="#ff7f4c"/><rect x="224.25" y="918.81" width="5" height="68.02" fill="#ffff00"/><rect x="224.25" y="910.87" width="5" height="7.95" fill="#00ff00"/><rect x="235.4" y="1055.59" width="5" height="40.11" fill="#ff0000"/><rect x="235.4" y="989.79" width="5" height="65.8" fill="#ff7f4c"/><rect x="235.4" y="927.5" width="5" height="62.29" fill="#ffff00"/><rect x="235.4" y="914.75" width="5" height="12.75" fill="#00ff00"/><rect x="235.4" y="910.87" width="5" height="3.88" fill="#008000"/><rect x="246.55" y="1069.27" width="5" height="26.43" fill="#ff0000"/><rect x="246.55" y="1015.48" width="5" height="53.79" fill="#ff7f4c"/><rect x="246.55" y="941.18" width="5" height="74.3" fill="#ffff00"/><rect x="246.55" y="910.87" width="5" height="30.31" fill="#00ff00"/><rect x="257.7" y="1057.81" width="5" height="37.89" fill="#ff0000"/><rect x="257.7" y="1023.43" width="5" height="34.38" fill="#ff7f4c"/><rect x="257.7" y="962.44" width="5" height="60.99" fill="#ffff00"/><rect x="257.7" y="913.82" width="5" height="48.61" fill="#00ff00"/><rect x="257.7" y="910.87" width="5" height="2.96" fill="#008000"/><rect x="268.85" y="1073.7" width="5" height="22" fill="#ff0000"/><rect x="268.85" y="1045.06" width="5" height="28.65" fill="#ff7f4c"/><rect x="268.85" y="981.29" width="5" height="63.77" fill="#ffff00"/><rect x="268.85" y="923.99" width="5" height="57.3" fill="#00ff00"/><rect x="268.85" y="910.87" width="5" height="13.12" fill="#008000"/><rect x="280" y="1055.22" width="5" height="40.48" fill="#ff0000"/><rect x="280" y="1019.73" width="5" height="35.49" fill="#ff7f4c"/><rect x="280" y="966.32" width="5" height="53.42" fill="#ffff00"/><rect x="280" y="910.87" width="5" height="55.45" fill="#00ff00"/><rect x="291.15" y="1062.8" width="5" height="32.9" fill="#ff0000"/><rect x="291.15" y="1026.2" width="5" height="36.6" fill="#ff7f4c"/><rect x="291.15" y="978.33" width="5" height="47.87" fill="#ffff00"/><rect x="291.15" y="912.53" width="5" height="65.8" fill="#00ff00"/><rect x="291.15" y="910.87" width="5" height="1.66" fill="#008000"/><rect x="302.29" y="1061.69" width="5" height="34.01" fill="#ff0000"/><rect x="302.29" y="1031.56" width="5" height="30.13" fill="#ff7f4c"/><rect x="302.29" y="970.01" width="5" height="61.55" fill="#ffff00"/><rect x="302.29" y="917.15" width="5" height="52.86" fill="#00ff00"/><rect x="302.29" y="910.87" width="5" height="6.28" fill="#008000"/><rect x="313.44" y="1058.18" width="5" height="37.52" fill="#ff0000"/><rect x="313.44" y="1014.74" width="5" height="43.44" fill="#ff7f4c"/><rect x="313.44" y="955.23" width="5" height="59.52" fill="#ffff00"/><rect x="313.44" y="910.87" width="5" height="44.36" fill="#00ff00"/><rect x="324.59" y="1062.8" width="5" height="32.9" fill="#ff0000"/><rect x="324.59" y="1023.43" width="5" height="39.37" fill="#ff7f4c"/><rect x="324.59" y="957.26" width="5" height="66.17" fill="#ffff00"/><rect x="324.59" y="912.53" width="5" height="44.73" fill="#00ff00"/><rect x="324.59" y="910.87" width="5" height="1.66" fill="#008000"/><rect x="335.74" y="1050.05" width="5" height="45.65" fill="#ff0000"/><rect x="335.74" y="1005.32" width="5" height="44.73" fill="#ff7f4c"/><rect x="335.74" y="948.76" width="5" height="56.56" fill="#ffff00"/><rect x="335.74" y="914.19" width="5" height="34.56" fill="#00ff00"/><rect x="335.74" y="910.87" width="5" height="3.33" fill="#008000"/><rect x="346.89" y="1053.56" width="5" height="42.14" fill="#ff0000"/><rect x="346.89" y="1001.25" width="5" height="52.31" fill="#ff7f4c"/><rect x="346.89" y="943.21" width="5" height="58.04" fill="#ffff00"/><rect x="346.89" y="912.53" width="5" height="30.68" fill="#00ff00"/><rect x="346.89" y="910.87" width="5" height="1.66" fill="#008000"/><rect x="358.04" y="1057.25" width="5" height="38.45" fill="#ff0000"/><rect x="358.04" y="1014.93" width="5" height="42.33" fill="#ff7f4c"/><rect x="358.04" y="956.52" width="5" height="58.41" fill="#ffff00"/><rect x="358.04" y="913.45" width="5" height="43.07" fill="#00ff00"/><rect x="358.04" y="910.87" width="5" height="2.59" fill="#008000"/><rect x="369.18" y="1042.1" width="5" height="53.6" fill="#ff0000"/><rect x="369.18" y="1004.95" width="5" height="37.15" fill="#ff7f4c"/><rect x="369.18" y="958.55" width="5" height="46.39" fill="#ffff00"/><rect x="369.18" y="914.75" width="5" height="43.81" fill="#00ff00"/><rect x="369.18" y="910.87" width="5" height="3.88" fill="#008000"/><rect x="380.33" y="1041.36" width="5" height="54.34" fill="#ff0000"/><rect x="380.33" y="996.07" width="5" height="45.28" fill="#ff7f4c"/><rect x="380.33" y="956.89" width="5" height="39.18" fill="#ffff00"/><rect x="380.33" y="913.82" width="5" height="43.07" fill="#00ff00"/><rect x="380.33" y="910.87" width="5" height="2.96" fill="#008000"/><rect x="391.48" y="1037.48" width="5" height="58.22" fill="#ff0000"/><rect x="391.48" y="985.17" width="5" height="52.31" fill="#ff7f4c"/><rect x="391.48" y="937.11" width="5" height="48.06" fill="#ffff00"/><rect x="391.48" y="912.53" width="5" height="24.58" fill="#00ff00"/><rect x="391.48" y="910.87" width="5" height="1.66" fill="#008000"/><rect x="402.63" y="1056.88" width="5" height="38.81" fill="#ff0000"/><rect x="402.63" y="1003.47" width="5" height="53.42" fill="#ff7f4c"/><rect x="402.63" y="952.27" width="5" height="51.2" fill="#ffff00"/><rect x="402.63" y="912.53" width="5" height="39.74" fill="#00ff00"/><rect x="402.63" y="910.87" width="5" height="1.66" fill="#008000"/><rect x="413.78" y="1028.24" width="5" height="67.46" fill="#ff0000"/><rect x="413.78" y="986.46" width="5" height="41.77" fill="#ff7f4c"/><rect x="413.78" y="948.76" width="5" height="37.71" fill="#ffff00"/><rect x="413.78" y="918.44" width="5" height="30.31" fill="#00ff00"/><rect x="413.78" y="910.87" width="5" height="7.58" fill="#008000"/><rect x="424.93" y="1055.96" width="5" height="39.74" fill="#ff0000"/><rect x="424.93" y="1018.81" width="5" height="37.15" fill="#ff7f4c"/><rect x="424.93" y="981.29" width="5" height="37.52" fill="#ffff00"/><rect x="424.93" y="935.26" width="5" height="46.02" fill="#00ff00"/><rect x="424.93" y="910.87" width="5" height="24.4" fill="#008000"/><line x1="92.97" y1="1008.83" x2="427.43" y2="1010.86" stroke="#000" stroke-width="1.8" stroke-dasharray="1.5 1.9"/><polyline points="92.97,1041.73 104.12,1024.54 115.27,1003.28 126.42,1013.45 137.57,980.55 148.72,1000.33 159.86,1024.72 171.01,989.42 182.16,995.34 193.31,1029.53 204.46,1002.91 215.61,985.72 226.75,1036.55 237.9,1025.09 249.05,1009.57 260.2,1003.28 271.35,982.03 282.5,1005.87 293.65,997.37 304.79,995.71 315.94,1007.35 327.09,1004.95 338.24,1013.45 349.39,1017.15 360.54,1009.2 371.68,1016.04 382.83,1018.81 393.98,1030.27 405.13,1013.82 416.28,1028.98 427.43,993.12" fill="none" stroke="#000" stroke-width="1.5" stroke-linejoin="round"/><rect x="96.9" y="887" width="8.6" height="8.2" fill="#ff0000"/><text x="109.5" y="896.4" font-size="16.3">Poor</text><rect x="151.3" y="887" width="8.6" height="8.2" fill="#ff7f4c"/><text x="163.9" y="896.4" font-size="16.3">Fair</text><rect x="201.6" y="887" width="8.6" height="8.2" fill="#ffff00"/><text x="214.4" y="896.4" font-size="16.3">Moderate</text><rect x="290.7" y="887" width="8.6" height="8.2" fill="#00ff00"/><text x="303.4" y="896.4" font-size="16.3">Good</text><rect x="349.4" y="887" width="8.6" height="8.2" fill="#008000"/><text x="362.9" y="896.4" font-size="16.3">Excellent</text><text x="114.3" y="940.4" font-size="18.5">(j)</text><text x="70" y="1102.7" font-size="21" text-anchor="end">0</text><text x="70" y="1065.73" font-size="21" text-anchor="end">20</text><text x="70" y="1028.77" font-size="21" text-anchor="end">40</text><text x="70" y="991.8" font-size="21" text-anchor="end">60</text><text x="70" y="954.83" font-size="21" text-anchor="end">80</text><text x="70" y="917.87" font-size="21" text-anchor="end">100</text><text x="70" y="880.9" font-size="21" text-anchor="end">120</text><text x="450.2" y="1102.7" font-size="21">0.1</text><text x="450.2" y="1047.25" font-size="21">0.3</text><text x="450.2" y="991.8" font-size="21">0.5</text><text x="450.2" y="936.35" font-size="21">0.7</text><text x="450.2" y="880.9" font-size="21">0.9</text><text x="92.97" y="1120.9" font-size="21" text-anchor="middle">1987</text><text x="148.72" y="1120.9" font-size="21" text-anchor="middle">1992</text><text x="204.46" y="1120.9" font-size="21" text-anchor="middle">1998</text><text x="260.2" y="1120.9" font-size="21" text-anchor="middle">2005</text><text x="315.94" y="1120.9" font-size="21" text-anchor="middle">2010</text><text x="371.68" y="1120.9" font-size="21" text-anchor="middle">2015</text><text x="427.43" y="1120.9" font-size="21" text-anchor="middle">2020</text><text x="256.3" y="1142.3" font-size="19.5" text-anchor="middle">Year</text><text transform="translate(21.6,994.1) rotate(-90)" x="0" y="0" font-size="19.2" text-anchor="middle" dy="6.5">Area proportion(%)</text><text transform="translate(489,984.2) rotate(-90)" x="0" y="0" font-size="19.2" text-anchor="middle" dy="6.5">Mean of RSEI</text></g>
<g><line x1="580" y1="1058.73" x2="926.3" y2="1058.73" stroke="#efefef" stroke-width="1"/><line x1="580" y1="1021.77" x2="926.3" y2="1021.77" stroke="#efefef" stroke-width="1"/><line x1="580" y1="984.8" x2="926.3" y2="984.8" stroke="#efefef" stroke-width="1"/><line x1="580" y1="947.83" x2="926.3" y2="947.83" stroke="#efefef" stroke-width="1"/><line x1="580" y1="910.87" x2="926.3" y2="910.87" stroke="#efefef" stroke-width="1"/><rect x="580" y="873.9" width="346.3" height="221.8" fill="none" stroke="#8c8c8c" stroke-width="1.3"/><rect x="583.09" y="1049.31" width="5" height="46.39" fill="#ff0000"/><rect x="583.09" y="1014.19" width="5" height="35.12" fill="#ff7f4c"/><rect x="583.09" y="967.43" width="5" height="46.76" fill="#ffff00"/><rect x="583.09" y="925.65" width="5" height="41.77" fill="#00ff00"/><rect x="583.09" y="910.87" width="5" height="14.79" fill="#008000"/><rect x="594.26" y="1038.03" width="5" height="57.67" fill="#ff0000"/><rect x="594.26" y="1016.04" width="5" height="22" fill="#ff7f4c"/><rect x="594.26" y="985.54" width="5" height="30.5" fill="#ffff00"/><rect x="594.26" y="937.3" width="5" height="48.24" fill="#00ff00"/><rect x="594.26" y="910.87" width="5" height="26.43" fill="#008000"/><rect x="605.43" y="1041.73" width="5" height="53.97" fill="#ff0000"/><rect x="605.43" y="1024.35" width="5" height="17.37" fill="#ff7f4c"/><rect x="605.43" y="997" width="5" height="27.36" fill="#ffff00"/><rect x="605.43" y="948.02" width="5" height="48.98" fill="#00ff00"/><rect x="605.43" y="910.87" width="5" height="37.15" fill="#008000"/><rect x="616.6" y="1040.07" width="5" height="55.63" fill="#ff0000"/><rect x="616.6" y="1017.15" width="5" height="22.92" fill="#ff7f4c"/><rect x="616.6" y="981.29" width="5" height="35.86" fill="#ffff00"/><rect x="616.6" y="931.2" width="5" height="50.09" fill="#00ff00"/><rect x="616.6" y="910.87" width="5" height="20.33" fill="#008000"/><rect x="627.77" y="1070.75" width="5" height="24.95" fill="#ff0000"/><rect x="627.77" y="1032.86" width="5" height="37.89" fill="#ff7f4c"/><rect x="627.77" y="997" width="5" height="35.86" fill="#ffff00"/><rect x="627.77" y="941.18" width="5" height="55.82" fill="#00ff00"/><rect x="627.77" y="910.87" width="5" height="30.31" fill="#008000"/><rect x="638.94" y="1049.31" width="5" height="46.39" fill="#ff0000"/><rect x="638.94" y="1025.09" width="5" height="24.21" fill="#ff7f4c"/><rect x="638.94" y="986.28" width="5" height="38.81" fill="#ffff00"/><rect x="638.94" y="924.36" width="5" height="61.92" fill="#00ff00"/><rect x="638.94" y="910.87" width="5" height="13.49" fill="#008000"/><rect x="650.11" y="1037.48" width="5" height="58.22" fill="#ff0000"/><rect x="650.11" y="1009.94" width="5" height="27.54" fill="#ff7f4c"/><rect x="650.11" y="964.1" width="5" height="45.84" fill="#ffff00"/><rect x="650.11" y="929.17" width="5" height="34.93" fill="#00ff00"/><rect x="650.11" y="910.87" width="5" height="18.3" fill="#008000"/><rect x="661.28" y="1079.62" width="5" height="16.08" fill="#ff0000"/><rect x="661.28" y="1030.64" width="5" height="48.98" fill="#ff7f4c"/><rect x="661.28" y="974.45" width="5" height="56.19" fill="#ffff00"/><rect x="661.28" y="920.48" width="5" height="53.97" fill="#00ff00"/><rect x="661.28" y="910.87" width="5" height="9.61" fill="#008000"/><rect x="672.45" y="1038.59" width="5" height="57.11" fill="#ff0000"/><rect x="672.45" y="1014.37" width="5" height="24.21" fill="#ff7f4c"/><rect x="672.45" y="978.33" width="5" height="36.04" fill="#ffff00"/><rect x="672.45" y="938.22" width="5" height="40.11" fill="#00ff00"/><rect x="672.45" y="910.87" width="5" height="27.36" fill="#008000"/><rect x="683.62" y="1023.43" width="5" height="72.27" fill="#ff0000"/><rect x="683.62" y="996.44" width="5" height="26.99" fill="#ff7f4c"/><rect x="683.62" y="960.59" width="5" height="35.86" fill="#ffff00"/><rect x="683.62" y="923.07" width="5" height="37.52" fill="#00ff00"/><rect x="683.62" y="910.87" width="5" height="12.2" fill="#008000"/><rect x="694.8" y="1028.98" width="5" height="66.72" fill="#ff0000"/><rect x="694.8" y="1008.83" width="5" height="20.15" fill="#ff7f4c"/><rect x="694.8" y="983.14" width="5" height="25.69" fill="#ffff00"/><rect x="694.8" y="933.6" width="5" height="49.54" fill="#00ff00"/><rect x="694.8" y="910.87" width="5" height="22.73" fill="#008000"/><rect x="705.97" y="1034.52" width="5" height="61.18" fill="#ff0000"/><rect x="705.97" y="1017.15" width="5" height="17.37" fill="#ff7f4c"/><rect x="705.97" y="993.49" width="5" height="23.66" fill="#ffff00"/><rect x="705.97" y="951.35" width="5" height="42.14" fill="#00ff00"/><rect x="705.97" y="910.87" width="5" height="40.48" fill="#008000"/><rect x="717.14" y="1012.71" width="5" height="82.99" fill="#ff0000"/><rect x="717.14" y="996.07" width="5" height="16.64" fill="#ff7f4c"/><rect x="717.14" y="957.63" width="5" height="38.45" fill="#ffff00"/><rect x="717.14" y="918.08" width="5" height="39.55" fill="#00ff00"/><rect x="717.14" y="910.87" width="5" height="7.21" fill="#008000"/><rect x="728.31" y="1009.57" width="5" height="86.13" fill="#ff0000"/><rect x="728.31" y="982.21" width="5" height="27.36" fill="#ff7f4c"/><rect x="728.31" y="940.44" width="5" height="41.77" fill="#ffff00"/><rect x="728.31" y="914.19" width="5" height="26.25" fill="#00ff00"/><rect x="728.31" y="910.87" width="5" height="3.33" fill="#008000"/><rect x="739.48" y="1021.95" width="5" height="73.75" fill="#ff0000"/><rect x="739.48" y="976.11" width="5" height="45.84" fill="#ff7f4c"/><rect x="739.48" y="933.97" width="5" height="42.14" fill="#ffff00"/><rect x="739.48" y="910.87" width="5" height="23.1" fill="#00ff00"/><rect x="750.65" y="1020.66" width="5" height="75.04" fill="#ff0000"/><rect x="750.65" y="983.51" width="5" height="37.15" fill="#ff7f4c"/><rect x="750.65" y="941.73" width="5" height="41.77" fill="#ffff00"/><rect x="750.65" y="917.15" width="5" height="24.58" fill="#00ff00"/><rect x="750.65" y="910.87" width="5" height="6.28" fill="#008000"/><rect x="761.82" y="1031.19" width="5" height="64.51" fill="#ff0000"/><rect x="761.82" y="1001.62" width="5" height="29.57" fill="#ff7f4c"/><rect x="761.82" y="963.17" width="5" height="38.45" fill="#ffff00"/><rect x="761.82" y="916.41" width="5" height="46.76" fill="#00ff00"/><rect x="761.82" y="910.87" width="5" height="5.54" fill="#008000"/><rect x="772.99" y="1034.15" width="5" height="61.55" fill="#ff0000"/><rect x="772.99" y="995.34" width="5" height="38.81" fill="#ff7f4c"/><rect x="772.99" y="946.35" width="5" height="48.98" fill="#ffff00"/><rect x="772.99" y="912.53" width="5" height="33.82" fill="#00ff00"/><rect x="772.99" y="910.87" width="5" height="1.66" fill="#008000"/><rect x="784.16" y="1039.14" width="5" height="56.56" fill="#ff0000"/><rect x="784.16" y="1001.99" width="5" height="37.15" fill="#ff7f4c"/><rect x="784.16" y="967.06" width="5" height="34.93" fill="#ffff00"/><rect x="784.16" y="921.77" width="5" height="45.28" fill="#00ff00"/><rect x="784.16" y="910.87" width="5" height="10.91" fill="#008000"/><rect x="795.33" y="1037.11" width="5" height="58.59" fill="#ff0000"/><rect x="795.33" y="1018.07" width="5" height="19.04" fill="#ff7f4c"/><rect x="795.33" y="985.17" width="5" height="32.9" fill="#ffff00"/><rect x="795.33" y="929.72" width="5" height="55.45" fill="#00ff00"/><rect x="795.33" y="910.87" width="5" height="18.85" fill="#008000"/><rect x="806.5" y="1028.61" width="5" height="67.09" fill="#ff0000"/><rect x="806.5" y="997.37" width="5" height="31.24" fill="#ff7f4c"/><rect x="806.5" y="953.01" width="5" height="44.36" fill="#ffff00"/><rect x="806.5" y="917.15" width="5" height="35.86" fill="#00ff00"/><rect x="806.5" y="910.87" width="5" height="6.28" fill="#008000"/><rect x="817.68" y="1016.78" width="5" height="78.92" fill="#ff0000"/><rect x="817.68" y="986.46" width="5" height="30.31" fill="#ff7f4c"/><rect x="817.68" y="948.76" width="5" height="37.71" fill="#ffff00"/><rect x="817.68" y="918.08" width="5" height="30.68" fill="#00ff00"/><rect x="817.68" y="910.87" width="5" height="7.21" fill="#008000"/><rect x="828.85" y="1046.35" width="5" height="49.35" fill="#ff0000"/><rect x="828.85" y="1007.9" width="5" height="38.45" fill="#ff7f4c"/><rect x="828.85" y="961.51" width="5" height="46.39" fill="#ffff00"/><rect x="828.85" y="922.33" width="5" height="39.18" fill="#00ff00"/><rect x="828.85" y="910.87" width="5" height="11.46" fill="#008000"/><rect x="840.02" y="1029.53" width="5" height="66.17" fill="#ff0000"/><rect x="840.02" y="991.64" width="5" height="37.89" fill="#ff7f4c"/><rect x="840.02" y="960.4" width="5" height="31.24" fill="#ffff00"/><rect x="840.02" y="929.9" width="5" height="30.5" fill="#00ff00"/><rect x="840.02" y="910.87" width="5" height="19.04" fill="#008000"/><rect x="851.19" y="1050.6" width="5" height="45.1" fill="#ff0000"/><rect x="851.19" y="1020.66" width="5" height="29.94" fill="#ff7f4c"/><rect x="851.19" y="968.72" width="5" height="51.94" fill="#ffff00"/><rect x="851.19" y="921.03" width="5" height="47.69" fill="#00ff00"/><rect x="851.19" y="910.87" width="5" height="10.17" fill="#008000"/><rect x="862.36" y="1044.13" width="5" height="51.57" fill="#ff0000"/><rect x="862.36" y="1014.93" width="5" height="29.2" fill="#ff7f4c"/><rect x="862.36" y="977.96" width="5" height="36.97" fill="#ffff00"/><rect x="862.36" y="935.08" width="5" height="42.88" fill="#00ff00"/><rect x="862.36" y="910.87" width="5" height="24.21" fill="#008000"/><rect x="873.53" y="1026.2" width="5" height="69.5" fill="#ff0000"/><rect x="873.53" y="991.82" width="5" height="34.38" fill="#ff7f4c"/><rect x="873.53" y="956.89" width="5" height="34.93" fill="#ffff00"/><rect x="873.53" y="923.99" width="5" height="32.9" fill="#00ff00"/><rect x="873.53" y="910.87" width="5" height="13.12" fill="#008000"/><rect x="884.7" y="1011.23" width="5" height="84.47" fill="#ff0000"/><rect x="884.7" y="976.11" width="5" height="35.12" fill="#ff7f4c"/><rect x="884.7" y="941.73" width="5" height="34.38" fill="#ffff00"/><rect x="884.7" y="919.37" width="5" height="22.36" fill="#00ff00"/><rect x="884.7" y="910.87" width="5" height="8.5" fill="#008000"/><rect x="895.87" y="1034.52" width="5" height="61.18" fill="#ff0000"/><rect x="895.87" y="1000.88" width="5" height="33.64" fill="#ff7f4c"/><rect x="895.87" y="964.1" width="5" height="36.78" fill="#ffff00"/><rect x="895.87" y="929.17" width="5" height="34.93" fill="#00ff00"/><rect x="895.87" y="910.87" width="5" height="18.3" fill="#008000"/><rect x="907.04" y="1043.02" width="5" height="52.68" fill="#ff0000"/><rect x="907.04" y="998.66" width="5" height="44.36" fill="#ff7f4c"/><rect x="907.04" y="956.89" width="5" height="41.77" fill="#ffff00"/><rect x="907.04" y="924.36" width="5" height="32.53" fill="#00ff00"/><rect x="907.04" y="910.87" width="5" height="13.49" fill="#008000"/><rect x="918.21" y="1044.69" width="5" height="51.01" fill="#ff0000"/><rect x="918.21" y="1008.83" width="5" height="35.86" fill="#ff7f4c"/><rect x="918.21" y="970.01" width="5" height="38.81" fill="#ffff00"/><rect x="918.21" y="928.61" width="5" height="41.4" fill="#00ff00"/><rect x="918.21" y="910.87" width="5" height="17.74" fill="#008000"/><line x1="585.59" y1="1000.88" x2="920.71" y2="1024.72" stroke="#000" stroke-width="1.8" stroke-dasharray="1.5 1.9"/><polyline points="585.59,1004.02 596.76,1001.25 607.93,987.94 619.1,999.96 630.27,977.04 641.44,993.86 652.61,1010.49 663.78,988.5 674.95,1001.99 686.12,1023.06 697.3,1007.9 708.47,993.49 719.64,1032.86 730.81,1042.84 741.98,1042.1 753.15,1035.81 764.32,1018.62 775.49,1025.65 786.66,1014.37 797.83,1004.02 809,1023.98 820.18,1033.78 831.35,1012.53 842.52,1018.81 853.69,1003.47 864.86,999.96 876.03,1026.2 887.2,1040.8 898.37,1016.04 909.54,1014.74 920.71,1006.61" fill="none" stroke="#000" stroke-width="1.5" stroke-linejoin="round"/><rect x="589.5" y="887" width="8.6" height="8.2" fill="#ff0000"/><text x="602.1" y="896.4" font-size="16.3">Poor</text><rect x="643.9" y="887" width="8.6" height="8.2" fill="#ff7f4c"/><text x="656.5" y="896.4" font-size="16.3">Fair</text><rect x="694.2" y="887" width="8.6" height="8.2" fill="#ffff00"/><text x="707" y="896.4" font-size="16.3">Moderate</text><rect x="783.3" y="887" width="8.6" height="8.2" fill="#00ff00"/><text x="796" y="896.4" font-size="16.3">Good</text><rect x="842" y="887" width="8.6" height="8.2" fill="#008000"/><text x="855.5" y="896.4" font-size="16.3">Excellent</text><text x="605.8" y="940.4" font-size="18.5">(k)</text><text x="562.6" y="1102.7" font-size="21" text-anchor="end">0</text><text x="562.6" y="1065.73" font-size="21" text-anchor="end">20</text><text x="562.6" y="1028.77" font-size="21" text-anchor="end">40</text><text x="562.6" y="991.8" font-size="21" text-anchor="end">60</text><text x="562.6" y="954.83" font-size="21" text-anchor="end">80</text><text x="562.6" y="917.87" font-size="21" text-anchor="end">100</text><text x="562.6" y="880.9" font-size="21" text-anchor="end">120</text><text x="943.5" y="1102.7" font-size="21">0.1</text><text x="943.5" y="1047.25" font-size="21">0.3</text><text x="943.5" y="991.8" font-size="21">0.5</text><text x="943.5" y="936.35" font-size="21">0.7</text><text x="943.5" y="880.9" font-size="21">0.9</text><text x="585.59" y="1120.9" font-size="21" text-anchor="middle">1987</text><text x="641.44" y="1120.9" font-size="21" text-anchor="middle">1992</text><text x="697.3" y="1120.9" font-size="21" text-anchor="middle">1998</text><text x="753.15" y="1120.9" font-size="21" text-anchor="middle">2005</text><text x="809" y="1120.9" font-size="21" text-anchor="middle">2010</text><text x="864.86" y="1120.9" font-size="21" text-anchor="middle">2015</text><text x="920.71" y="1120.9" font-size="21" text-anchor="middle">2020</text><text x="751.2" y="1142.3" font-size="19.5" text-anchor="middle">Year</text><text transform="translate(515.6,994.1) rotate(-90)" x="0" y="0" font-size="19.2" text-anchor="middle" dy="6.5">Area proportion(%)</text><text transform="translate(986.7,984.2) rotate(-90)" x="0" y="0" font-size="19.2" text-anchor="middle" dy="6.5">Mean of RSEI</text></g>
<g><line x1="1076.8" y1="1058.23" x2="1422.8" y2="1058.23" stroke="#efefef" stroke-width="1"/><line x1="1076.8" y1="1021.27" x2="1422.8" y2="1021.27" stroke="#efefef" stroke-width="1"/><line x1="1076.8" y1="984.3" x2="1422.8" y2="984.3" stroke="#efefef" stroke-width="1"/><line x1="1076.8" y1="947.33" x2="1422.8" y2="947.33" stroke="#efefef" stroke-width="1"/><line x1="1076.8" y1="910.37" x2="1422.8" y2="910.37" stroke="#efefef" stroke-width="1"/><rect x="1076.8" y="873.4" width="346" height="221.8" fill="none" stroke="#8c8c8c" stroke-width="1.3"/><rect x="1079.88" y="1068.77" width="5" height="26.43" fill="#ff0000"/><rect x="1079.88" y="1009.99" width="5" height="58.78" fill="#ff7f4c"/><rect x="1079.88" y="939.02" width="5" height="70.98" fill="#ffff00"/><rect x="1079.88" y="912.03" width="5" height="26.99" fill="#00ff00"/><rect x="1079.88" y="910.37" width="5" height="1.66" fill="#008000"/><rect x="1091.04" y="1074.87" width="5" height="20.33" fill="#ff0000"/><rect x="1091.04" y="1024.22" width="5" height="50.64" fill="#ff7f4c"/><rect x="1091.04" y="950.48" width="5" height="73.75" fill="#ffff00"/><rect x="1091.04" y="916.65" width="5" height="33.82" fill="#00ff00"/><rect x="1091.04" y="910.37" width="5" height="6.28" fill="#008000"/><rect x="1102.2" y="1072.47" width="5" height="22.73" fill="#ff0000"/><rect x="1102.2" y="1034.39" width="5" height="38.08" fill="#ff7f4c"/><rect x="1102.2" y="975.8" width="5" height="58.59" fill="#ffff00"/><rect x="1102.2" y="925.15" width="5" height="50.64" fill="#00ff00"/><rect x="1102.2" y="910.37" width="5" height="14.79" fill="#008000"/><rect x="1113.36" y="1061.38" width="5" height="33.82" fill="#ff0000"/><rect x="1113.36" y="1002.78" width="5" height="58.59" fill="#ff7f4c"/><rect x="1113.36" y="936.61" width="5" height="66.17" fill="#ffff00"/><rect x="1113.36" y="912.03" width="5" height="24.58" fill="#00ff00"/><rect x="1113.36" y="910.37" width="5" height="1.66" fill="#008000"/><rect x="1124.53" y="1066.92" width="5" height="28.28" fill="#ff0000"/><rect x="1124.53" y="1005.74" width="5" height="61.18" fill="#ff7f4c"/><rect x="1124.53" y="939.94" width="5" height="65.8" fill="#ffff00"/><rect x="1124.53" y="912.95" width="5" height="26.99" fill="#00ff00"/><rect x="1124.53" y="910.37" width="5" height="2.59" fill="#008000"/><rect x="1135.69" y="1070.43" width="5" height="24.77" fill="#ff0000"/><rect x="1135.69" y="1009.62" width="5" height="60.81" fill="#ff7f4c"/><rect x="1135.69" y="927.56" width="5" height="82.07" fill="#ffff00"/><rect x="1135.69" y="910.37" width="5" height="17.19" fill="#00ff00"/><rect x="1146.85" y="1063.96" width="5" height="31.24" fill="#ff0000"/><rect x="1146.85" y="1009.99" width="5" height="53.97" fill="#ff7f4c"/><rect x="1146.85" y="944.93" width="5" height="65.06" fill="#ffff00"/><rect x="1146.85" y="914.06" width="5" height="30.87" fill="#00ff00"/><rect x="1146.85" y="910.37" width="5" height="3.7" fill="#008000"/><rect x="1158.01" y="1069.51" width="5" height="25.69" fill="#ff0000"/><rect x="1158.01" y="1009.99" width="5" height="59.52" fill="#ff7f4c"/><rect x="1158.01" y="937.72" width="5" height="72.27" fill="#ffff00"/><rect x="1158.01" y="911.29" width="5" height="26.43" fill="#00ff00"/><rect x="1158.01" y="910.37" width="5" height="0.92" fill="#008000"/><rect x="1169.17" y="1086.51" width="5" height="8.69" fill="#ff0000"/><rect x="1169.17" y="1061.75" width="5" height="24.77" fill="#ff7f4c"/><rect x="1169.17" y="997.61" width="5" height="64.14" fill="#ffff00"/><rect x="1169.17" y="924.41" width="5" height="73.19" fill="#00ff00"/><rect x="1169.17" y="910.37" width="5" height="14.05" fill="#008000"/><rect x="1180.33" y="1077.46" width="5" height="17.74" fill="#ff0000"/><rect x="1180.33" y="1035.68" width="5" height="41.77" fill="#ff7f4c"/><rect x="1180.33" y="965.26" width="5" height="70.42" fill="#ffff00"/><rect x="1180.33" y="917.21" width="5" height="48.06" fill="#00ff00"/><rect x="1180.33" y="910.37" width="5" height="6.84" fill="#008000"/><rect x="1191.49" y="1080.6" width="5" height="14.6" fill="#ff0000"/><rect x="1191.49" y="1053.43" width="5" height="27.17" fill="#ff7f4c"/><rect x="1191.49" y="986.33" width="5" height="67.09" fill="#ffff00"/><rect x="1191.49" y="926.45" width="5" height="59.89" fill="#00ff00"/><rect x="1191.49" y="910.37" width="5" height="16.08" fill="#008000"/><rect x="1202.65" y="1083" width="5" height="12.2" fill="#ff0000"/><rect x="1202.65" y="1050.1" width="5" height="32.9" fill="#ff7f4c"/><rect x="1202.65" y="973.58" width="5" height="76.52" fill="#ffff00"/><rect x="1202.65" y="915.73" width="5" height="57.85" fill="#00ff00"/><rect x="1202.65" y="910.37" width="5" height="5.36" fill="#008000"/><rect x="1213.82" y="1076.35" width="5" height="18.85" fill="#ff0000"/><rect x="1213.82" y="1063.59" width="5" height="12.75" fill="#ff7f4c"/><rect x="1213.82" y="1019.23" width="5" height="44.36" fill="#ffff00"/><rect x="1213.82" y="939.39" width="5" height="79.85" fill="#00ff00"/><rect x="1213.82" y="910.37" width="5" height="29.02" fill="#008000"/><rect x="1224.98" y="1036.05" width="5" height="59.15" fill="#ff0000"/><rect x="1224.98" y="962.67" width="5" height="73.38" fill="#ff7f4c"/><rect x="1224.98" y="915.36" width="5" height="47.32" fill="#ffff00"/><rect x="1224.98" y="910.37" width="5" height="4.99" fill="#00ff00"/><rect x="1236.14" y="1077.09" width="5" height="18.11" fill="#ff0000"/><rect x="1236.14" y="1046.59" width="5" height="30.5" fill="#ff7f4c"/><rect x="1236.14" y="986.89" width="5" height="59.7" fill="#ffff00"/><rect x="1236.14" y="921.27" width="5" height="65.62" fill="#00ff00"/><rect x="1236.14" y="910.37" width="5" height="10.91" fill="#008000"/><rect x="1247.3" y="1068.95" width="5" height="26.25" fill="#ff0000"/><rect x="1247.3" y="1043.63" width="5" height="25.32" fill="#ff7f4c"/><rect x="1247.3" y="975.61" width="5" height="68.02" fill="#ffff00"/><rect x="1247.3" y="918.87" width="5" height="56.74" fill="#00ff00"/><rect x="1247.3" y="910.37" width="5" height="8.5" fill="#008000"/><rect x="1258.46" y="1085.59" width="5" height="9.61" fill="#ff0000"/><rect x="1258.46" y="1061.38" width="5" height="24.21" fill="#ff7f4c"/><rect x="1258.46" y="1010.55" width="5" height="50.83" fill="#ffff00"/><rect x="1258.46" y="932.73" width="5" height="77.81" fill="#00ff00"/><rect x="1258.46" y="910.37" width="5" height="22.36" fill="#008000"/><rect x="1269.62" y="1068.95" width="5" height="26.25" fill="#ff0000"/><rect x="1269.62" y="1053.06" width="5" height="15.9" fill="#ff7f4c"/><rect x="1269.62" y="1005.37" width="5" height="47.69" fill="#ffff00"/><rect x="1269.62" y="921.27" width="5" height="84.1" fill="#00ff00"/><rect x="1269.62" y="910.37" width="5" height="10.91" fill="#008000"/><rect x="1280.78" y="1068.21" width="5" height="26.99" fill="#ff0000"/><rect x="1280.78" y="1049.92" width="5" height="18.3" fill="#ff7f4c"/><rect x="1280.78" y="1023.12" width="5" height="26.8" fill="#ffff00"/><rect x="1280.78" y="938.65" width="5" height="84.47" fill="#00ff00"/><rect x="1280.78" y="910.37" width="5" height="28.28" fill="#008000"/><rect x="1291.95" y="1085.4" width="5" height="9.8" fill="#ff0000"/><rect x="1291.95" y="1067.29" width="5" height="18.11" fill="#ff7f4c"/><rect x="1291.95" y="1029.77" width="5" height="37.52" fill="#ffff00"/><rect x="1291.95" y="935.32" width="5" height="94.45" fill="#00ff00"/><rect x="1291.95" y="910.37" width="5" height="24.95" fill="#008000"/><rect x="1303.11" y="1085.4" width="5" height="9.8" fill="#ff0000"/><rect x="1303.11" y="1061.19" width="5" height="24.21" fill="#ff7f4c"/><rect x="1303.11" y="1025.52" width="5" height="35.67" fill="#ffff00"/><rect x="1303.11" y="935.32" width="5" height="90.2" fill="#00ff00"/><rect x="1303.11" y="910.37" width="5" height="24.95" fill="#008000"/><rect x="1314.27" y="1084.29" width="5" height="10.91" fill="#ff0000"/><rect x="1314.27" y="1055.28" width="5" height="29.02" fill="#ff7f4c"/><rect x="1314.27" y="1020.53" width="5" height="34.75" fill="#ffff00"/><rect x="1314.27" y="936.61" width="5" height="83.91" fill="#00ff00"/><rect x="1314.27" y="910.37" width="5" height="26.25" fill="#008000"/><rect x="1325.43" y="1065.26" width="5" height="29.94" fill="#ff0000"/><rect x="1325.43" y="1041.97" width="5" height="23.29" fill="#ff7f4c"/><rect x="1325.43" y="1006.66" width="5" height="35.3" fill="#ffff00"/><rect x="1325.43" y="945.49" width="5" height="61.18" fill="#00ff00"/><rect x="1325.43" y="910.37" width="5" height="35.12" fill="#008000"/><rect x="1336.59" y="1076.35" width="5" height="18.85" fill="#ff0000"/><rect x="1336.59" y="1048.81" width="5" height="27.54" fill="#ff7f4c"/><rect x="1336.59" y="1008.7" width="5" height="40.11" fill="#ffff00"/><rect x="1336.59" y="934.58" width="5" height="74.12" fill="#00ff00"/><rect x="1336.59" y="910.37" width="5" height="24.21" fill="#008000"/><rect x="1347.75" y="1083.93" width="5" height="11.27" fill="#ff0000"/><rect x="1347.75" y="1053.8" width="5" height="30.13" fill="#ff7f4c"/><rect x="1347.75" y="1011.1" width="5" height="42.7" fill="#ffff00"/><rect x="1347.75" y="937.35" width="5" height="73.75" fill="#00ff00"/><rect x="1347.75" y="910.37" width="5" height="26.99" fill="#008000"/><rect x="1358.91" y="1063.04" width="5" height="32.16" fill="#ff0000"/><rect x="1358.91" y="1008.7" width="5" height="54.34" fill="#ff7f4c"/><rect x="1358.91" y="947.15" width="5" height="61.55" fill="#ffff00"/><rect x="1358.91" y="912.03" width="5" height="35.12" fill="#00ff00"/><rect x="1358.91" y="910.37" width="5" height="1.66" fill="#008000"/><rect x="1370.07" y="1039.57" width="5" height="55.63" fill="#ff0000"/><rect x="1370.07" y="1006.85" width="5" height="32.72" fill="#ff7f4c"/><rect x="1370.07" y="964.89" width="5" height="41.96" fill="#ffff00"/><rect x="1370.07" y="923.31" width="5" height="41.59" fill="#00ff00"/><rect x="1370.07" y="910.37" width="5" height="12.94" fill="#008000"/><rect x="1381.24" y="1029.95" width="5" height="65.25" fill="#ff0000"/><rect x="1381.24" y="990.95" width="5" height="39" fill="#ff7f4c"/><rect x="1381.24" y="942.71" width="5" height="48.24" fill="#ffff00"/><rect x="1381.24" y="916.28" width="5" height="26.43" fill="#00ff00"/><rect x="1381.24" y="910.37" width="5" height="5.91" fill="#008000"/><rect x="1392.4" y="1047.51" width="5" height="47.69" fill="#ff0000"/><rect x="1392.4" y="1012.95" width="5" height="34.56" fill="#ff7f4c"/><rect x="1392.4" y="974.13" width="5" height="38.81" fill="#ffff00"/><rect x="1392.4" y="918.5" width="5" height="55.63" fill="#00ff00"/><rect x="1392.4" y="910.37" width="5" height="8.13" fill="#008000"/><rect x="1403.56" y="1035.68" width="5" height="59.52" fill="#ff0000"/><rect x="1403.56" y="996.5" width="5" height="39.18" fill="#ff7f4c"/><rect x="1403.56" y="954.17" width="5" height="42.33" fill="#ffff00"/><rect x="1403.56" y="917.39" width="5" height="36.78" fill="#00ff00"/><rect x="1403.56" y="910.37" width="5" height="7.02" fill="#008000"/><rect x="1414.72" y="1041.23" width="5" height="53.97" fill="#ff0000"/><rect x="1414.72" y="998.72" width="5" height="42.51" fill="#ff7f4c"/><rect x="1414.72" y="947.15" width="5" height="51.57" fill="#ffff00"/><rect x="1414.72" y="912.03" width="5" height="35.12" fill="#00ff00"/><rect x="1414.72" y="910.37" width="5" height="1.66" fill="#008000"/><line x1="1082.38" y1="993.36" x2="1417.22" y2="987.26" stroke="#000" stroke-width="1.8" stroke-dasharray="1.5 1.9"/><polyline points="1082.38,1010.36 1093.54,999.27 1104.7,985.78 1115.86,1014.98 1127.03,1011.1 1138.19,1013.32 1149.35,1009.07 1160.51,1009.62 1171.67,967.67 1182.83,990.21 1193.99,974.5 1205.15,980.79 1216.32,958.42 1227.48,1044.19 1238.64,979.49 1249.8,986.33 1260.96,960.46 1272.12,975.06 1283.28,964.34 1294.45,952.88 1305.61,956.39 1316.77,958.79 1327.93,969.88 1339.09,968.03 1350.25,961.57 1361.41,1009.44 1372.57,1009.44 1383.74,1028.48 1394.9,1003.15 1406.06,1021.45 1417.22,1020.16" fill="none" stroke="#000" stroke-width="1.5" stroke-linejoin="round"/><rect x="1086.3" y="886.5" width="8.6" height="8.2" fill="#ff0000"/><text x="1098.9" y="895.9" font-size="16.3">Poor</text><rect x="1140.7" y="886.5" width="8.6" height="8.2" fill="#ff7f4c"/><text x="1153.3" y="895.9" font-size="16.3">Fair</text><rect x="1191" y="886.5" width="8.6" height="8.2" fill="#ffff00"/><text x="1203.8" y="895.9" font-size="16.3">Moderate</text><rect x="1280.1" y="886.5" width="8.6" height="8.2" fill="#00ff00"/><text x="1292.8" y="895.9" font-size="16.3">Good</text><rect x="1338.8" y="886.5" width="8.6" height="8.2" fill="#008000"/><text x="1352.3" y="895.9" font-size="16.3">Excellent</text><text x="1106.2" y="940.4" font-size="18.5">(l)</text><text x="1059.4" y="1102.2" font-size="21" text-anchor="end">0</text><text x="1059.4" y="1065.23" font-size="21" text-anchor="end">20</text><text x="1059.4" y="1028.27" font-size="21" text-anchor="end">40</text><text x="1059.4" y="991.3" font-size="21" text-anchor="end">60</text><text x="1059.4" y="954.33" font-size="21" text-anchor="end">80</text><text x="1059.4" y="917.37" font-size="21" text-anchor="end">100</text><text x="1059.4" y="880.4" font-size="21" text-anchor="end">120</text><text x="1440" y="1102.2" font-size="21">0.1</text><text x="1440" y="1046.75" font-size="21">0.3</text><text x="1440" y="991.3" font-size="21">0.5</text><text x="1440" y="935.85" font-size="21">0.7</text><text x="1440" y="880.4" font-size="21">0.9</text><text x="1082.38" y="1120.4" font-size="21" text-anchor="middle">1987</text><text x="1138.19" y="1120.4" font-size="21" text-anchor="middle">1992</text><text x="1193.99" y="1120.4" font-size="21" text-anchor="middle">1998</text><text x="1249.8" y="1120.4" font-size="21" text-anchor="middle">2005</text><text x="1305.61" y="1120.4" font-size="21" text-anchor="middle">2010</text><text x="1361.41" y="1120.4" font-size="21" text-anchor="middle">2015</text><text x="1417.22" y="1120.4" font-size="21" text-anchor="middle">2020</text><text x="1246" y="1141.8" font-size="19.5" text-anchor="middle">Year</text><text transform="translate(1010.8,993.6) rotate(-90)" x="0" y="0" font-size="19.2" text-anchor="middle" dy="6.5">Area proportion(%)</text><text transform="translate(1480.5,983.7) rotate(-90)" x="0" y="0" font-size="19.2" text-anchor="middle" dy="6.5">Mean of RSEI</text></g>
</svg></body></html>
